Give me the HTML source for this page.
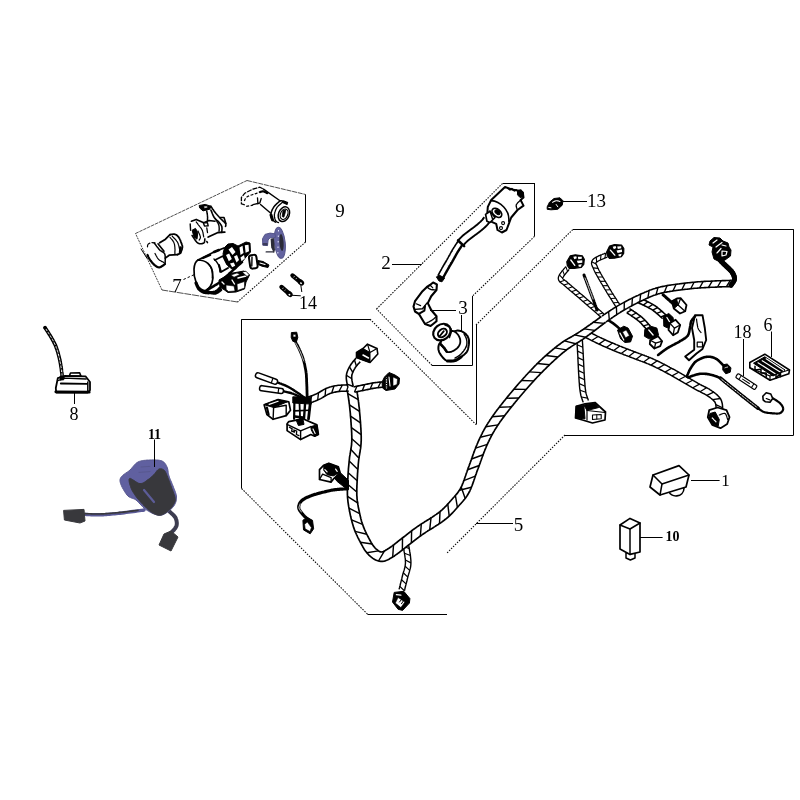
<!DOCTYPE html><html><head><meta charset="utf-8"><title>Wire harness</title>
<style>html,body{margin:0;padding:0;background:#fff;}svg{display:block;font-family:"Liberation Serif",serif;}</style></head><body>
<svg width="800" height="800" viewBox="0 0 800 800">
<rect width="800" height="800" fill="#fff"/>
<line x1="135.5" y1="233.5" x2="247.0" y2="180.5" stroke="#222" stroke-width="0.80" stroke-dasharray="3.5 0.8"/>
<line x1="247.0" y1="180.5" x2="305.6" y2="194.5" stroke="#222" stroke-width="0.80" stroke-dasharray="5 0.8"/>
<line x1="305.5" y1="194.5" x2="305.5" y2="242.0" stroke="#000" stroke-width="1.00"/>
<line x1="305.6" y1="242.0" x2="237.5" y2="302.0" stroke="#0a0a0a" stroke-width="1.08" stroke-dasharray="1.5 1.3"/>
<line x1="237.5" y1="302.0" x2="162.0" y2="290.0" stroke="#222" stroke-width="0.80" stroke-dasharray="7 0.8"/>
<line x1="162.0" y1="290.0" x2="135.5" y2="233.5" stroke="#222" stroke-width="0.90" stroke-dasharray="1.8 1.0"/>
<line x1="503.0" y1="183.5" x2="534.5" y2="183.5" stroke="#000" stroke-width="1.00"/>
<line x1="534.5" y1="183.0" x2="534.5" y2="236.4" stroke="#000" stroke-width="1.00"/>
<line x1="534.5" y1="236.4" x2="472.6" y2="296.0" stroke="#0a0a0a" stroke-width="1.08" stroke-dasharray="1.5 1.3"/>
<line x1="472.5" y1="296.0" x2="472.5" y2="365.3" stroke="#000" stroke-width="1.00"/>
<line x1="472.6" y1="365.5" x2="432.0" y2="365.5" stroke="#000" stroke-width="1.00"/>
<line x1="432.0" y1="365.3" x2="376.5" y2="309.0" stroke="#0a0a0a" stroke-width="1.08" stroke-dasharray="1.5 1.3"/>
<line x1="376.5" y1="309.0" x2="503.0" y2="183.0" stroke="#0a0a0a" stroke-width="1.08" stroke-dasharray="1.5 1.3"/>
<line x1="241.6" y1="319.5" x2="370.0" y2="319.5" stroke="#000" stroke-width="1.00"/>
<line x1="241.5" y1="319.2" x2="241.5" y2="488.5" stroke="#000" stroke-width="1.00"/>
<line x1="241.6" y1="488.5" x2="367.5" y2="614.2" stroke="#0a0a0a" stroke-width="1.08" stroke-dasharray="1.5 1.3"/>
<line x1="367.5" y1="614.5" x2="447.0" y2="614.5" stroke="#000" stroke-width="1.00"/>
<line x1="370.0" y1="319.2" x2="476.0" y2="424.5" stroke="#0a0a0a" stroke-width="1.08" stroke-dasharray="1.5 1.3"/>
<line x1="476.5" y1="424.5" x2="476.5" y2="325.0" stroke="#000" stroke-width="1.00"/>
<line x1="476.0" y1="325.0" x2="573.0" y2="229.3" stroke="#0a0a0a" stroke-width="1.08" stroke-dasharray="1.5 1.3"/>
<line x1="573.0" y1="229.5" x2="793.7" y2="229.5" stroke="#000" stroke-width="1.00"/>
<line x1="793.5" y1="229.3" x2="793.5" y2="435.0" stroke="#000" stroke-width="1.00"/>
<line x1="793.7" y1="435.5" x2="565.0" y2="435.5" stroke="#000" stroke-width="1.00"/>
<line x1="565.0" y1="435.0" x2="447.0" y2="553.0" stroke="#0a0a0a" stroke-width="1.08" stroke-dasharray="1.5 1.3"/>
<path d="M565.8,266.6 L565.5,267.0 L565.2,267.4 L564.9,267.8 L564.6,268.1 L564.2,268.5 L563.9,268.9 L563.6,269.3 L563.3,269.7 L562.9,270.0 L562.6,270.4 L562.3,270.8 L561.9,271.2 L561.6,271.6 L561.3,272.1 L561.0,272.5 L560.7,272.9 L560.4,273.4 L560.0,273.8 L559.7,274.3 L559.4,274.8 L559.1,275.3 L558.9,275.9 L558.6,276.5 L558.4,277.3 L558.3,278.1 L558.3,278.9 L558.5,279.8 L558.9,280.7 L559.3,281.4 L559.8,282.0 L560.4,282.4 L560.8,282.8 L561.3,283.1 L561.7,283.4 L562.1,283.7 L562.5,284.0 L562.9,284.3 L563.3,284.6 L563.6,284.8 L564.0,285.1 L564.3,285.4 L564.7,285.8 L565.0,286.1 L565.4,286.4 L565.8,286.8 L566.2,287.1 L566.5,287.4 L566.9,287.8 L567.3,288.1 L567.7,288.4 L568.1,288.8 L568.5,289.1 L568.8,289.4 L569.2,289.7 L569.6,290.1 L570.0,290.4 L570.4,290.7 L570.8,291.0 L571.1,291.4 L571.5,291.7 L571.9,292.0 L572.3,292.3 L572.7,292.7 L573.1,293.0 L573.4,293.3 L573.8,293.6 L574.2,293.9 L574.6,294.3 L575.0,294.6 L575.3,294.9 L575.7,295.2 L576.1,295.6 L576.5,295.9 L576.9,296.2 L577.2,296.5 L577.6,296.8 L578.0,297.2 L578.4,297.5 L578.7,297.8 L579.1,298.1 L579.5,298.5 L579.9,298.8 L580.3,299.1 L580.6,299.5 L581.0,299.8 L581.4,300.1 L581.8,300.4 L582.1,300.8 L582.5,301.1 L582.9,301.4 L583.3,301.8 L583.7,302.1 L584.0,302.4 L584.4,302.7 L584.8,303.1 L585.2,303.4 L585.5,303.7 L585.9,304.0 L586.3,304.4 L586.7,304.7 L587.0,305.0 L587.4,305.4 L587.8,305.7 L588.2,306.0 L588.6,306.3 L588.9,306.7 L589.3,307.0 L589.7,307.3 L590.1,307.7 L590.4,308.0 L590.8,308.3 L591.2,308.6 L591.6,309.0 L591.9,309.3 L592.3,309.6 L592.7,310.0 L593.1,310.3 L593.5,310.6 L593.8,310.9 L594.2,311.3 L594.6,311.6 L595.0,311.9 L595.3,312.3 L595.7,312.6 L596.1,312.9 L596.5,313.2 L596.9,313.6 L597.2,313.9 L597.6,314.2 L598.0,314.5 L598.4,314.9 L598.7,315.2 L599.1,315.5 L599.5,315.9 L599.9,316.2 L600.2,316.5 L600.6,316.8 L601.0,317.2 L601.4,317.5 L604.3,314.2 L603.9,313.9 L603.5,313.5 L603.1,313.2 L602.8,312.9 L602.4,312.5 L602.0,312.2 L601.6,311.9 L601.2,311.6 L600.9,311.2 L600.5,310.9 L600.1,310.6 L599.7,310.2 L599.4,309.9 L599.0,309.6 L598.6,309.3 L598.2,308.9 L597.9,308.6 L597.5,308.3 L597.1,307.9 L596.7,307.6 L596.3,307.3 L596.0,307.0 L595.6,306.6 L595.2,306.3 L594.8,306.0 L594.5,305.6 L594.1,305.3 L593.7,305.0 L593.3,304.7 L593.0,304.3 L592.6,304.0 L592.2,303.7 L591.8,303.4 L591.4,303.0 L591.1,302.7 L590.7,302.4 L590.3,302.0 L589.9,301.7 L589.6,301.4 L589.2,301.1 L588.8,300.7 L588.4,300.4 L588.0,300.1 L587.7,299.7 L587.3,299.4 L586.9,299.1 L586.5,298.8 L586.2,298.4 L585.8,298.1 L585.4,297.8 L585.0,297.4 L584.6,297.1 L584.3,296.8 L583.9,296.5 L583.5,296.1 L583.1,295.8 L582.8,295.5 L582.4,295.1 L582.0,294.8 L581.6,294.5 L581.2,294.2 L580.9,293.8 L580.5,293.5 L580.1,293.2 L579.7,292.9 L579.3,292.5 L579.0,292.2 L578.6,291.9 L578.2,291.6 L577.8,291.2 L577.4,290.9 L577.0,290.6 L576.7,290.3 L576.3,289.9 L575.9,289.6 L575.5,289.3 L575.1,289.0 L574.7,288.6 L574.4,288.3 L574.0,288.0 L573.6,287.7 L573.2,287.4 L572.8,287.0 L572.5,286.7 L572.1,286.4 L571.7,286.1 L571.3,285.7 L570.9,285.4 L570.6,285.1 L570.2,284.8 L569.8,284.5 L569.4,284.1 L569.1,283.8 L568.7,283.5 L568.3,283.2 L568.0,282.8 L567.6,282.5 L567.2,282.1 L566.8,281.8 L566.4,281.4 L566.0,281.1 L565.5,280.8 L565.1,280.5 L564.7,280.2 L564.3,279.9 L563.9,279.6 L563.5,279.3 L563.2,279.1 L563.0,278.9 L562.8,278.7 L562.7,278.6 L562.7,278.5 L562.7,278.4 L562.7,278.3 L562.7,278.1 L562.8,277.9 L562.9,277.6 L563.1,277.3 L563.3,277.0 L563.5,276.6 L563.7,276.2 L564.0,275.9 L564.2,275.5 L564.5,275.1 L564.8,274.7 L565.1,274.4 L565.4,274.0 L565.7,273.6 L566.0,273.2 L566.3,272.9 L566.6,272.5 L566.9,272.1 L567.3,271.7 L567.6,271.4 L567.9,271.0 L568.3,270.6 L568.6,270.2 L568.9,269.8 L569.2,269.4Z" fill="#fff" stroke="none"/>
<path d="M565.8,266.6 L565.2,267.4 L564.6,268.1 L563.9,268.9 L563.3,269.7 L562.6,270.4 L561.9,271.2 L561.3,272.1 L560.7,272.9 L560.0,273.8 L559.4,274.8 L558.9,275.9 L558.4,277.3 L558.3,278.9 L558.9,280.7 L559.8,282.0 L560.8,282.8 L561.7,283.4 L562.5,284.0 L563.3,284.6 L564.0,285.1 L564.7,285.8 L565.4,286.4 L566.2,287.1 L566.9,287.8 L567.7,288.4 L568.5,289.1 L569.2,289.7 L570.0,290.4 L570.8,291.0 L571.5,291.7 L572.3,292.3 L573.1,293.0 L573.8,293.6 L574.6,294.3 L575.3,294.9 L576.1,295.6 L576.9,296.2 L577.6,296.8 L578.4,297.5 L579.1,298.1 L579.9,298.8 L580.6,299.5 L581.4,300.1 L582.1,300.8 L582.9,301.4 L583.7,302.1 L584.4,302.7 L585.2,303.4 L585.9,304.0 L586.7,304.7 L587.4,305.4 L588.2,306.0 L588.9,306.7 L589.7,307.3 L590.4,308.0 L591.2,308.6 L591.9,309.3 L592.7,310.0 L593.5,310.6 L594.2,311.3 L595.0,311.9 L595.7,312.6 L596.5,313.2 L597.2,313.9 L598.0,314.5 L598.7,315.2 L599.5,315.9 L600.2,316.5 L601.0,317.2" fill="none" stroke="#000" stroke-width="1.30" stroke-linejoin="round"/>
<path d="M569.2,269.4 L568.6,270.2 L567.9,271.0 L567.3,271.7 L566.6,272.5 L566.0,273.2 L565.4,274.0 L564.8,274.7 L564.2,275.5 L563.7,276.2 L563.3,277.0 L562.9,277.6 L562.7,278.1 L562.7,278.4 L562.7,278.6 L563.0,278.9 L563.5,279.3 L564.3,279.9 L565.1,280.5 L566.0,281.1 L566.8,281.8 L567.6,282.5 L568.3,283.2 L569.1,283.8 L569.8,284.5 L570.6,285.1 L571.3,285.7 L572.1,286.4 L572.8,287.0 L573.6,287.7 L574.4,288.3 L575.1,289.0 L575.9,289.6 L576.7,290.3 L577.4,290.9 L578.2,291.6 L579.0,292.2 L579.7,292.9 L580.5,293.5 L581.2,294.2 L582.0,294.8 L582.8,295.5 L583.5,296.1 L584.3,296.8 L585.0,297.4 L585.8,298.1 L586.5,298.8 L587.3,299.4 L588.0,300.1 L588.8,300.7 L589.6,301.4 L590.3,302.0 L591.1,302.7 L591.8,303.4 L592.6,304.0 L593.3,304.7 L594.1,305.3 L594.8,306.0 L595.6,306.6 L596.3,307.3 L597.1,307.9 L597.9,308.6 L598.6,309.3 L599.4,309.9 L600.1,310.6 L600.9,311.2 L601.6,311.9 L602.4,312.5 L603.1,313.2 L603.9,313.9" fill="none" stroke="#000" stroke-width="1.30" stroke-linejoin="round"/>
<path d="M565.8,266.6 L567.6,271.4 M562.6,270.4 L564.5,275.1 M559.4,274.8 L562.7,278.3 M559.8,282.0 L564.7,280.2 M564.0,285.1 L568.7,283.5 M567.7,288.4 L572.5,286.7 M571.5,291.7 L576.3,289.9 M575.3,294.9 L580.1,293.2 M579.1,298.1 L583.9,296.5 M582.9,301.4 L587.7,299.7 M586.7,304.7 L591.4,303.0 M590.4,308.0 L595.2,306.3 M594.2,311.3 L599.0,309.6 M598.0,314.5 L602.8,312.9 " fill="none" stroke="#000" stroke-width="1.10"/>
<path d="M584.0,275.0 L584.1,275.4 L584.3,275.9 L584.5,276.4 L584.8,277.1 L585.0,277.8 L585.3,278.5 L585.6,279.3 L585.9,280.0 L586.2,280.8 L586.5,281.6 L586.7,282.3 L587.0,283.0 L587.2,283.7 L587.5,284.3 L587.8,285.0 L588.0,285.7 L588.2,286.3 L588.5,287.0 L588.8,287.7 L589.0,288.3 L589.2,289.0 L589.5,289.7 L589.8,290.3 L590.0,291.0 L590.2,291.7 L590.5,292.3 L590.7,292.9 L591.0,293.6 L591.2,294.2 L591.4,294.8 L591.7,295.5 L591.9,296.1 L592.2,296.8 L592.4,297.5 L592.7,298.2 L593.0,299.0 L593.3,299.8 L593.7,300.8 L594.0,301.8 L594.4,302.9 L594.8,303.9 L595.2,305.0 L595.6,306.0 L595.9,307.0 L596.3,308.0 L596.6,308.8 L596.8,309.5 L597.0,310.0" fill="none" stroke="#000" stroke-width="3.00" stroke-linecap="round" stroke-linejoin="round"/>
<path d="M585.0,278.0 L585.1,278.3 L585.3,278.6 L585.4,279.1 L585.6,279.5 L585.9,280.0 L586.1,280.6 L586.3,281.1 L586.6,281.7 L586.8,282.3 L587.1,282.9 L587.3,283.4 L587.5,284.0 L587.7,284.5 L587.9,285.1 L588.1,285.7 L588.3,286.2 L588.5,286.8 L588.7,287.4 L588.9,288.0 L589.1,288.6 L589.3,289.2 L589.6,289.8 L589.8,290.4 L590.0,291.0 L590.2,291.7 L590.5,292.4 L590.8,293.1 L591.1,293.9 L591.4,294.7 L591.7,295.4 L591.9,296.2 L592.2,296.9 L592.4,297.5 L592.7,298.1 L592.9,298.6 L593.0,299.0" fill="none" stroke="#fff" stroke-width="0.90" stroke-linecap="round" stroke-linejoin="round"/>
<path d="M605.6,253.0 L605.2,253.2 L604.7,253.4 L604.3,253.6 L603.8,253.8 L603.4,254.0 L602.9,254.1 L602.4,254.3 L602.0,254.5 L601.5,254.7 L601.0,254.9 L600.6,255.1 L600.1,255.3 L599.6,255.5 L599.2,255.7 L598.7,255.9 L598.2,256.2 L597.7,256.4 L597.3,256.6 L596.8,256.8 L596.3,257.1 L595.8,257.3 L595.4,257.6 L594.9,257.9 L594.4,258.3 L593.9,258.6 L593.3,259.1 L592.8,259.6 L592.4,260.2 L591.9,261.0 L591.7,261.8 L591.5,262.6 L591.5,263.4 L591.6,264.2 L591.8,264.9 L592.0,265.5 L592.2,266.1 L592.5,266.6 L592.7,267.0 L592.9,267.5 L593.1,267.9 L593.3,268.4 L593.5,268.8 L593.7,269.3 L593.9,269.8 L594.1,270.2 L594.3,270.7 L594.5,271.2 L594.8,271.7 L595.0,272.1 L595.2,272.6 L595.5,273.0 L595.7,273.5 L596.0,273.9 L596.2,274.4 L596.5,274.8 L596.7,275.3 L597.0,275.7 L597.2,276.2 L597.5,276.6 L597.7,277.0 L598.0,277.5 L598.2,277.9 L598.5,278.3 L598.7,278.8 L599.0,279.2 L599.2,279.6 L599.5,280.1 L599.7,280.5 L600.0,280.9 L600.2,281.4 L600.5,281.8 L600.7,282.2 L601.0,282.7 L601.2,283.1 L601.5,283.5 L601.8,284.0 L602.0,284.4 L602.3,284.8 L602.5,285.3 L602.8,285.7 L603.0,286.1 L603.3,286.6 L603.5,287.0 L603.8,287.4 L604.1,287.8 L604.3,288.3 L604.6,288.7 L604.8,289.1 L605.1,289.6 L605.4,290.0 L605.6,290.4 L605.9,290.9 L606.1,291.3 L606.4,291.7 L606.7,292.1 L606.9,292.6 L607.2,293.0 L607.4,293.4 L607.7,293.9 L608.0,294.3 L608.2,294.7 L608.5,295.1 L608.8,295.6 L609.0,296.0 L609.3,296.4 L609.6,296.8 L609.8,297.3 L610.1,297.7 L610.4,298.1 L610.6,298.5 L610.9,299.0 L611.2,299.4 L611.4,299.8 L611.7,300.2 L612.0,300.7 L612.3,301.1 L612.5,301.5 L612.8,301.9 L613.1,302.4 L613.3,302.8 L613.6,303.2 L613.9,303.6 L614.2,304.0 L614.4,304.5 L614.7,304.9 L615.0,305.3 L615.2,305.7 L615.5,306.1 L615.8,306.6 L616.1,307.0 L616.3,307.4 L616.6,307.8 L616.9,308.2 L617.2,308.7 L617.4,309.1 L617.7,309.5 L618.0,309.9 L621.7,307.5 L621.4,307.1 L621.1,306.7 L620.8,306.3 L620.6,305.8 L620.3,305.4 L620.0,305.0 L619.7,304.6 L619.5,304.2 L619.2,303.7 L618.9,303.3 L618.7,302.9 L618.4,302.5 L618.1,302.1 L617.8,301.6 L617.6,301.2 L617.3,300.8 L617.0,300.4 L616.8,300.0 L616.5,299.5 L616.2,299.1 L616.0,298.7 L615.7,298.3 L615.4,297.9 L615.1,297.5 L614.9,297.0 L614.6,296.6 L614.3,296.2 L614.1,295.8 L613.8,295.4 L613.6,294.9 L613.3,294.5 L613.0,294.1 L612.8,293.7 L612.5,293.2 L612.2,292.8 L612.0,292.4 L611.7,292.0 L611.5,291.5 L611.2,291.1 L610.9,290.7 L610.7,290.3 L610.4,289.8 L610.2,289.4 L609.9,289.0 L609.6,288.6 L609.4,288.1 L609.1,287.7 L608.9,287.3 L608.6,286.9 L608.3,286.4 L608.1,286.0 L607.8,285.6 L607.6,285.2 L607.3,284.7 L607.1,284.3 L606.8,283.9 L606.6,283.4 L606.3,283.0 L606.1,282.6 L605.8,282.2 L605.6,281.7 L605.3,281.3 L605.0,280.9 L604.8,280.4 L604.5,280.0 L604.3,279.6 L604.1,279.2 L603.8,278.7 L603.6,278.3 L603.3,277.9 L603.0,277.4 L602.8,277.0 L602.5,276.6 L602.3,276.1 L602.0,275.7 L601.8,275.3 L601.5,274.8 L601.3,274.4 L601.0,274.0 L600.8,273.5 L600.6,273.1 L600.3,272.7 L600.1,272.2 L599.8,271.8 L599.6,271.4 L599.4,271.0 L599.1,270.5 L598.9,270.1 L598.7,269.7 L598.5,269.3 L598.3,268.8 L598.1,268.4 L597.9,268.0 L597.7,267.5 L597.5,267.1 L597.3,266.6 L597.1,266.1 L596.9,265.7 L596.7,265.2 L596.5,264.8 L596.3,264.4 L596.1,264.0 L596.0,263.7 L595.9,263.4 L595.9,263.2 L595.9,263.0 L595.9,262.9 L596.0,262.8 L596.0,262.6 L596.2,262.4 L596.4,262.3 L596.6,262.1 L596.9,261.9 L597.2,261.6 L597.6,261.4 L598.0,261.2 L598.4,261.0 L598.8,260.8 L599.2,260.5 L599.6,260.3 L600.1,260.1 L600.5,259.9 L600.9,259.7 L601.4,259.5 L601.8,259.4 L602.3,259.2 L602.7,259.0 L603.2,258.8 L603.7,258.6 L604.1,258.4 L604.6,258.2 L605.0,258.0 L605.5,257.8 L606.0,257.6 L606.5,257.4 L606.9,257.2 L607.4,257.0Z" fill="#fff" stroke="none"/>
<path d="M605.6,253.0 L604.7,253.4 L603.8,253.8 L602.9,254.1 L602.0,254.5 L601.0,254.9 L600.1,255.3 L599.2,255.7 L598.2,256.2 L597.3,256.6 L596.3,257.1 L595.4,257.6 L594.4,258.3 L593.3,259.1 L592.4,260.2 L591.7,261.8 L591.5,263.4 L591.8,264.9 L592.2,266.1 L592.7,267.0 L593.1,267.9 L593.5,268.8 L593.9,269.8 L594.3,270.7 L594.8,271.7 L595.2,272.6 L595.7,273.5 L596.2,274.4 L596.7,275.3 L597.2,276.2 L597.7,277.0 L598.2,277.9 L598.7,278.8 L599.2,279.6 L599.7,280.5 L600.2,281.4 L600.7,282.2 L601.2,283.1 L601.8,284.0 L602.3,284.8 L602.8,285.7 L603.3,286.6 L603.8,287.4 L604.3,288.3 L604.8,289.1 L605.4,290.0 L605.9,290.9 L606.4,291.7 L606.9,292.6 L607.4,293.4 L608.0,294.3 L608.5,295.1 L609.0,296.0 L609.6,296.8 L610.1,297.7 L610.6,298.5 L611.2,299.4 L611.7,300.2 L612.3,301.1 L612.8,301.9 L613.3,302.8 L613.9,303.6 L614.4,304.5 L615.0,305.3 L615.5,306.1 L616.1,307.0 L616.6,307.8 L617.2,308.7 L617.7,309.5" fill="none" stroke="#000" stroke-width="1.30" stroke-linejoin="round"/>
<path d="M607.4,257.0 L606.5,257.4 L605.5,257.8 L604.6,258.2 L603.7,258.6 L602.7,259.0 L601.8,259.4 L600.9,259.7 L600.1,260.1 L599.2,260.5 L598.4,261.0 L597.6,261.4 L596.9,261.9 L596.4,262.3 L596.0,262.6 L595.9,262.9 L595.9,263.2 L596.0,263.7 L596.3,264.4 L596.7,265.2 L597.1,266.1 L597.5,267.1 L597.9,268.0 L598.3,268.8 L598.7,269.7 L599.1,270.5 L599.6,271.4 L600.1,272.2 L600.6,273.1 L601.0,274.0 L601.5,274.8 L602.0,275.7 L602.5,276.6 L603.0,277.4 L603.6,278.3 L604.1,279.2 L604.5,280.0 L605.0,280.9 L605.6,281.7 L606.1,282.6 L606.6,283.4 L607.1,284.3 L607.6,285.2 L608.1,286.0 L608.6,286.9 L609.1,287.7 L609.6,288.6 L610.2,289.4 L610.7,290.3 L611.2,291.1 L611.7,292.0 L612.2,292.8 L612.8,293.7 L613.3,294.5 L613.8,295.4 L614.3,296.2 L614.9,297.0 L615.4,297.9 L616.0,298.7 L616.5,299.5 L617.0,300.4 L617.6,301.2 L618.1,302.1 L618.7,302.9 L619.2,303.7 L619.7,304.6 L620.3,305.4 L620.8,306.3 L621.4,307.1" fill="none" stroke="#000" stroke-width="1.30" stroke-linejoin="round"/>
<path d="M605.6,253.0 L605.0,258.0 M601.0,254.9 L600.5,259.9 M596.3,257.1 L596.6,262.1 M591.7,261.8 L596.1,264.0 M593.1,267.9 L598.1,268.4 M595.2,272.6 L600.3,272.7 M597.7,277.0 L602.8,277.0 M600.2,281.4 L605.3,281.3 M602.8,285.7 L607.8,285.6 M605.4,290.0 L610.4,289.8 M608.0,294.3 L613.0,294.1 M610.6,298.5 L615.7,298.3 M613.3,302.8 L618.4,302.5 M616.1,307.0 L621.1,306.7 " fill="none" stroke="#000" stroke-width="1.10"/>
<g transform="translate(575.3,261.5) rotate(0.0) scale(1.00)">
<path d="M-8.5,0.3 L-5,-5.7 L0,-6.7 L7,-5.7 L9,-2.2 L8.5,2.8 L6,5.8 L-1,6.8 L-6,6.8 L-8,3.8 Z" fill="#000" stroke="#000" stroke-width="1.2" stroke-linejoin="round"/>
<path d="M-2,-4.7 L1,-5.2 L1.5,-3.2 L-1,-2.2 Z M2.5,-4.7 L6.5,-4.7 L6.5,-2.7 L3,-2.2 Z M1.5,-0.7 L7,-1.2 L7,1.3 L2.5,1.8 Z M3,3.3 L6.5,2.8 L5.5,5.3 L3.5,5.3 Z" fill="#fff"/>
<path d="M-4.5,-1.5 L-0.5,3.8" stroke="#fff" stroke-width="1.4" fill="none" stroke-linecap="round"/>
</g>
<g transform="translate(615.0,251.3) rotate(-4.0) scale(1.00)">
<path d="M-8.5,0.3 L-5,-5.7 L0,-6.7 L7,-5.7 L9,-2.2 L8.5,2.8 L6,5.8 L-1,6.8 L-6,6.8 L-8,3.8 Z" fill="#000" stroke="#000" stroke-width="1.2" stroke-linejoin="round"/>
<path d="M-2,-4.7 L1,-5.2 L1.5,-3.2 L-1,-2.2 Z M2.5,-4.7 L6.5,-4.7 L6.5,-2.7 L3,-2.2 Z M1.5,-0.7 L7,-1.2 L7,1.3 L2.5,1.8 Z M3,3.3 L6.5,2.8 L5.5,5.3 L3.5,5.3 Z" fill="#fff"/>
<path d="M-4.5,-1.5 L-0.5,3.8" stroke="#fff" stroke-width="1.4" fill="none" stroke-linecap="round"/>
</g>
<path d="M663.1,294.8 L663.3,294.9 L663.6,295.2 L663.9,295.4 L664.2,295.8 L664.6,296.1 L665.0,296.4 L665.4,296.8 L665.8,297.2 L666.2,297.6 L666.6,298.0 L667.1,298.4 L667.5,298.8 L667.9,299.1 L668.4,299.6 L669.0,300.0 L669.5,300.5 L670.0,301.0 L670.6,301.5 L671.1,302.0 L671.6,302.4 L672.1,302.8 L672.5,303.2 L672.8,303.5 L673.1,303.8" fill="none" stroke="#000" stroke-width="3.00" stroke-linecap="round" stroke-linejoin="round"/>
<path d="M638.4,302.9 L638.8,303.1 L639.3,303.3 L639.8,303.5 L640.2,303.7 L640.7,303.9 L641.1,304.1 L641.6,304.3 L642.0,304.5 L642.5,304.7 L642.9,304.9 L643.3,305.1 L643.8,305.3 L644.2,305.5 L644.6,305.7 L645.1,306.0 L645.5,306.2 L646.0,306.4 L646.4,306.6 L646.8,306.9 L647.3,307.1 L647.7,307.3 L648.2,307.5 L648.6,307.8 L649.0,308.0 L649.4,308.2 L649.9,308.5 L650.3,308.7 L650.7,308.9 L651.1,309.2 L651.5,309.4 L651.9,309.7 L652.3,309.9 L652.7,310.2 L653.0,310.4 L653.4,310.7 L653.8,311.0 L654.2,311.2 L654.5,311.5 L654.9,311.8 L655.3,312.1 L655.6,312.4 L656.0,312.8 L656.4,313.1 L656.7,313.4 L657.1,313.7 L657.5,314.0 L657.9,314.4 L658.2,314.7 L658.6,315.0 L659.0,315.3 L659.3,315.7 L659.7,316.0 L660.1,316.3 L660.4,316.7 L660.8,317.0 L661.2,317.3 L661.5,317.7 L661.9,318.0 L662.3,318.4 L662.7,318.7 L666.0,315.0 L665.6,314.6 L665.3,314.3 L664.9,314.0 L664.5,313.7 L664.2,313.3 L663.8,313.0 L663.4,312.6 L663.1,312.3 L662.7,312.0 L662.3,311.6 L661.9,311.3 L661.5,310.9 L661.2,310.6 L660.8,310.3 L660.4,309.9 L660.0,309.6 L659.6,309.3 L659.2,308.9 L658.8,308.6 L658.4,308.3 L658.0,307.9 L657.6,307.6 L657.2,307.3 L656.8,307.0 L656.3,306.6 L655.9,306.3 L655.5,306.0 L655.0,305.7 L654.6,305.4 L654.1,305.2 L653.7,304.9 L653.2,304.6 L652.8,304.4 L652.3,304.1 L651.8,303.8 L651.4,303.6 L650.9,303.3 L650.5,303.1 L650.0,302.9 L649.6,302.6 L649.1,302.4 L648.7,302.2 L648.2,302.0 L647.8,301.7 L647.3,301.5 L646.9,301.3 L646.4,301.0 L645.9,300.8 L645.5,300.6 L645.0,300.4 L644.5,300.1 L644.1,299.9 L643.6,299.7 L643.1,299.5 L642.7,299.3 L642.2,299.1 L641.7,298.9 L641.3,298.7 L640.8,298.5 L640.4,298.3Z" fill="#fff" stroke="none"/>
<path d="M638.4,302.9 L639.3,303.3 L640.2,303.7 L641.1,304.1 L642.0,304.5 L642.9,304.9 L643.8,305.3 L644.6,305.7 L645.5,306.2 L646.4,306.6 L647.3,307.1 L648.2,307.5 L649.0,308.0 L649.9,308.5 L650.7,308.9 L651.5,309.4 L652.3,309.9 L653.0,310.4 L653.8,311.0 L654.5,311.5 L655.3,312.1 L656.0,312.8 L656.7,313.4 L657.5,314.0 L658.2,314.7 L659.0,315.3 L659.7,316.0 L660.4,316.7 L661.2,317.3 L661.9,318.0 L662.7,318.7" fill="none" stroke="#000" stroke-width="1.60" stroke-linejoin="round"/>
<path d="M640.4,298.3 L641.3,298.7 L642.2,299.1 L643.1,299.5 L644.1,299.9 L645.0,300.4 L645.9,300.8 L646.9,301.3 L647.8,301.7 L648.7,302.2 L649.6,302.6 L650.5,303.1 L651.4,303.6 L652.3,304.1 L653.2,304.6 L654.1,305.2 L655.0,305.7 L655.9,306.3 L656.8,307.0 L657.6,307.6 L658.4,308.3 L659.2,308.9 L660.0,309.6 L660.8,310.3 L661.5,310.9 L662.3,311.6 L663.1,312.3 L663.8,313.0 L664.5,313.7 L665.3,314.3 L666.0,315.0" fill="none" stroke="#000" stroke-width="1.60" stroke-linejoin="round"/>
<path d="M638.4,302.9 L642.7,299.3 M643.3,305.1 L647.8,301.7 M648.2,307.5 L652.8,304.4 M652.7,310.2 L657.6,307.6 M656.7,313.4 L661.9,311.3 M660.8,317.0 L666.0,315.0 " fill="none" stroke="#000" stroke-width="1.36"/>
<path d="M626.8,312.7 L627.2,313.0 L627.6,313.3 L628.0,313.5 L628.4,313.8 L628.9,314.1 L629.3,314.4 L629.7,314.6 L630.1,314.9 L630.5,315.2 L630.9,315.4 L631.3,315.7 L631.7,316.0 L632.1,316.3 L632.5,316.6 L632.9,316.8 L633.3,317.1 L633.8,317.4 L634.2,317.7 L634.6,318.0 L635.0,318.3 L635.4,318.6 L635.8,318.8 L636.2,319.1 L636.6,319.4 L636.9,319.7 L637.3,320.0 L637.7,320.3 L638.1,320.6 L638.4,320.8 L638.8,321.1 L639.1,321.4 L639.5,321.8 L639.8,322.1 L640.1,322.4 L640.5,322.7 L640.8,323.0 L641.1,323.4 L641.5,323.7 L641.8,324.1 L642.1,324.4 L642.5,324.8 L642.8,325.2 L643.1,325.5 L643.4,325.9 L643.8,326.3 L644.1,326.6 L644.4,327.0 L644.8,327.4 L645.1,327.7 L645.4,328.1 L645.7,328.5 L646.1,328.9 L646.4,329.3 L646.7,329.6 L650.5,326.3 L650.1,325.9 L649.8,325.6 L649.5,325.2 L649.2,324.8 L648.8,324.4 L648.5,324.1 L648.2,323.7 L647.8,323.3 L647.5,322.9 L647.2,322.6 L646.8,322.2 L646.5,321.8 L646.1,321.4 L645.8,321.0 L645.4,320.7 L645.1,320.3 L644.7,319.9 L644.4,319.5 L644.0,319.2 L643.6,318.8 L643.2,318.4 L642.8,318.1 L642.4,317.7 L642.0,317.3 L641.6,317.0 L641.2,316.7 L640.8,316.3 L640.4,316.0 L639.9,315.7 L639.5,315.4 L639.1,315.1 L638.7,314.8 L638.3,314.5 L637.8,314.2 L637.4,313.9 L637.0,313.6 L636.6,313.3 L636.2,313.0 L635.8,312.8 L635.4,312.5 L635.0,312.2 L634.6,311.9 L634.1,311.6 L633.7,311.3 L633.3,311.0 L632.9,310.7 L632.4,310.4 L632.0,310.2 L631.6,309.9 L631.2,309.6 L630.7,309.3 L630.3,309.1 L629.9,308.8 L629.5,308.5Z" fill="#fff" stroke="none"/>
<path d="M626.8,312.7 L627.6,313.3 L628.4,313.8 L629.3,314.4 L630.1,314.9 L630.9,315.4 L631.7,316.0 L632.5,316.6 L633.3,317.1 L634.2,317.7 L635.0,318.3 L635.8,318.8 L636.6,319.4 L637.3,320.0 L638.1,320.6 L638.8,321.1 L639.5,321.8 L640.1,322.4 L640.8,323.0 L641.5,323.7 L642.1,324.4 L642.8,325.2 L643.4,325.9 L644.1,326.6 L644.8,327.4 L645.4,328.1 L646.1,328.9 L646.7,329.6" fill="none" stroke="#000" stroke-width="1.60" stroke-linejoin="round"/>
<path d="M629.5,308.5 L630.3,309.1 L631.2,309.6 L632.0,310.2 L632.9,310.7 L633.7,311.3 L634.6,311.9 L635.4,312.5 L636.2,313.0 L637.0,313.6 L637.8,314.2 L638.7,314.8 L639.5,315.4 L640.4,316.0 L641.2,316.7 L642.0,317.3 L642.8,318.1 L643.6,318.8 L644.4,319.5 L645.1,320.3 L645.8,321.0 L646.5,321.8 L647.2,322.6 L647.8,323.3 L648.5,324.1 L649.2,324.8 L649.8,325.6 L650.5,326.3" fill="none" stroke="#000" stroke-width="1.60" stroke-linejoin="round"/>
<path d="M626.8,312.7 L631.6,309.9 M631.3,315.7 L636.2,313.0 M635.8,318.8 L640.8,316.3 M639.8,322.1 L645.1,320.3 M643.4,325.9 L648.8,324.4 " fill="none" stroke="#000" stroke-width="1.36"/>
<path d="M608.0,320.0 L608.3,320.2 L608.7,320.4 L609.1,320.7 L609.6,321.0 L610.1,321.3 L610.6,321.7 L611.2,322.1 L611.8,322.4 L612.4,322.8 L612.9,323.2 L613.5,323.6 L614.0,324.0 L614.5,324.4 L615.1,324.8 L615.6,325.3 L616.2,325.8 L616.8,326.3 L617.4,326.8 L617.9,327.2 L618.4,327.7 L618.9,328.1 L619.3,328.4 L619.7,328.8 L620.0,329.0" fill="none" stroke="#000" stroke-width="2.60" stroke-linecap="round" stroke-linejoin="round"/>
<path d="M584.5,336.9 L585.0,337.1 L585.4,337.3 L585.9,337.6 L586.3,337.8 L586.7,338.0 L587.2,338.3 L587.6,338.5 L588.1,338.7 L588.5,338.9 L589.0,339.2 L589.4,339.4 L589.9,339.6 L590.3,339.9 L590.8,340.1 L591.2,340.3 L591.7,340.5 L592.1,340.8 L592.6,341.0 L593.0,341.2 L593.5,341.4 L593.9,341.7 L594.4,341.9 L594.8,342.1 L595.3,342.3 L595.7,342.6 L596.2,342.8 L596.6,343.0 L597.1,343.2 L597.6,343.4 L598.0,343.7 L598.5,343.9 L598.9,344.1 L599.4,344.3 L599.9,344.5 L600.3,344.7 L600.8,344.9 L601.2,345.1 L601.7,345.4 L602.2,345.6 L602.6,345.8 L603.1,346.0 L603.5,346.2 L604.0,346.4 L604.5,346.6 L604.9,346.8 L605.4,347.0 L605.8,347.2 L606.3,347.4 L606.8,347.6 L607.2,347.8 L607.7,348.0 L608.2,348.2 L608.6,348.4 L609.1,348.6 L609.5,348.8 L610.0,349.0 L610.5,349.2 L610.9,349.4 L611.4,349.6 L611.9,349.8 L612.3,350.0 L612.8,350.2 L613.3,350.4 L613.7,350.6 L614.2,350.8 L614.7,351.0 L615.1,351.2 L615.6,351.3 L616.1,351.5 L616.5,351.7 L617.0,351.9 L617.5,352.1 L617.9,352.3 L618.4,352.5 L618.9,352.7 L619.3,352.8 L619.8,353.0 L620.3,353.2 L620.7,353.4 L621.2,353.6 L621.7,353.8 L622.2,353.9 L622.6,354.1 L623.1,354.3 L623.6,354.5 L624.0,354.7 L624.5,354.8 L625.0,355.0 L625.4,355.2 L625.9,355.4 L626.4,355.6 L626.8,355.7 L627.3,355.9 L627.8,356.1 L628.2,356.3 L628.7,356.4 L629.2,356.6 L629.6,356.8 L630.1,357.0 L630.6,357.2 L631.0,357.3 L631.5,357.5 L632.0,357.7 L632.4,357.9 L632.9,358.1 L633.4,358.2 L633.8,358.4 L634.3,358.6 L634.8,358.8 L635.2,359.0 L635.7,359.1 L636.2,359.3 L636.7,359.5 L637.1,359.7 L637.6,359.8 L638.1,360.0 L638.5,360.2 L639.0,360.4 L639.5,360.5 L639.9,360.7 L640.4,360.9 L640.9,361.1 L641.3,361.2 L641.8,361.4 L642.3,361.6 L642.7,361.8 L643.2,361.9 L643.7,362.1 L644.1,362.3 L644.6,362.5 L645.0,362.7 L645.5,362.8 L646.0,363.0 L646.4,363.2 L646.9,363.4 L647.3,363.6 L647.8,363.7 L648.2,363.9 L648.7,364.1 L649.1,364.3 L649.6,364.5 L650.0,364.7 L650.5,364.9 L650.9,365.1 L651.4,365.3 L651.8,365.5 L652.3,365.7 L652.7,365.9 L653.1,366.1 L653.6,366.3 L654.0,366.5 L654.5,366.7 L654.9,366.9 L655.3,367.1 L655.8,367.3 L656.2,367.6 L656.7,367.8 L657.1,368.0 L657.6,368.2 L658.0,368.4 L658.4,368.7 L658.9,368.9 L659.3,369.1 L659.8,369.3 L660.2,369.6 L660.6,369.8 L661.1,370.0 L661.5,370.2 L661.9,370.5 L662.4,370.7 L662.8,370.9 L663.3,371.2 L663.7,371.4 L664.1,371.6 L664.6,371.9 L665.0,372.1 L665.5,372.3 L665.9,372.6 L666.3,372.8 L666.8,373.0 L667.2,373.3 L667.7,373.5 L668.1,373.7 L668.5,374.0 L669.0,374.2 L669.4,374.4 L669.8,374.7 L670.3,374.9 L670.7,375.2 L671.1,375.4 L671.6,375.6 L672.0,375.9 L672.4,376.1 L672.8,376.4 L673.3,376.6 L673.7,376.9 L674.1,377.1 L674.6,377.4 L675.0,377.6 L675.4,377.9 L675.9,378.1 L676.3,378.3 L676.7,378.6 L677.2,378.8 L677.6,379.1 L678.0,379.3 L678.5,379.6 L678.9,379.8 L679.3,380.1 L679.8,380.3 L680.2,380.6 L680.7,380.8 L681.1,381.1 L681.5,381.3 L682.0,381.6 L682.4,381.8 L682.8,382.1 L683.3,382.3 L683.7,382.6 L684.1,382.8 L684.6,383.1 L685.0,383.3 L685.4,383.6 L685.9,383.8 L686.3,384.1 L686.7,384.3 L687.2,384.5 L687.6,384.8 L688.0,385.0 L688.5,385.3 L688.9,385.5 L689.3,385.8 L689.8,386.0 L690.2,386.3 L690.6,386.5 L691.1,386.8 L691.5,387.0 L691.9,387.3 L692.4,387.5 L692.8,387.8 L693.2,388.0 L693.7,388.3 L694.1,388.5 L694.5,388.8 L695.0,389.0 L695.4,389.3 L695.9,389.5 L696.3,389.8 L696.8,390.0 L697.2,390.3 L697.7,390.5 L698.1,390.8 L698.6,391.0 L699.1,391.2 L699.5,391.5 L700.0,391.7 L700.4,391.9 L700.9,392.2 L701.3,392.4 L701.8,392.6 L702.2,392.8 L702.6,393.1 L703.1,393.3 L703.5,393.5 L704.0,393.7 L704.4,393.9 L704.8,394.2 L705.2,394.4 L705.6,394.6 L706.0,394.8 L706.4,395.1 L706.8,395.3 L707.2,395.5 L707.6,395.8 L707.9,396.0 L708.3,396.3 L708.7,396.6 L709.1,396.8 L709.5,397.1 L709.9,397.4 L710.2,397.7 L710.6,398.0 L711.0,398.3 L711.3,398.5 L711.7,398.8 L712.0,399.1 L712.4,399.4 L712.7,399.7 L713.0,400.0 L713.3,400.3 L713.6,400.6 L713.9,400.9 L714.2,401.2 L714.4,401.5 L714.6,401.8 L714.9,402.1 L715.0,402.4 L715.2,402.7 L715.3,402.9 L715.4,403.2 L715.5,403.5 L715.6,403.9 L715.7,404.2 L715.8,404.6 L715.9,405.0 L715.9,405.4 L716.0,405.8 L716.0,406.3 L716.0,406.7 L716.1,407.2 L716.1,407.6 L716.1,408.1 L716.1,408.6 L716.2,409.2 L716.2,409.7 L716.3,410.2 L722.7,409.7 L722.7,409.2 L722.7,408.8 L722.6,408.3 L722.6,407.8 L722.6,407.3 L722.6,406.8 L722.5,406.2 L722.5,405.7 L722.4,405.1 L722.4,404.6 L722.3,404.0 L722.2,403.4 L722.1,402.8 L721.9,402.2 L721.7,401.6 L721.5,400.9 L721.3,400.3 L721.0,399.7 L720.6,399.0 L720.3,398.5 L719.9,398.0 L719.5,397.5 L719.1,397.0 L718.7,396.6 L718.3,396.1 L717.9,395.7 L717.5,395.3 L717.1,394.9 L716.7,394.6 L716.3,394.2 L715.8,393.8 L715.4,393.5 L715.0,393.2 L714.6,392.8 L714.2,392.5 L713.7,392.2 L713.3,391.9 L712.9,391.6 L712.5,391.3 L712.0,391.0 L711.6,390.7 L711.1,390.3 L710.7,390.0 L710.2,389.8 L709.7,389.5 L709.3,389.2 L708.8,388.9 L708.3,388.7 L707.9,388.4 L707.4,388.2 L706.9,387.9 L706.5,387.7 L706.0,387.5 L705.6,387.2 L705.1,387.0 L704.7,386.8 L704.2,386.6 L703.8,386.3 L703.3,386.1 L702.9,385.9 L702.5,385.7 L702.0,385.5 L701.6,385.2 L701.2,385.0 L700.7,384.8 L700.3,384.6 L699.9,384.3 L699.5,384.1 L699.0,383.9 L698.6,383.6 L698.2,383.4 L697.7,383.1 L697.3,382.9 L696.9,382.6 L696.5,382.4 L696.0,382.1 L695.6,381.9 L695.2,381.7 L694.7,381.4 L694.3,381.2 L693.9,380.9 L693.4,380.7 L693.0,380.4 L692.6,380.2 L692.1,379.9 L691.7,379.7 L691.3,379.4 L690.8,379.2 L690.4,378.9 L690.0,378.7 L689.5,378.4 L689.1,378.2 L688.7,377.9 L688.2,377.7 L687.8,377.4 L687.3,377.2 L686.9,376.9 L686.5,376.7 L686.0,376.4 L685.6,376.2 L685.2,375.9 L684.7,375.7 L684.3,375.4 L683.9,375.2 L683.4,374.9 L683.0,374.7 L682.6,374.4 L682.1,374.2 L681.7,373.9 L681.3,373.7 L680.8,373.5 L680.4,373.2 L680.0,373.0 L679.5,372.7 L679.1,372.5 L678.7,372.2 L678.2,372.0 L677.8,371.7 L677.4,371.5 L676.9,371.2 L676.5,371.0 L676.0,370.7 L675.6,370.5 L675.2,370.2 L674.7,370.0 L674.3,369.7 L673.8,369.5 L673.4,369.2 L673.0,369.0 L672.5,368.8 L672.1,368.5 L671.6,368.3 L671.2,368.0 L670.7,367.8 L670.3,367.5 L669.8,367.3 L669.4,367.1 L669.0,366.8 L668.5,366.6 L668.1,366.4 L667.6,366.1 L667.2,365.9 L666.7,365.7 L666.3,365.4 L665.9,365.2 L665.4,365.0 L665.0,364.7 L664.5,364.5 L664.1,364.3 L663.6,364.0 L663.2,363.8 L662.7,363.6 L662.3,363.3 L661.8,363.1 L661.4,362.9 L660.9,362.6 L660.5,362.4 L660.0,362.2 L659.6,362.0 L659.1,361.7 L658.6,361.5 L658.2,361.3 L657.7,361.1 L657.3,360.8 L656.8,360.6 L656.3,360.4 L655.9,360.2 L655.4,360.0 L654.9,359.8 L654.5,359.6 L654.0,359.3 L653.5,359.1 L653.1,358.9 L652.6,358.7 L652.1,358.5 L651.7,358.3 L651.2,358.1 L650.7,357.9 L650.2,357.7 L649.8,357.5 L649.3,357.3 L648.8,357.2 L648.3,357.0 L647.9,356.8 L647.4,356.6 L646.9,356.4 L646.5,356.2 L646.0,356.0 L645.5,355.9 L645.0,355.7 L644.6,355.5 L644.1,355.3 L643.6,355.2 L643.2,355.0 L642.7,354.8 L642.2,354.6 L641.7,354.5 L641.3,354.3 L640.8,354.1 L640.3,353.9 L639.9,353.8 L639.4,353.6 L638.9,353.4 L638.5,353.2 L638.0,353.1 L637.5,352.9 L637.1,352.7 L636.6,352.5 L636.2,352.3 L635.7,352.2 L635.2,352.0 L634.8,351.8 L634.3,351.6 L633.8,351.5 L633.4,351.3 L632.9,351.1 L632.4,350.9 L632.0,350.7 L631.5,350.6 L631.0,350.4 L630.6,350.2 L630.1,350.0 L629.6,349.8 L629.2,349.7 L628.7,349.5 L628.2,349.3 L627.8,349.1 L627.3,348.9 L626.8,348.8 L626.4,348.6 L625.9,348.4 L625.4,348.2 L625.0,348.1 L624.5,347.9 L624.0,347.7 L623.6,347.5 L623.1,347.3 L622.6,347.2 L622.2,347.0 L621.7,346.8 L621.3,346.6 L620.8,346.4 L620.3,346.2 L619.9,346.1 L619.4,345.9 L619.0,345.7 L618.5,345.5 L618.0,345.3 L617.6,345.1 L617.1,344.9 L616.7,344.8 L616.2,344.6 L615.8,344.4 L615.3,344.2 L614.8,344.0 L614.4,343.8 L613.9,343.6 L613.5,343.4 L613.0,343.2 L612.6,343.0 L612.1,342.8 L611.6,342.6 L611.2,342.4 L610.7,342.3 L610.3,342.1 L609.8,341.9 L609.4,341.7 L608.9,341.5 L608.5,341.3 L608.0,341.1 L607.5,340.9 L607.1,340.7 L606.6,340.5 L606.2,340.3 L605.7,340.1 L605.3,339.8 L604.8,339.6 L604.4,339.4 L603.9,339.2 L603.5,339.0 L603.0,338.8 L602.6,338.6 L602.1,338.4 L601.7,338.2 L601.2,338.0 L600.8,337.8 L600.4,337.6 L599.9,337.4 L599.5,337.1 L599.0,336.9 L598.6,336.7 L598.1,336.5 L597.7,336.3 L597.3,336.1 L596.8,335.8 L596.4,335.6 L595.9,335.4 L595.5,335.2 L595.0,335.0 L594.6,334.7 L594.1,334.5 L593.7,334.3 L593.3,334.1 L592.8,333.8 L592.4,333.6 L591.9,333.4 L591.5,333.2 L591.0,332.9 L590.6,332.7 L590.2,332.5 L589.7,332.2 L589.3,332.0 L588.8,331.8 L588.4,331.6 L587.9,331.3 L587.5,331.1Z" fill="#fff" stroke="none"/>
<path d="M584.5,336.9 L585.4,337.3 L586.3,337.8 L587.2,338.3 L588.1,338.7 L589.0,339.2 L589.9,339.6 L590.8,340.1 L591.7,340.5 L592.6,341.0 L593.5,341.4 L594.4,341.9 L595.3,342.3 L596.2,342.8 L597.1,343.2 L598.0,343.7 L598.9,344.1 L599.9,344.5 L600.8,344.9 L601.7,345.4 L602.6,345.8 L603.5,346.2 L604.5,346.6 L605.4,347.0 L606.3,347.4 L607.2,347.8 L608.2,348.2 L609.1,348.6 L610.0,349.0 L610.9,349.4 L611.9,349.8 L612.8,350.2 L613.7,350.6 L614.7,351.0 L615.6,351.3 L616.5,351.7 L617.5,352.1 L618.4,352.5 L619.3,352.8 L620.3,353.2 L621.2,353.6 L622.2,353.9 L623.1,354.3 L624.0,354.7 L625.0,355.0 L625.9,355.4 L626.8,355.7 L627.8,356.1 L628.7,356.4 L629.6,356.8 L630.6,357.2 L631.5,357.5 L632.4,357.9 L633.4,358.2 L634.3,358.6 L635.2,359.0 L636.2,359.3 L637.1,359.7 L638.1,360.0 L639.0,360.4 L639.9,360.7 L640.9,361.1 L641.8,361.4 L642.7,361.8 L643.7,362.1 L644.6,362.5 L645.5,362.8 L646.4,363.2 L647.3,363.6 L648.2,363.9 L649.1,364.3 L650.0,364.7 L650.9,365.1 L651.8,365.5 L652.7,365.9 L653.6,366.3 L654.5,366.7 L655.3,367.1 L656.2,367.6 L657.1,368.0 L658.0,368.4 L658.9,368.9 L659.8,369.3 L660.6,369.8 L661.5,370.2 L662.4,370.7 L663.3,371.2 L664.1,371.6 L665.0,372.1 L665.9,372.6 L666.8,373.0 L667.7,373.5 L668.5,374.0 L669.4,374.4 L670.3,374.9 L671.1,375.4 L672.0,375.9 L672.8,376.4 L673.7,376.9 L674.6,377.4 L675.4,377.9 L676.3,378.3 L677.2,378.8 L678.0,379.3 L678.9,379.8 L679.8,380.3 L680.7,380.8 L681.5,381.3 L682.4,381.8 L683.3,382.3 L684.1,382.8 L685.0,383.3 L685.9,383.8 L686.7,384.3 L687.6,384.8 L688.5,385.3 L689.3,385.8 L690.2,386.3 L691.1,386.8 L691.9,387.3 L692.8,387.8 L693.7,388.3 L694.5,388.8 L695.4,389.3 L696.3,389.8 L697.2,390.3 L698.1,390.8 L699.1,391.2 L700.0,391.7 L700.9,392.2 L701.8,392.6 L702.6,393.1 L703.5,393.5 L704.4,393.9 L705.2,394.4 L706.0,394.8 L706.8,395.3 L707.6,395.8 L708.3,396.3 L709.1,396.8 L709.9,397.4 L710.6,398.0 L711.3,398.5 L712.0,399.1 L712.7,399.7 L713.3,400.3 L713.9,400.9 L714.4,401.5 L714.9,402.1 L715.2,402.7 L715.4,403.2 L715.6,403.9 L715.8,404.6 L715.9,405.4 L716.0,406.3 L716.1,407.2 L716.1,408.1 L716.2,409.2 L716.3,410.2" fill="none" stroke="#000" stroke-width="1.50" stroke-linejoin="round"/>
<path d="M587.5,331.1 L588.4,331.6 L589.3,332.0 L590.2,332.5 L591.0,332.9 L591.9,333.4 L592.8,333.8 L593.7,334.3 L594.6,334.7 L595.5,335.2 L596.4,335.6 L597.3,336.1 L598.1,336.5 L599.0,336.9 L599.9,337.4 L600.8,337.8 L601.7,338.2 L602.6,338.6 L603.5,339.0 L604.4,339.4 L605.3,339.8 L606.2,340.3 L607.1,340.7 L608.0,341.1 L608.9,341.5 L609.8,341.9 L610.7,342.3 L611.6,342.6 L612.6,343.0 L613.5,343.4 L614.4,343.8 L615.3,344.2 L616.2,344.6 L617.1,344.9 L618.0,345.3 L619.0,345.7 L619.9,346.1 L620.8,346.4 L621.7,346.8 L622.6,347.2 L623.6,347.5 L624.5,347.9 L625.4,348.2 L626.4,348.6 L627.3,348.9 L628.2,349.3 L629.2,349.7 L630.1,350.0 L631.0,350.4 L632.0,350.7 L632.9,351.1 L633.8,351.5 L634.8,351.8 L635.7,352.2 L636.6,352.5 L637.5,352.9 L638.5,353.2 L639.4,353.6 L640.3,353.9 L641.3,354.3 L642.2,354.6 L643.2,355.0 L644.1,355.3 L645.0,355.7 L646.0,356.0 L646.9,356.4 L647.9,356.8 L648.8,357.2 L649.8,357.5 L650.7,357.9 L651.7,358.3 L652.6,358.7 L653.5,359.1 L654.5,359.6 L655.4,360.0 L656.3,360.4 L657.3,360.8 L658.2,361.3 L659.1,361.7 L660.0,362.2 L660.9,362.6 L661.8,363.1 L662.7,363.6 L663.6,364.0 L664.5,364.5 L665.4,365.0 L666.3,365.4 L667.2,365.9 L668.1,366.4 L669.0,366.8 L669.8,367.3 L670.7,367.8 L671.6,368.3 L672.5,368.8 L673.4,369.2 L674.3,369.7 L675.2,370.2 L676.0,370.7 L676.9,371.2 L677.8,371.7 L678.7,372.2 L679.5,372.7 L680.4,373.2 L681.3,373.7 L682.1,374.2 L683.0,374.7 L683.9,375.2 L684.7,375.7 L685.6,376.2 L686.5,376.7 L687.3,377.2 L688.2,377.7 L689.1,378.2 L690.0,378.7 L690.8,379.2 L691.7,379.7 L692.6,380.2 L693.4,380.7 L694.3,381.2 L695.2,381.7 L696.0,382.1 L696.9,382.6 L697.7,383.1 L698.6,383.6 L699.5,384.1 L700.3,384.6 L701.2,385.0 L702.0,385.5 L702.9,385.9 L703.8,386.3 L704.7,386.8 L705.6,387.2 L706.5,387.7 L707.4,388.2 L708.3,388.7 L709.3,389.2 L710.2,389.8 L711.1,390.3 L712.0,391.0 L712.9,391.6 L713.7,392.2 L714.6,392.8 L715.4,393.5 L716.3,394.2 L717.1,394.9 L717.9,395.7 L718.7,396.6 L719.5,397.5 L720.3,398.5 L721.0,399.7 L721.5,400.9 L721.9,402.2 L722.2,403.4 L722.4,404.6 L722.5,405.7 L722.6,406.8 L722.6,407.8 L722.7,408.8 L722.7,409.7" fill="none" stroke="#000" stroke-width="1.50" stroke-linejoin="round"/>
<path d="M584.5,336.9 L591.0,332.9 M591.7,340.5 L598.1,336.5 M598.9,344.1 L605.3,339.8 M606.3,347.4 L612.6,343.0 M613.7,350.6 L619.9,346.1 M621.2,353.6 L627.3,348.9 M628.7,356.4 L634.8,351.8 M636.2,359.3 L642.2,354.6 M643.7,362.1 L649.8,357.5 M650.9,365.1 L657.3,360.8 M658.0,368.4 L664.5,364.5 M665.0,372.1 L671.6,368.3 M672.0,375.9 L678.7,372.2 M678.9,379.8 L685.6,376.2 M685.9,383.8 L692.6,380.2 M692.8,387.8 L699.5,384.1 M700.0,391.7 L706.5,387.7 M706.8,395.3 L713.7,392.2 M712.7,399.7 L720.3,398.5 M715.8,404.6 L722.6,407.8 " fill="none" stroke="#000" stroke-width="1.27"/>
<path d="M576.8,338.2 L576.8,338.7 L576.8,339.2 L576.8,339.7 L576.9,340.2 L576.9,340.7 L576.9,341.2 L577.0,341.7 L577.0,342.2 L577.0,342.7 L577.1,343.2 L577.1,343.7 L577.1,344.2 L577.1,344.7 L577.2,345.2 L577.2,345.7 L577.2,346.1 L577.3,346.6 L577.3,347.1 L577.3,347.6 L577.4,348.1 L577.4,348.6 L577.4,349.1 L577.4,349.6 L577.5,350.1 L577.5,350.6 L577.5,351.1 L577.6,351.6 L577.6,352.1 L577.6,352.6 L577.6,353.1 L577.7,353.6 L577.7,354.1 L577.7,354.6 L577.8,355.1 L577.8,355.6 L577.8,356.1 L577.8,356.6 L577.9,357.1 L577.9,357.6 L577.9,358.1 L577.9,358.6 L577.9,359.1 L578.0,359.6 L578.0,360.1 L578.0,360.6 L578.0,361.1 L578.1,361.6 L578.1,362.1 L578.1,362.6 L578.1,363.1 L578.2,363.6 L578.2,364.1 L578.2,364.6 L578.2,365.1 L578.2,365.6 L578.3,366.1 L578.3,366.6 L578.3,367.1 L578.3,367.6 L578.4,368.1 L578.4,368.6 L578.4,369.1 L578.4,369.6 L578.5,370.1 L578.5,370.6 L578.5,371.1 L578.5,371.6 L578.6,372.1 L578.6,372.6 L578.6,373.1 L578.7,373.6 L578.7,374.1 L578.7,374.6 L578.8,375.1 L578.8,375.6 L578.8,376.1 L578.9,376.6 L578.9,377.1 L578.9,377.6 L578.9,378.1 L579.0,378.6 L579.0,379.1 L579.0,379.6 L579.1,380.1 L579.1,380.6 L579.1,381.1 L579.2,381.6 L579.2,382.1 L579.3,382.6 L579.3,383.1 L579.3,383.6 L579.4,384.1 L579.4,384.6 L579.4,385.1 L579.5,385.7 L579.5,386.2 L579.6,386.7 L579.6,387.2 L579.7,387.7 L579.7,388.2 L579.8,388.7 L579.8,389.2 L579.9,389.7 L580.0,390.2 L580.0,390.8 L580.1,391.3 L580.2,391.8 L580.3,392.3 L580.4,392.9 L580.5,393.4 L580.6,393.9 L580.7,394.5 L580.8,395.0 L580.9,395.5 L581.1,396.0 L581.2,396.5 L581.4,397.0 L581.5,397.5 L581.7,398.1 L581.9,398.6 L582.0,399.1 L582.2,399.5 L582.4,400.0 L582.5,400.5 L582.7,401.0 L582.9,401.4 L583.1,401.9 L583.2,402.4 L583.4,402.8 L588.6,401.0 L588.4,400.5 L588.2,400.1 L588.1,399.6 L587.9,399.1 L587.7,398.6 L587.5,398.2 L587.4,397.7 L587.2,397.3 L587.1,396.8 L586.9,396.4 L586.8,395.9 L586.6,395.5 L586.5,395.0 L586.4,394.6 L586.3,394.1 L586.2,393.7 L586.0,393.2 L586.0,392.8 L585.9,392.3 L585.8,391.9 L585.7,391.4 L585.6,391.0 L585.6,390.5 L585.5,390.0 L585.4,389.5 L585.4,389.1 L585.3,388.6 L585.3,388.1 L585.2,387.6 L585.2,387.1 L585.1,386.7 L585.1,386.2 L585.0,385.7 L585.0,385.2 L584.9,384.7 L584.9,384.2 L584.9,383.7 L584.8,383.2 L584.8,382.7 L584.7,382.2 L584.7,381.7 L584.7,381.2 L584.6,380.7 L584.6,380.2 L584.6,379.8 L584.5,379.3 L584.5,378.8 L584.5,378.3 L584.4,377.8 L584.4,377.3 L584.4,376.8 L584.3,376.3 L584.3,375.8 L584.3,375.3 L584.2,374.8 L584.2,374.3 L584.2,373.8 L584.1,373.3 L584.1,372.8 L584.1,372.3 L584.1,371.8 L584.0,371.3 L584.0,370.8 L584.0,370.3 L584.0,369.8 L583.9,369.3 L583.9,368.8 L583.9,368.3 L583.9,367.8 L583.8,367.3 L583.8,366.8 L583.8,366.3 L583.8,365.8 L583.7,365.3 L583.7,364.8 L583.7,364.3 L583.7,363.8 L583.6,363.3 L583.6,362.8 L583.6,362.3 L583.6,361.8 L583.6,361.3 L583.5,360.8 L583.5,360.3 L583.5,359.8 L583.5,359.3 L583.4,358.8 L583.4,358.3 L583.4,357.8 L583.4,357.3 L583.3,356.8 L583.3,356.3 L583.3,355.8 L583.3,355.3 L583.2,354.8 L583.2,354.3 L583.2,353.8 L583.2,353.3 L583.1,352.8 L583.1,352.3 L583.1,351.8 L583.0,351.3 L583.0,350.8 L583.0,350.3 L583.0,349.8 L582.9,349.3 L582.9,348.8 L582.9,348.3 L582.8,347.8 L582.8,347.3 L582.8,346.8 L582.8,346.3 L582.7,345.8 L582.7,345.3 L582.7,344.8 L582.6,344.3 L582.6,343.8 L582.6,343.3 L582.5,342.8 L582.5,342.3 L582.5,341.8 L582.5,341.3 L582.4,340.8 L582.4,340.3 L582.4,339.8 L582.3,339.3 L582.3,338.8 L582.3,338.3 L582.2,337.8Z" fill="#fff" stroke="none"/>
<path d="M576.8,338.2 L576.8,339.2 L576.9,340.2 L576.9,341.2 L577.0,342.2 L577.1,343.2 L577.1,344.2 L577.2,345.2 L577.2,346.1 L577.3,347.1 L577.4,348.1 L577.4,349.1 L577.5,350.1 L577.5,351.1 L577.6,352.1 L577.6,353.1 L577.7,354.1 L577.8,355.1 L577.8,356.1 L577.9,357.1 L577.9,358.1 L577.9,359.1 L578.0,360.1 L578.0,361.1 L578.1,362.1 L578.1,363.1 L578.2,364.1 L578.2,365.1 L578.3,366.1 L578.3,367.1 L578.4,368.1 L578.4,369.1 L578.5,370.1 L578.5,371.1 L578.6,372.1 L578.6,373.1 L578.7,374.1 L578.8,375.1 L578.8,376.1 L578.9,377.1 L578.9,378.1 L579.0,379.1 L579.1,380.1 L579.1,381.1 L579.2,382.1 L579.3,383.1 L579.4,384.1 L579.4,385.1 L579.5,386.2 L579.6,387.2 L579.7,388.2 L579.8,389.2 L580.0,390.2 L580.1,391.3 L580.3,392.3 L580.5,393.4 L580.7,394.5 L580.9,395.5 L581.2,396.5 L581.5,397.5 L581.9,398.6 L582.2,399.5 L582.5,400.5 L582.9,401.4 L583.2,402.4" fill="none" stroke="#000" stroke-width="1.40" stroke-linejoin="round"/>
<path d="M582.2,337.8 L582.3,338.8 L582.4,339.8 L582.4,340.8 L582.5,341.8 L582.5,342.8 L582.6,343.8 L582.7,344.8 L582.7,345.8 L582.8,346.8 L582.8,347.8 L582.9,348.8 L583.0,349.8 L583.0,350.8 L583.1,351.8 L583.1,352.8 L583.2,353.8 L583.2,354.8 L583.3,355.8 L583.3,356.8 L583.4,357.8 L583.4,358.8 L583.5,359.8 L583.5,360.8 L583.6,361.8 L583.6,362.8 L583.7,363.8 L583.7,364.8 L583.8,365.8 L583.8,366.8 L583.9,367.8 L583.9,368.8 L584.0,369.8 L584.0,370.8 L584.1,371.8 L584.1,372.8 L584.2,373.8 L584.2,374.8 L584.3,375.8 L584.4,376.8 L584.4,377.8 L584.5,378.8 L584.6,379.8 L584.6,380.7 L584.7,381.7 L584.8,382.7 L584.9,383.7 L584.9,384.7 L585.0,385.7 L585.1,386.7 L585.2,387.6 L585.3,388.6 L585.4,389.5 L585.6,390.5 L585.7,391.4 L585.9,392.3 L586.0,393.2 L586.3,394.1 L586.5,395.0 L586.8,395.9 L587.1,396.8 L587.4,397.7 L587.7,398.6 L588.1,399.6 L588.4,400.5" fill="none" stroke="#000" stroke-width="1.40" stroke-linejoin="round"/>
<path d="M576.8,338.2 L582.4,340.8 M577.1,344.7 L582.8,347.3 M577.5,351.1 L583.2,353.8 M577.9,357.6 L583.5,360.3 M578.2,364.1 L583.8,366.8 M578.5,370.6 L584.1,373.3 M578.9,377.1 L584.6,379.8 M579.3,383.6 L585.1,386.2 M580.0,390.2 L585.9,392.3 M581.4,397.0 L587.5,398.2 " fill="none" stroke="#000" stroke-width="1.19"/>
<path d="M731.0,285.0 L731.2,284.7 L731.5,284.4 L731.8,283.9 L732.1,283.5 L732.5,283.0 L732.9,282.4 L733.3,281.9 L733.6,281.3 L734.0,280.7 L734.2,280.1 L734.4,279.6 L734.5,279.0 L734.5,278.4 L734.5,277.9 L734.4,277.3 L734.2,276.7 L734.1,276.1 L733.8,275.5 L733.6,274.9 L733.3,274.3 L733.0,273.7 L732.7,273.1 L732.3,272.6 L732.0,272.0 L731.6,271.5 L731.2,270.9 L730.7,270.4 L730.2,269.9 L729.7,269.4 L729.2,268.9 L728.6,268.4 L728.1,267.9 L727.5,267.4 L727.0,266.9 L726.5,266.5 L726.0,266.0 L725.5,265.5 L725.1,265.1 L724.6,264.7 L724.2,264.3 L723.7,263.8 L723.3,263.4 L722.9,263.0 L722.5,262.6 L722.1,262.2 L721.7,261.8 L721.3,261.4 L721.0,261.0 L720.7,260.6 L720.3,260.1 L720.0,259.6 L719.7,259.1 L719.5,258.7 L719.2,258.2 L718.9,257.7 L718.7,257.3 L718.5,256.9 L718.3,256.5 L718.1,256.2 L718.0,256.0" fill="none" stroke="#000" stroke-width="5.00" stroke-linecap="round" stroke-linejoin="round"/>
<g transform="translate(719,250)">
<path d="M-9,-9 L-5,-12.5 L1,-12 L4,-9 L9,-7 L10,-3 L12,0 L11.5,6 L6,10 L1,12 L-5,9 L-7,2 L-6,-3 L-10,-5 Z" fill="#000" stroke="#000" stroke-width="1" stroke-linejoin="round"/>
<path d="M-6,-7 L-2,-10 M-3,-3 L3,-7.5 M3,-5 L7,-4 M-2,3 L2,-1.5 M3,1 L8,1.5 L7,5 L3,6 Z M-1,6 L1,8" stroke="#fff" stroke-width="1.2" fill="none" stroke-linecap="round" stroke-linejoin="round"/>
</g>
<path d="M671.9,301.2 L676.9,298.5 L680.6,298.1 L686.5,305.0 L685.2,311.2 L680.0,313.5 L673.8,308.5Z" fill="#fff" stroke="#000" stroke-width="1.80" stroke-linejoin="round"/>
<path d="M671.9,301.2 L676.5,298.8 L678.1,305.0 L674.0,308.5Z" fill="#000" stroke="#000" stroke-width="1.00" stroke-linejoin="round"/>
<path d="M678.1,305.0 L685.0,311.2" fill="none" stroke="#000" stroke-width="1.30" stroke-linecap="round" stroke-linejoin="round"/>
<path d="M678.1,305.0 L680.6,298.5" fill="none" stroke="#000" stroke-width="1.30" stroke-linecap="round" stroke-linejoin="round"/>
<path d="M663.5,316.2 L668.8,313.5 L673.1,317.5 L673.8,323.8 L670.0,329.0 L663.8,326.2Z" fill="#000" stroke="#000" stroke-width="1.00" stroke-linejoin="round"/>
<path d="M666.9,317.5 L670.0,322.5" fill="none" stroke="#fff" stroke-width="1.30" stroke-linecap="round" stroke-linejoin="round"/>
<path d="M669.8,323.1 L675.6,319.8 L680.2,325.0 L677.8,332.5 L673.1,335.2 L668.5,330.0Z" fill="#fff" stroke="#000" stroke-width="1.80" stroke-linejoin="round"/>
<path d="M669.8,323.1 L674.4,328.1 L673.1,335.2" fill="none" stroke="#000" stroke-width="1.30" stroke-linecap="round" stroke-linejoin="round"/>
<path d="M674.4,328.1 L680.2,325.0" fill="none" stroke="#000" stroke-width="1.30" stroke-linecap="round" stroke-linejoin="round"/>
<path d="M644.8,329.4 L650.6,326.2 L656.9,328.1 L658.5,335.0 L655.0,338.8 L648.8,338.8 L644.4,336.2Z" fill="#000" stroke="#000" stroke-width="1.00" stroke-linejoin="round"/>
<path d="M648.8,330.0 L653.1,335.0" fill="none" stroke="#fff" stroke-width="1.30" stroke-linecap="round" stroke-linejoin="round"/>
<path d="M650.2,340.2 L658.1,336.2 L662.1,341.2 L660.2,346.2 L654.4,348.5 L649.8,344.0Z" fill="#fff" stroke="#000" stroke-width="1.80" stroke-linejoin="round"/>
<path d="M650.2,340.2 L655.6,343.1 L654.4,348.5" fill="none" stroke="#000" stroke-width="1.30" stroke-linecap="round" stroke-linejoin="round"/>
<path d="M655.6,343.1 L662.1,341.2" fill="none" stroke="#000" stroke-width="1.30" stroke-linecap="round" stroke-linejoin="round"/>
<path d="M617.5,330.0 L623.8,326.2 L628.1,328.1 L632.5,336.2 L630.6,341.9 L625.0,342.5 L620.6,338.8Z" fill="#000" stroke="#000" stroke-width="1.00" stroke-linejoin="round"/>
<path d="M622.5,331.9 L626.2,330.0 L629.4,335.6 L625.6,337.8Z" fill="#fff" stroke="#000" stroke-width="0.50" stroke-linejoin="round"/>
<path d="M620.0,333.1 L623.8,340.0" fill="none" stroke="#fff" stroke-width="1.20" stroke-linecap="round" stroke-linejoin="round"/>
<path d="M403.3,546.4 L403.4,546.9 L403.4,547.4 L403.5,547.9 L403.6,548.4 L403.7,548.9 L403.8,549.4 L403.9,549.9 L404.0,550.4 L404.0,550.9 L404.1,551.4 L404.2,551.9 L404.3,552.4 L404.4,552.9 L404.5,553.3 L404.5,553.8 L404.6,554.3 L404.7,554.8 L404.8,555.3 L404.8,555.8 L404.9,556.3 L405.0,556.7 L405.0,557.2 L405.1,557.7 L405.2,558.2 L405.2,558.6 L405.3,559.1 L405.3,559.6 L405.4,560.0 L405.4,560.5 L405.4,561.0 L405.4,561.4 L405.4,561.9 L405.4,562.3 L405.5,562.8 L405.4,563.2 L405.4,563.6 L405.4,564.1 L405.3,564.5 L405.3,565.0 L405.2,565.4 L405.1,565.8 L405.1,566.3 L405.0,566.7 L404.9,567.2 L404.8,567.6 L404.7,568.1 L404.5,568.6 L404.4,569.0 L404.3,569.5 L404.2,569.9 L404.0,570.4 L403.9,570.9 L403.8,571.3 L403.6,571.8 L403.5,572.3 L403.3,572.8 L403.2,573.3 L403.0,573.8 L402.9,574.3 L402.7,574.8 L402.6,575.3 L402.5,575.8 L402.3,576.3 L402.2,576.8 L402.1,577.3 L402.0,577.7 L401.9,578.2 L401.8,578.7 L401.6,579.2 L401.5,579.7 L401.4,580.2 L401.3,580.6 L401.2,581.1 L401.0,581.6 L400.9,582.1 L400.8,582.6 L400.7,583.1 L400.5,583.5 L400.4,584.0 L400.3,584.5 L400.2,585.0 L400.1,585.5 L399.9,586.0 L399.8,586.4 L399.7,586.9 L399.6,587.4 L399.4,587.9 L399.3,588.4 L399.2,588.9 L399.1,589.4 L399.0,589.8 L404.3,591.2 L404.4,590.7 L404.5,590.2 L404.7,589.7 L404.8,589.3 L404.9,588.8 L405.0,588.3 L405.1,587.8 L405.3,587.3 L405.4,586.8 L405.5,586.3 L405.6,585.9 L405.8,585.4 L405.9,584.9 L406.0,584.4 L406.1,583.9 L406.2,583.4 L406.4,582.9 L406.5,582.5 L406.6,582.0 L406.7,581.5 L406.9,581.0 L407.0,580.5 L407.1,580.0 L407.2,579.5 L407.3,579.0 L407.5,578.6 L407.6,578.1 L407.7,577.6 L407.8,577.1 L407.9,576.7 L408.0,576.2 L408.2,575.8 L408.3,575.3 L408.4,574.8 L408.6,574.4 L408.7,573.9 L408.9,573.4 L409.0,572.9 L409.2,572.4 L409.3,571.9 L409.5,571.4 L409.6,571.0 L409.7,570.4 L409.9,569.9 L410.0,569.4 L410.1,568.9 L410.3,568.4 L410.4,567.8 L410.5,567.3 L410.6,566.8 L410.7,566.2 L410.7,565.7 L410.8,565.1 L410.9,564.6 L410.9,564.0 L410.9,563.4 L410.9,562.9 L410.9,562.3 L410.9,561.8 L410.9,561.2 L410.9,560.7 L410.9,560.2 L410.8,559.6 L410.8,559.1 L410.7,558.6 L410.7,558.1 L410.6,557.5 L410.6,557.0 L410.5,556.5 L410.4,556.0 L410.4,555.5 L410.3,555.0 L410.2,554.5 L410.1,554.0 L410.1,553.5 L410.0,553.0 L409.9,552.5 L409.8,551.9 L409.7,551.4 L409.6,551.0 L409.6,550.5 L409.5,550.0 L409.4,549.5 L409.3,549.0 L409.2,548.5 L409.1,548.0 L409.0,547.5 L408.9,547.0 L408.9,546.6 L408.8,546.1 L408.7,545.6Z" fill="#fff" stroke="none"/>
<path d="M403.3,546.4 L403.4,547.4 L403.6,548.4 L403.8,549.4 L404.0,550.4 L404.1,551.4 L404.3,552.4 L404.5,553.3 L404.6,554.3 L404.8,555.3 L404.9,556.3 L405.0,557.2 L405.2,558.2 L405.3,559.1 L405.4,560.0 L405.4,561.0 L405.4,561.9 L405.5,562.8 L405.4,563.6 L405.3,564.5 L405.2,565.4 L405.1,566.3 L404.9,567.2 L404.7,568.1 L404.4,569.0 L404.2,569.9 L403.9,570.9 L403.6,571.8 L403.3,572.8 L403.0,573.8 L402.7,574.8 L402.5,575.8 L402.2,576.8 L402.0,577.7 L401.8,578.7 L401.5,579.7 L401.3,580.6 L401.0,581.6 L400.8,582.6 L400.5,583.5 L400.3,584.5 L400.1,585.5 L399.8,586.4 L399.6,587.4 L399.3,588.4 L399.1,589.4" fill="none" stroke="#000" stroke-width="1.40" stroke-linejoin="round"/>
<path d="M408.7,545.6 L408.9,546.6 L409.0,547.5 L409.2,548.5 L409.4,549.5 L409.6,550.5 L409.7,551.4 L409.9,552.5 L410.1,553.5 L410.2,554.5 L410.4,555.5 L410.5,556.5 L410.6,557.5 L410.7,558.6 L410.8,559.6 L410.9,560.7 L410.9,561.8 L410.9,562.9 L410.9,564.0 L410.8,565.1 L410.7,566.2 L410.5,567.3 L410.3,568.4 L410.0,569.4 L409.7,570.4 L409.5,571.4 L409.2,572.4 L408.9,573.4 L408.6,574.4 L408.3,575.3 L408.0,576.2 L407.8,577.1 L407.6,578.1 L407.3,579.0 L407.1,580.0 L406.9,581.0 L406.6,582.0 L406.4,582.9 L406.1,583.9 L405.9,584.9 L405.6,585.9 L405.4,586.8 L405.1,587.8 L404.9,588.8 L404.7,589.7 L404.4,590.7" fill="none" stroke="#000" stroke-width="1.40" stroke-linejoin="round"/>
<path d="M403.3,546.4 L409.2,548.5 M404.5,553.3 L410.4,555.5 M405.4,560.0 L410.9,562.9 M405.1,566.3 L409.7,570.4 M403.3,572.8 L407.8,577.1 M401.5,579.7 L406.1,583.9 M399.8,586.4 L404.4,590.7 " fill="none" stroke="#000" stroke-width="1.19"/>
<path d="M347.3,390.7 L347.4,391.2 L347.5,391.7 L347.6,392.2 L347.6,392.7 L347.7,393.2 L347.8,393.7 L347.9,394.2 L348.0,394.7 L348.0,395.2 L348.1,395.7 L348.2,396.2 L348.3,396.6 L348.3,397.1 L348.4,397.6 L348.5,398.1 L348.6,398.6 L348.6,399.1 L348.7,399.6 L348.8,400.1 L348.8,400.5 L348.9,401.0 L349.0,401.5 L349.0,402.0 L349.1,402.5 L349.2,403.0 L349.2,403.5 L349.3,404.0 L349.4,404.4 L349.4,404.9 L349.5,405.4 L349.5,405.9 L349.6,406.4 L349.7,406.9 L349.7,407.3 L349.8,407.8 L349.8,408.3 L349.9,408.8 L349.9,409.3 L350.0,409.8 L350.0,410.3 L350.0,410.7 L350.1,411.2 L350.1,411.7 L350.2,412.2 L350.2,412.7 L350.3,413.2 L350.3,413.7 L350.4,414.2 L350.4,414.7 L350.4,415.2 L350.5,415.7 L350.5,416.2 L350.6,416.7 L350.6,417.2 L350.7,417.7 L350.7,418.2 L350.7,418.7 L350.8,419.2 L350.8,419.7 L350.9,420.1 L350.9,420.6 L350.9,421.1 L351.0,421.6 L351.0,422.1 L351.0,422.6 L351.1,423.1 L351.1,423.6 L351.1,424.1 L351.2,424.6 L351.2,425.1 L351.3,425.6 L351.3,426.1 L351.3,426.6 L351.3,427.1 L351.4,427.6 L351.4,428.0 L351.4,428.5 L351.5,429.0 L351.5,429.5 L351.5,430.0 L351.6,430.5 L351.6,431.0 L351.6,431.5 L351.6,432.0 L351.6,432.5 L351.7,432.9 L351.7,433.4 L351.7,433.9 L351.7,434.4 L351.7,434.9 L351.8,435.4 L351.8,435.9 L351.8,436.3 L351.8,436.8 L351.8,437.3 L351.8,437.8 L351.8,438.3 L351.8,438.7 L351.8,439.2 L351.8,439.7 L351.8,440.2 L351.8,440.6 L351.8,441.1 L351.8,441.6 L351.7,442.0 L351.7,442.5 L351.7,442.9 L351.6,443.4 L351.6,443.9 L351.6,444.3 L351.5,444.8 L351.5,445.2 L351.4,445.7 L351.4,446.1 L351.3,446.6 L351.2,447.1 L351.2,447.5 L351.1,448.0 L351.0,448.5 L351.0,449.0 L350.9,449.4 L350.8,449.9 L350.7,450.4 L350.6,450.9 L350.6,451.4 L350.5,451.8 L350.4,452.3 L350.3,452.8 L350.2,453.3 L350.1,453.8 L350.0,454.3 L350.0,454.9 L349.9,455.4 L349.8,455.9 L349.7,456.4 L349.6,456.9 L349.6,457.5 L349.5,458.0 L349.4,458.5 L349.4,459.1 L349.3,459.6 L349.3,460.1 L349.2,460.6 L349.2,461.1 L349.1,461.6 L349.1,462.1 L349.0,462.6 L349.0,463.1 L348.9,463.6 L348.9,464.1 L348.8,464.6 L348.8,465.1 L348.7,465.6 L348.7,466.1 L348.7,466.6 L348.6,467.1 L348.6,467.6 L348.5,468.2 L348.5,468.7 L348.4,469.2 L348.4,469.7 L348.4,470.2 L348.3,470.7 L348.3,471.2 L348.3,471.7 L348.2,472.2 L348.2,472.7 L348.2,473.2 L348.1,473.7 L348.1,474.2 L348.1,474.7 L348.0,475.2 L348.0,475.8 L348.0,476.3 L347.9,476.8 L347.9,477.3 L347.9,477.8 L347.9,478.3 L347.8,478.8 L347.8,479.3 L347.8,479.8 L347.8,480.3 L347.8,480.8 L347.7,481.3 L347.7,481.8 L347.7,482.3 L347.7,482.8 L347.6,483.3 L347.6,483.8 L347.6,484.3 L347.6,484.8 L347.6,485.3 L347.5,485.8 L347.5,486.3 L347.5,486.8 L347.5,487.3 L347.4,487.8 L347.4,488.4 L347.4,488.9 L347.4,489.4 L347.4,489.9 L347.4,490.4 L347.4,491.0 L347.4,491.5 L347.4,492.0 L347.4,492.5 L347.4,493.1 L347.4,493.6 L347.4,494.1 L347.4,494.7 L347.4,495.2 L347.5,495.7 L347.5,496.3 L347.5,496.8 L347.5,497.3 L347.6,497.9 L347.6,498.4 L347.7,498.9 L347.7,499.4 L347.8,500.0 L347.8,500.5 L347.9,501.0 L348.0,501.6 L348.0,502.1 L348.1,502.6 L348.2,503.1 L348.2,503.6 L348.3,504.1 L348.4,504.7 L348.5,505.2 L348.5,505.7 L348.6,506.2 L348.7,506.7 L348.8,507.2 L348.9,507.7 L349.0,508.2 L349.1,508.7 L349.2,509.2 L349.3,509.8 L349.4,510.3 L349.4,510.8 L349.5,511.3 L349.7,511.8 L349.8,512.3 L349.9,512.8 L350.0,513.3 L350.1,513.8 L350.2,514.3 L350.3,514.8 L350.4,515.3 L350.5,515.8 L350.6,516.3 L350.7,516.8 L350.9,517.3 L351.0,517.8 L351.1,518.3 L351.2,518.8 L351.3,519.3 L351.5,519.8 L351.6,520.3 L351.7,520.8 L351.9,521.3 L352.0,521.8 L352.1,522.3 L352.3,522.8 L352.4,523.3 L352.5,523.8 L352.7,524.3 L352.8,524.8 L353.0,525.3 L353.2,525.8 L353.3,526.3 L353.5,526.9 L353.6,527.4 L353.8,527.9 L354.0,528.4 L354.2,528.9 L354.4,529.4 L354.6,529.9 L354.7,530.4 L354.9,530.9 L355.1,531.4 L355.3,531.9 L355.5,532.3 L355.8,532.8 L356.0,533.3 L356.2,533.8 L356.4,534.3 L356.6,534.8 L356.8,535.2 L357.0,535.7 L357.3,536.2 L357.5,536.7 L357.7,537.1 L358.0,537.6 L358.2,538.1 L358.4,538.5 L358.7,539.0 L358.9,539.4 L359.1,539.9 L359.4,540.4 L359.6,540.8 L359.8,541.3 L360.1,541.7 L360.3,542.2 L360.5,542.6 L360.8,543.1 L361.0,543.5 L361.2,543.9 L361.5,544.4 L361.7,544.9 L362.0,545.3 L362.2,545.8 L362.5,546.2 L362.7,546.7 L363.0,547.2 L363.3,547.6 L363.6,548.1 L363.8,548.5 L364.1,549.0 L364.4,549.5 L364.7,550.0 L365.1,550.4 L365.4,550.9 L365.7,551.4 L366.1,551.8 L366.4,552.3 L366.8,552.8 L367.2,553.2 L367.6,553.7 L368.0,554.1 L368.4,554.5 L368.8,555.0 L369.2,555.4 L369.7,555.8 L370.1,556.1 L370.5,556.5 L371.0,556.9 L371.4,557.3 L371.9,557.6 L372.4,558.0 L372.9,558.4 L373.4,558.7 L373.9,559.1 L374.5,559.4 L375.1,559.7 L375.7,560.0 L376.3,560.3 L377.0,560.6 L377.7,560.8 L378.5,561.0 L379.2,561.2 L380.0,561.3 L380.8,561.4 L381.6,561.4 L382.4,561.4 L383.2,561.3 L384.0,561.1 L384.7,561.0 L385.4,560.8 L386.1,560.5 L386.7,560.3 L387.3,560.0 L387.9,559.8 L388.5,559.5 L389.0,559.2 L389.5,558.9 L390.0,558.6 L390.4,558.4 L390.9,558.1 L391.4,557.8 L391.8,557.5 L392.2,557.3 L392.7,557.0 L393.1,556.7 L393.6,556.4 L394.0,556.2 L394.5,555.9 L394.9,555.6 L395.4,555.2 L395.8,554.9 L396.2,554.6 L396.7,554.3 L397.1,554.0 L397.5,553.7 L397.9,553.4 L398.4,553.1 L398.8,552.8 L399.2,552.5 L399.6,552.1 L400.0,551.8 L400.4,551.5 L400.8,551.2 L401.2,550.9 L401.6,550.6 L402.0,550.3 L402.4,550.0 L402.8,549.6 L403.2,549.3 L403.6,549.0 L404.0,548.7 L404.4,548.4 L404.7,548.1 L405.1,547.8 L405.5,547.5 L405.9,547.2 L406.3,546.9 L406.7,546.5 L407.1,546.2 L407.5,545.9 L407.9,545.6 L408.2,545.3 L408.6,545.0 L409.0,544.7 L409.4,544.4 L409.8,544.1 L410.2,543.8 L410.6,543.5 L411.0,543.2 L411.4,542.9 L411.8,542.6 L412.2,542.3 L412.6,542.0 L413.0,541.6 L413.4,541.3 L413.8,541.0 L414.2,540.7 L414.6,540.4 L415.0,540.1 L415.4,539.8 L415.8,539.5 L416.1,539.2 L416.5,538.9 L416.9,538.6 L417.3,538.3 L417.7,538.0 L418.1,537.7 L418.5,537.4 L418.8,537.1 L419.2,536.8 L419.6,536.5 L420.0,536.3 L420.4,536.0 L420.8,535.7 L421.2,535.4 L421.6,535.1 L422.0,534.8 L422.4,534.6 L422.8,534.3 L423.2,534.0 L423.6,533.8 L424.0,533.5 L424.4,533.2 L424.8,533.0 L425.2,532.7 L425.6,532.4 L426.0,532.2 L426.4,531.9 L426.8,531.6 L427.2,531.4 L427.6,531.1 L428.0,530.8 L428.5,530.6 L428.9,530.3 L429.3,530.1 L429.7,529.8 L430.1,529.5 L430.6,529.3 L431.0,529.0 L431.4,528.7 L431.8,528.5 L432.3,528.2 L432.7,527.9 L433.1,527.7 L433.5,527.4 L434.0,527.1 L434.4,526.9 L434.8,526.6 L435.3,526.3 L435.7,526.0 L436.1,525.8 L436.5,525.5 L437.0,525.2 L437.4,524.9 L437.8,524.7 L438.3,524.4 L438.7,524.1 L439.1,523.8 L439.5,523.5 L440.0,523.2 L440.4,522.9 L440.8,522.7 L441.3,522.4 L441.7,522.1 L442.1,521.8 L442.5,521.5 L443.0,521.1 L443.4,520.8 L443.8,520.5 L444.3,520.2 L444.7,519.9 L445.1,519.5 L445.5,519.2 L446.0,518.8 L446.4,518.5 L446.8,518.2 L447.2,517.8 L447.6,517.5 L448.0,517.1 L448.4,516.8 L448.8,516.4 L449.2,516.1 L449.6,515.7 L450.0,515.3 L450.4,515.0 L450.7,514.6 L451.1,514.2 L451.5,513.8 L451.9,513.5 L452.2,513.1 L452.6,512.7 L453.0,512.3 L453.3,511.9 L453.7,511.5 L454.0,511.2 L454.4,510.8 L454.7,510.4 L455.1,510.0 L455.4,509.6 L455.8,509.2 L456.1,508.9 L456.4,508.5 L456.8,508.1 L457.1,507.7 L457.4,507.3 L457.8,507.0 L458.1,506.6 L458.4,506.2 L458.7,505.9 L459.1,505.5 L459.4,505.1 L459.7,504.8 L460.1,504.4 L460.4,504.0 L460.7,503.7 L461.1,503.3 L461.4,502.9 L461.7,502.5 L462.1,502.1 L462.4,501.8 L462.8,501.4 L463.1,501.0 L463.5,500.5 L463.8,500.1 L464.2,499.7 L464.5,499.3 L464.9,498.9 L465.2,498.4 L465.5,498.0 L465.9,497.5 L466.2,497.1 L466.5,496.6 L466.8,496.1 L467.1,495.7 L467.4,495.2 L467.7,494.7 L468.0,494.2 L468.3,493.8 L468.6,493.3 L468.8,492.8 L469.1,492.3 L469.4,491.8 L469.6,491.3 L469.9,490.8 L470.1,490.3 L470.3,489.8 L470.5,489.3 L470.8,488.8 L471.0,488.3 L471.2,487.8 L471.4,487.3 L471.6,486.8 L471.8,486.3 L472.0,485.8 L472.1,485.3 L472.3,484.9 L472.5,484.4 L472.7,483.9 L472.9,483.4 L473.0,482.9 L473.2,482.4 L473.4,481.9 L473.5,481.5 L473.7,481.0 L473.9,480.5 L474.0,480.0 L474.2,479.5 L474.4,479.1 L474.5,478.6 L474.7,478.1 L474.8,477.6 L475.0,477.2 L475.2,476.7 L475.3,476.2 L475.5,475.8 L475.6,475.3 L475.8,474.8 L476.0,474.4 L476.1,473.9 L476.3,473.5 L476.4,473.0 L476.6,472.5 L476.8,472.1 L476.9,471.6 L477.1,471.2 L477.3,470.7 L477.5,470.2 L477.6,469.8 L477.8,469.3 L478.0,468.8 L478.2,468.3 L478.3,467.9 L478.5,467.4 L478.7,466.9 L478.9,466.4 L479.0,466.0 L479.2,465.5 L479.4,465.0 L479.5,464.5 L479.7,464.1 L479.9,463.6 L480.1,463.1 L480.2,462.7 L480.4,462.2 L480.6,461.7 L480.7,461.3 L480.9,460.8 L481.1,460.3 L481.2,459.8 L481.4,459.4 L481.6,458.9 L481.7,458.4 L481.9,458.0 L482.1,457.5 L482.2,457.0 L482.4,456.6 L482.6,456.1 L482.8,455.7 L482.9,455.2 L483.1,454.7 L483.3,454.3 L483.4,453.8 L483.6,453.3 L483.8,452.9 L484.0,452.4 L484.1,452.0 L484.3,451.5 L484.5,451.1 L484.7,450.6 L484.8,450.2 L485.0,449.7 L485.2,449.3 L485.4,448.8 L485.6,448.4 L485.8,447.9 L486.0,447.5 L486.1,447.0 L486.3,446.6 L486.5,446.2 L486.7,445.7 L486.9,445.3 L487.1,444.8 L487.3,444.4 L487.5,444.0 L487.7,443.5 L487.9,443.1 L488.1,442.6 L488.3,442.2 L488.5,441.7 L488.8,441.3 L489.0,440.8 L489.2,440.4 L489.4,440.0 L489.6,439.5 L489.8,439.1 L490.0,438.7 L490.3,438.2 L490.5,437.8 L490.7,437.4 L490.9,436.9 L491.1,436.5 L491.3,436.1 L491.6,435.7 L491.8,435.2 L492.0,434.8 L492.3,434.4 L492.5,434.0 L492.7,433.5 L493.0,433.1 L493.2,432.7 L493.4,432.3 L493.7,431.9 L493.9,431.5 L494.2,431.1 L494.4,430.6 L494.6,430.2 L494.9,429.8 L495.1,429.4 L495.4,429.0 L495.7,428.6 L495.9,428.2 L496.2,427.8 L496.4,427.4 L496.7,427.0 L497.0,426.6 L497.2,426.1 L497.5,425.7 L497.8,425.3 L498.0,424.9 L498.3,424.5 L498.6,424.1 L498.8,423.7 L499.1,423.3 L499.4,422.9 L499.7,422.5 L499.9,422.1 L500.2,421.7 L500.5,421.3 L500.8,420.9 L501.1,420.5 L501.4,420.1 L501.6,419.7 L501.9,419.3 L502.2,418.9 L502.5,418.5 L502.8,418.1 L503.1,417.8 L503.4,417.4 L503.7,417.0 L504.0,416.6 L504.3,416.2 L504.6,415.8 L504.8,415.4 L505.1,415.0 L505.4,414.6 L505.7,414.2 L506.0,413.8 L506.3,413.4 L506.6,413.0 L506.9,412.7 L507.2,412.3 L507.5,411.9 L507.9,411.5 L508.2,411.1 L508.5,410.7 L508.8,410.3 L509.1,409.9 L509.4,409.5 L509.7,409.2 L510.0,408.8 L510.3,408.4 L510.6,408.0 L510.9,407.6 L511.2,407.2 L511.5,406.8 L511.8,406.4 L512.1,406.1 L512.5,405.7 L512.8,405.3 L513.1,404.9 L513.4,404.5 L513.7,404.1 L514.0,403.8 L514.3,403.4 L514.6,403.0 L515.0,402.6 L515.3,402.2 L515.6,401.8 L515.9,401.5 L516.2,401.1 L516.5,400.7 L516.9,400.3 L517.2,399.9 L517.5,399.5 L517.8,399.2 L518.1,398.8 L518.4,398.4 L518.8,398.0 L519.1,397.6 L519.4,397.3 L519.7,396.9 L520.0,396.5 L520.4,396.1 L520.7,395.7 L521.0,395.4 L521.3,395.0 L521.6,394.6 L522.0,394.2 L522.3,393.9 L522.6,393.5 L522.9,393.1 L523.3,392.7 L523.6,392.3 L523.9,392.0 L524.2,391.6 L524.5,391.2 L524.9,390.8 L525.2,390.5 L525.5,390.1 L525.8,389.7 L526.2,389.4 L526.5,389.0 L526.8,388.6 L527.2,388.2 L527.5,387.9 L527.8,387.5 L528.1,387.1 L528.5,386.7 L528.8,386.4 L529.1,386.0 L529.4,385.6 L529.8,385.3 L530.1,384.9 L530.4,384.5 L530.8,384.2 L531.1,383.8 L531.4,383.4 L531.8,383.1 L532.1,382.7 L532.4,382.3 L532.8,382.0 L533.1,381.6 L533.4,381.2 L533.8,380.9 L534.1,380.5 L534.4,380.1 L534.8,379.8 L535.1,379.4 L535.4,379.0 L535.8,378.7 L536.1,378.3 L536.4,378.0 L536.8,377.6 L537.1,377.2 L537.5,376.9 L537.8,376.5 L538.1,376.2 L538.5,375.8 L538.8,375.4 L539.2,375.1 L539.5,374.7 L539.8,374.4 L540.2,374.0 L540.5,373.7 L540.9,373.3 L541.2,373.0 L541.5,372.6 L541.9,372.3 L542.2,371.9 L542.6,371.6 L542.9,371.2 L543.3,370.9 L543.6,370.5 L544.0,370.2 L544.3,369.8 L544.7,369.5 L545.0,369.1 L545.4,368.8 L545.7,368.5 L546.1,368.1 L546.4,367.8 L546.8,367.4 L547.1,367.1 L547.5,366.7 L547.8,366.4 L548.2,366.1 L548.6,365.7 L548.9,365.4 L549.3,365.0 L549.6,364.7 L550.0,364.4 L550.3,364.0 L550.7,363.7 L551.0,363.3 L551.4,363.0 L551.7,362.7 L552.1,362.3 L552.5,362.0 L552.8,361.7 L553.2,361.3 L553.5,361.0 L553.9,360.7 L554.3,360.3 L554.6,360.0 L555.0,359.7 L555.3,359.3 L555.7,359.0 L556.1,358.7 L556.4,358.3 L556.8,358.0 L557.2,357.7 L557.5,357.4 L557.9,357.0 L558.3,356.7 L558.6,356.4 L559.0,356.1 L559.4,355.8 L559.8,355.4 L560.1,355.1 L560.5,354.8 L560.9,354.5 L561.2,354.2 L561.6,353.8 L562.0,353.5 L562.4,353.2 L562.7,352.9 L563.1,352.6 L563.5,352.3 L563.9,352.0 L564.3,351.7 L564.6,351.4 L565.0,351.1 L565.4,350.8 L565.8,350.5 L566.1,350.2 L566.5,349.9 L566.9,349.6 L567.3,349.3 L567.6,349.1 L568.0,348.8 L568.4,348.5 L568.8,348.2 L569.2,348.0 L569.6,347.7 L570.0,347.4 L570.4,347.2 L570.8,346.9 L571.2,346.6 L571.6,346.4 L572.0,346.1 L572.4,345.8 L572.8,345.6 L573.2,345.3 L573.6,345.1 L574.0,344.8 L574.4,344.5 L574.9,344.3 L575.3,344.0 L575.7,343.8 L576.1,343.5 L576.6,343.2 L577.0,343.0 L577.4,342.7 L577.9,342.5 L578.3,342.2 L578.7,341.9 L579.2,341.6 L579.6,341.4 L580.0,341.1 L580.5,340.8 L580.9,340.5 L581.3,340.2 L581.8,340.0 L582.2,339.7 L582.6,339.4 L583.1,339.1 L583.5,338.8 L583.9,338.5 L584.3,338.2 L584.8,337.9 L585.2,337.6 L585.6,337.3 L586.0,337.0 L586.4,336.7 L586.8,336.4 L587.2,336.1 L587.6,335.8 L588.0,335.5 L588.5,335.2 L588.9,334.9 L589.3,334.6 L589.7,334.3 L590.1,334.0 L590.5,333.7 L590.9,333.4 L591.3,333.1 L591.7,332.8 L592.1,332.5 L592.5,332.2 L592.9,331.9 L593.3,331.6 L593.7,331.3 L594.1,331.0 L594.5,330.7 L594.9,330.4 L595.3,330.1 L595.7,329.8 L596.1,329.5 L596.5,329.2 L596.9,328.9 L597.3,328.6 L597.7,328.3 L598.1,327.9 L598.5,327.6 L598.9,327.3 L599.3,327.0 L599.7,326.7 L600.1,326.4 L600.5,326.1 L600.9,325.8 L601.3,325.5 L601.7,325.2 L602.1,324.9 L602.5,324.6 L602.9,324.3 L603.3,324.0 L603.7,323.7 L604.1,323.4 L604.5,323.1 L604.9,322.8 L605.3,322.5 L605.7,322.2 L606.1,321.9 L601.8,316.1 L601.4,316.4 L601.0,316.7 L600.6,317.0 L600.2,317.3 L599.8,317.6 L599.4,317.9 L599.0,318.2 L598.6,318.5 L598.2,318.8 L597.8,319.1 L597.4,319.4 L597.0,319.7 L596.6,320.0 L596.1,320.3 L595.7,320.6 L595.3,320.9 L594.9,321.2 L594.5,321.4 L594.1,321.7 L593.7,322.0 L593.3,322.3 L592.9,322.6 L592.5,322.9 L592.1,323.2 L591.7,323.5 L591.3,323.8 L590.9,324.0 L590.5,324.3 L590.1,324.6 L589.6,324.9 L589.2,325.2 L588.8,325.5 L588.4,325.8 L588.0,326.1 L587.6,326.3 L587.2,326.6 L586.8,326.9 L586.4,327.2 L586.0,327.5 L585.6,327.8 L585.2,328.0 L584.8,328.3 L584.3,328.6 L583.9,328.9 L583.5,329.2 L583.1,329.5 L582.7,329.7 L582.3,330.0 L581.9,330.3 L581.5,330.6 L581.1,330.8 L580.7,331.1 L580.3,331.4 L579.9,331.7 L579.5,331.9 L579.1,332.2 L578.7,332.4 L578.3,332.7 L577.8,333.0 L577.4,333.2 L577.0,333.5 L576.6,333.7 L576.2,334.0 L575.8,334.2 L575.4,334.5 L575.0,334.7 L574.5,334.9 L574.1,335.2 L573.7,335.4 L573.3,335.7 L572.8,335.9 L572.4,336.2 L572.0,336.4 L571.5,336.7 L571.1,336.9 L570.7,337.1 L570.2,337.4 L569.8,337.7 L569.3,337.9 L568.9,338.2 L568.4,338.4 L568.0,338.7 L567.6,338.9 L567.1,339.2 L566.7,339.5 L566.2,339.7 L565.8,340.0 L565.3,340.3 L564.9,340.6 L564.4,340.9 L564.0,341.1 L563.6,341.4 L563.1,341.7 L562.7,342.0 L562.3,342.3 L561.8,342.6 L561.4,342.9 L561.0,343.2 L560.5,343.6 L560.1,343.9 L559.7,344.2 L559.3,344.5 L558.9,344.8 L558.5,345.1 L558.0,345.4 L557.6,345.7 L557.2,346.0 L556.8,346.4 L556.4,346.7 L556.0,347.0 L555.6,347.3 L555.2,347.6 L554.8,347.9 L554.4,348.3 L554.0,348.6 L553.6,348.9 L553.2,349.2 L552.9,349.5 L552.5,349.9 L552.1,350.2 L551.7,350.5 L551.3,350.8 L550.9,351.2 L550.5,351.5 L550.1,351.8 L549.7,352.2 L549.3,352.5 L548.9,352.8 L548.6,353.2 L548.2,353.5 L547.8,353.8 L547.4,354.2 L547.0,354.5 L546.6,354.8 L546.3,355.2 L545.9,355.5 L545.5,355.8 L545.1,356.2 L544.7,356.5 L544.4,356.9 L544.0,357.2 L543.6,357.5 L543.2,357.9 L542.8,358.2 L542.5,358.6 L542.1,358.9 L541.7,359.3 L541.4,359.6 L541.0,360.0 L540.6,360.3 L540.3,360.7 L539.9,361.0 L539.5,361.4 L539.2,361.7 L538.8,362.1 L538.4,362.4 L538.1,362.8 L537.7,363.2 L537.4,363.5 L537.0,363.9 L536.6,364.2 L536.3,364.6 L535.9,365.0 L535.6,365.3 L535.2,365.7 L534.8,366.0 L534.5,366.4 L534.1,366.8 L533.8,367.1 L533.4,367.5 L533.1,367.9 L532.7,368.2 L532.4,368.6 L532.0,369.0 L531.7,369.3 L531.3,369.7 L531.0,370.1 L530.6,370.4 L530.3,370.8 L529.9,371.2 L529.6,371.5 L529.2,371.9 L528.9,372.3 L528.5,372.7 L528.2,373.0 L527.9,373.4 L527.5,373.8 L527.2,374.1 L526.8,374.5 L526.5,374.9 L526.1,375.3 L525.8,375.6 L525.5,376.0 L525.1,376.4 L524.8,376.8 L524.4,377.1 L524.1,377.5 L523.8,377.9 L523.4,378.3 L523.1,378.6 L522.8,379.0 L522.4,379.4 L522.1,379.8 L521.8,380.1 L521.4,380.5 L521.1,380.9 L520.8,381.3 L520.4,381.7 L520.1,382.0 L519.8,382.4 L519.4,382.8 L519.1,383.2 L518.8,383.5 L518.4,383.9 L518.1,384.3 L517.8,384.7 L517.4,385.1 L517.1,385.5 L516.8,385.8 L516.5,386.2 L516.1,386.6 L515.8,387.0 L515.5,387.4 L515.1,387.7 L514.8,388.1 L514.5,388.5 L514.2,388.9 L513.8,389.3 L513.5,389.7 L513.2,390.1 L512.9,390.4 L512.5,390.8 L512.2,391.2 L511.9,391.6 L511.6,392.0 L511.2,392.4 L510.9,392.8 L510.6,393.1 L510.3,393.5 L509.9,393.9 L509.6,394.3 L509.3,394.7 L509.0,395.1 L508.7,395.5 L508.3,395.9 L508.0,396.3 L507.7,396.6 L507.4,397.0 L507.1,397.4 L506.7,397.8 L506.4,398.2 L506.1,398.6 L505.8,399.0 L505.5,399.4 L505.2,399.8 L504.8,400.2 L504.5,400.6 L504.2,401.0 L503.9,401.3 L503.6,401.7 L503.3,402.1 L502.9,402.5 L502.6,402.9 L502.3,403.3 L502.0,403.7 L501.7,404.1 L501.4,404.5 L501.1,404.9 L500.7,405.3 L500.4,405.7 L500.1,406.1 L499.8,406.5 L499.5,406.9 L499.2,407.3 L498.9,407.7 L498.6,408.1 L498.3,408.5 L498.0,408.9 L497.7,409.3 L497.3,409.7 L497.0,410.1 L496.7,410.5 L496.4,410.9 L496.1,411.4 L495.8,411.8 L495.5,412.2 L495.2,412.6 L494.9,413.0 L494.6,413.4 L494.3,413.8 L494.0,414.2 L493.7,414.7 L493.4,415.1 L493.1,415.5 L492.8,415.9 L492.5,416.3 L492.2,416.7 L491.9,417.2 L491.7,417.6 L491.4,418.0 L491.1,418.4 L490.8,418.9 L490.5,419.3 L490.2,419.7 L489.9,420.1 L489.6,420.6 L489.4,421.0 L489.1,421.4 L488.8,421.9 L488.5,422.3 L488.2,422.7 L488.0,423.2 L487.7,423.6 L487.4,424.0 L487.1,424.5 L486.9,424.9 L486.6,425.4 L486.3,425.8 L486.1,426.3 L485.8,426.7 L485.5,427.2 L485.3,427.6 L485.0,428.1 L484.8,428.5 L484.5,429.0 L484.3,429.4 L484.0,429.9 L483.8,430.3 L483.5,430.8 L483.3,431.3 L483.0,431.7 L482.8,432.2 L482.5,432.6 L482.3,433.1 L482.1,433.6 L481.8,434.0 L481.6,434.5 L481.4,434.9 L481.2,435.4 L480.9,435.9 L480.7,436.3 L480.5,436.8 L480.3,437.2 L480.1,437.7 L479.8,438.2 L479.6,438.6 L479.4,439.1 L479.2,439.6 L479.0,440.0 L478.8,440.5 L478.5,441.0 L478.3,441.4 L478.1,441.9 L477.9,442.4 L477.7,442.9 L477.5,443.3 L477.3,443.8 L477.1,444.3 L476.9,444.8 L476.7,445.2 L476.5,445.7 L476.3,446.2 L476.1,446.7 L475.9,447.2 L475.7,447.6 L475.6,448.1 L475.4,448.6 L475.2,449.1 L475.0,449.5 L474.8,450.0 L474.6,450.5 L474.5,451.0 L474.3,451.4 L474.1,451.9 L473.9,452.4 L473.8,452.9 L473.6,453.3 L473.4,453.8 L473.2,454.3 L473.1,454.8 L472.9,455.2 L472.7,455.7 L472.6,456.2 L472.4,456.7 L472.2,457.1 L472.0,457.6 L471.9,458.1 L471.7,458.6 L471.5,459.0 L471.4,459.5 L471.2,460.0 L471.0,460.4 L470.9,460.9 L470.7,461.4 L470.5,461.8 L470.4,462.3 L470.2,462.8 L470.0,463.2 L469.9,463.7 L469.7,464.2 L469.5,464.6 L469.3,465.1 L469.2,465.6 L469.0,466.0 L468.8,466.5 L468.7,467.0 L468.5,467.4 L468.3,467.9 L468.1,468.4 L467.9,468.9 L467.8,469.3 L467.6,469.8 L467.4,470.3 L467.3,470.8 L467.1,471.3 L466.9,471.8 L466.8,472.2 L466.6,472.7 L466.4,473.2 L466.3,473.7 L466.1,474.1 L465.9,474.6 L465.8,475.1 L465.6,475.6 L465.5,476.0 L465.3,476.5 L465.1,477.0 L465.0,477.5 L464.8,477.9 L464.7,478.4 L464.5,478.8 L464.3,479.3 L464.2,479.8 L464.0,480.2 L463.8,480.7 L463.7,481.1 L463.5,481.6 L463.4,482.0 L463.2,482.5 L463.0,482.9 L462.8,483.4 L462.7,483.8 L462.5,484.2 L462.3,484.6 L462.1,485.1 L461.9,485.5 L461.8,485.9 L461.6,486.3 L461.4,486.7 L461.2,487.1 L461.0,487.5 L460.8,487.9 L460.6,488.3 L460.4,488.7 L460.1,489.1 L459.9,489.5 L459.7,489.8 L459.5,490.2 L459.2,490.6 L459.0,490.9 L458.7,491.3 L458.5,491.7 L458.2,492.0 L458.0,492.4 L457.7,492.7 L457.4,493.1 L457.2,493.4 L456.9,493.8 L456.6,494.1 L456.3,494.5 L456.0,494.8 L455.7,495.2 L455.4,495.5 L455.1,495.9 L454.7,496.3 L454.4,496.6 L454.1,497.0 L453.8,497.4 L453.4,497.7 L453.1,498.1 L452.7,498.5 L452.4,498.9 L452.1,499.2 L451.7,499.6 L451.4,500.0 L451.0,500.4 L450.7,500.8 L450.4,501.1 L450.0,501.5 L449.7,501.9 L449.4,502.3 L449.1,502.6 L448.7,503.0 L448.4,503.4 L448.1,503.7 L447.8,504.1 L447.4,504.4 L447.1,504.8 L446.8,505.2 L446.5,505.5 L446.2,505.8 L445.8,506.2 L445.5,506.5 L445.2,506.9 L444.8,507.2 L444.5,507.5 L444.2,507.8 L443.8,508.2 L443.5,508.5 L443.2,508.8 L442.8,509.1 L442.5,509.4 L442.1,509.8 L441.8,510.1 L441.4,510.4 L441.1,510.7 L440.7,511.0 L440.4,511.3 L440.0,511.6 L439.7,511.9 L439.3,512.1 L438.9,512.4 L438.6,512.7 L438.2,513.0 L437.8,513.3 L437.4,513.5 L437.1,513.8 L436.7,514.1 L436.3,514.4 L435.9,514.6 L435.5,514.9 L435.1,515.2 L434.7,515.4 L434.3,515.7 L433.9,516.0 L433.5,516.2 L433.1,516.5 L432.7,516.8 L432.3,517.1 L431.9,517.3 L431.5,517.6 L431.0,517.9 L430.6,518.1 L430.2,518.4 L429.8,518.6 L429.4,518.9 L429.0,519.2 L428.5,519.4 L428.1,519.7 L427.7,520.0 L427.3,520.2 L426.8,520.5 L426.4,520.8 L426.0,521.0 L425.6,521.3 L425.2,521.6 L424.7,521.8 L424.3,522.1 L423.9,522.4 L423.5,522.6 L423.0,522.9 L422.6,523.2 L422.2,523.4 L421.7,523.7 L421.3,524.0 L420.9,524.3 L420.4,524.5 L420.0,524.8 L419.6,525.1 L419.2,525.4 L418.7,525.7 L418.3,526.0 L417.9,526.3 L417.4,526.6 L417.0,526.9 L416.6,527.2 L416.2,527.5 L415.7,527.8 L415.3,528.1 L414.9,528.4 L414.5,528.7 L414.1,529.0 L413.6,529.3 L413.2,529.6 L412.8,529.9 L412.4,530.2 L412.0,530.5 L411.6,530.8 L411.2,531.1 L410.8,531.5 L410.4,531.8 L410.0,532.1 L409.6,532.4 L409.2,532.7 L408.8,533.0 L408.4,533.3 L408.0,533.6 L407.6,533.9 L407.2,534.3 L406.8,534.6 L406.4,534.9 L406.0,535.2 L405.7,535.5 L405.3,535.8 L404.9,536.1 L404.5,536.4 L404.1,536.7 L403.7,537.0 L403.3,537.3 L402.9,537.6 L402.5,537.9 L402.1,538.2 L401.7,538.5 L401.3,538.8 L400.9,539.2 L400.5,539.5 L400.1,539.8 L399.7,540.1 L399.3,540.4 L398.9,540.7 L398.5,541.0 L398.1,541.3 L397.7,541.6 L397.3,542.0 L397.0,542.3 L396.6,542.6 L396.2,542.9 L395.8,543.2 L395.4,543.5 L395.0,543.8 L394.6,544.1 L394.2,544.4 L393.9,544.7 L393.5,545.0 L393.1,545.3 L392.7,545.6 L392.3,545.9 L391.9,546.1 L391.5,546.4 L391.2,546.7 L390.8,547.0 L390.4,547.2 L390.0,547.5 L389.6,547.8 L389.3,548.0 L388.9,548.3 L388.5,548.5 L388.1,548.8 L387.7,549.0 L387.3,549.3 L386.9,549.5 L386.4,549.8 L386.0,550.0 L385.6,550.3 L385.3,550.5 L384.9,550.7 L384.5,550.9 L384.2,551.1 L383.8,551.3 L383.5,551.5 L383.2,551.6 L382.9,551.7 L382.6,551.8 L382.3,551.9 L382.1,551.9 L381.9,552.0 L381.7,552.0 L381.5,552.0 L381.3,552.0 L381.1,552.0 L380.9,552.0 L380.7,551.9 L380.5,551.8 L380.2,551.8 L380.0,551.7 L379.7,551.5 L379.4,551.4 L379.2,551.2 L378.8,551.1 L378.5,550.9 L378.2,550.7 L377.9,550.4 L377.6,550.2 L377.3,549.9 L377.0,549.7 L376.7,549.4 L376.3,549.1 L376.0,548.8 L375.7,548.6 L375.4,548.3 L375.1,548.0 L374.8,547.7 L374.6,547.4 L374.3,547.1 L374.1,546.8 L373.8,546.5 L373.5,546.1 L373.3,545.8 L373.1,545.5 L372.8,545.1 L372.6,544.8 L372.3,544.4 L372.1,544.0 L371.9,543.6 L371.6,543.2 L371.4,542.9 L371.1,542.4 L370.9,542.0 L370.7,541.6 L370.5,541.2 L370.2,540.8 L370.0,540.4 L369.8,540.0 L369.5,539.5 L369.3,539.1 L369.1,538.7 L368.8,538.2 L368.6,537.8 L368.4,537.3 L368.2,536.9 L367.9,536.5 L367.7,536.0 L367.5,535.6 L367.3,535.2 L367.0,534.7 L366.8,534.3 L366.6,533.9 L366.4,533.4 L366.2,533.0 L366.0,532.6 L365.8,532.1 L365.6,531.7 L365.4,531.3 L365.2,530.9 L365.0,530.4 L364.8,530.0 L364.6,529.6 L364.4,529.1 L364.2,528.7 L364.0,528.3 L363.9,527.8 L363.7,527.4 L363.5,527.0 L363.3,526.5 L363.2,526.1 L363.0,525.7 L362.9,525.2 L362.7,524.8 L362.6,524.3 L362.4,523.9 L362.3,523.5 L362.1,523.0 L362.0,522.6 L361.8,522.1 L361.7,521.7 L361.6,521.2 L361.4,520.7 L361.3,520.3 L361.2,519.8 L361.1,519.4 L360.9,518.9 L360.8,518.4 L360.7,518.0 L360.6,517.5 L360.5,517.0 L360.3,516.6 L360.2,516.1 L360.1,515.6 L360.0,515.1 L359.9,514.7 L359.8,514.2 L359.7,513.7 L359.6,513.2 L359.5,512.8 L359.4,512.3 L359.3,511.8 L359.2,511.3 L359.1,510.9 L359.0,510.4 L358.9,509.9 L358.8,509.4 L358.7,509.0 L358.6,508.5 L358.5,508.0 L358.4,507.5 L358.3,507.1 L358.2,506.6 L358.1,506.1 L358.1,505.6 L358.0,505.2 L357.9,504.7 L357.8,504.2 L357.8,503.7 L357.7,503.2 L357.6,502.8 L357.5,502.3 L357.5,501.8 L357.4,501.3 L357.3,500.9 L357.3,500.4 L357.2,499.9 L357.2,499.5 L357.1,499.0 L357.1,498.5 L357.0,498.1 L357.0,497.6 L357.0,497.1 L356.9,496.7 L356.9,496.2 L356.9,495.8 L356.8,495.3 L356.8,494.8 L356.8,494.4 L356.8,493.9 L356.8,493.4 L356.8,492.9 L356.8,492.5 L356.8,492.0 L356.8,491.5 L356.8,491.0 L356.8,490.6 L356.8,490.1 L356.8,489.6 L356.8,489.1 L356.8,488.7 L356.8,488.2 L356.9,487.7 L356.9,487.2 L356.9,486.7 L356.9,486.2 L356.9,485.7 L357.0,485.2 L357.0,484.7 L357.0,484.2 L357.0,483.7 L357.1,483.2 L357.1,482.7 L357.1,482.2 L357.1,481.7 L357.2,481.2 L357.2,480.7 L357.2,480.2 L357.2,479.7 L357.2,479.2 L357.3,478.7 L357.3,478.2 L357.3,477.7 L357.3,477.3 L357.4,476.8 L357.4,476.3 L357.4,475.8 L357.4,475.3 L357.5,474.8 L357.5,474.3 L357.5,473.8 L357.6,473.3 L357.6,472.9 L357.6,472.4 L357.7,471.9 L357.7,471.4 L357.7,470.9 L357.8,470.4 L357.8,469.9 L357.9,469.4 L357.9,468.9 L357.9,468.4 L358.0,467.9 L358.0,467.4 L358.1,467.0 L358.1,466.5 L358.2,466.0 L358.2,465.5 L358.2,465.0 L358.3,464.5 L358.3,464.0 L358.4,463.5 L358.4,463.0 L358.5,462.5 L358.5,462.0 L358.6,461.5 L358.6,461.0 L358.7,460.6 L358.7,460.1 L358.8,459.6 L358.8,459.2 L358.9,458.7 L359.0,458.2 L359.0,457.8 L359.1,457.3 L359.2,456.8 L359.2,456.4 L359.3,455.9 L359.4,455.4 L359.5,454.9 L359.6,454.4 L359.6,454.0 L359.7,453.5 L359.8,453.0 L359.9,452.5 L360.0,452.0 L360.1,451.5 L360.2,451.0 L360.2,450.4 L360.3,449.9 L360.4,449.4 L360.5,448.9 L360.6,448.4 L360.6,447.8 L360.7,447.3 L360.8,446.8 L360.8,446.2 L360.9,445.7 L360.9,445.2 L361.0,444.6 L361.0,444.1 L361.1,443.6 L361.1,443.0 L361.1,442.5 L361.1,441.9 L361.2,441.4 L361.2,440.9 L361.2,440.3 L361.2,439.8 L361.2,439.3 L361.2,438.8 L361.2,438.2 L361.2,437.7 L361.2,437.2 L361.2,436.7 L361.2,436.2 L361.2,435.6 L361.2,435.1 L361.1,434.6 L361.1,434.1 L361.1,433.6 L361.1,433.1 L361.1,432.6 L361.0,432.0 L361.0,431.5 L361.0,431.0 L361.0,430.5 L360.9,430.0 L360.9,429.5 L360.9,429.0 L360.9,428.5 L360.8,428.0 L360.8,427.5 L360.8,427.0 L360.7,426.5 L360.7,426.0 L360.7,425.5 L360.6,424.9 L360.6,424.4 L360.6,423.9 L360.5,423.4 L360.5,422.9 L360.5,422.4 L360.4,421.9 L360.4,421.4 L360.3,420.9 L360.3,420.4 L360.3,419.9 L360.2,419.4 L360.2,418.9 L360.1,418.4 L360.1,417.9 L360.1,417.4 L360.0,416.9 L360.0,416.4 L359.9,415.9 L359.9,415.4 L359.8,414.9 L359.8,414.4 L359.8,413.9 L359.7,413.4 L359.7,412.9 L359.6,412.4 L359.6,411.9 L359.5,411.4 L359.5,410.9 L359.5,410.4 L359.4,409.9 L359.4,409.4 L359.3,408.9 L359.3,408.4 L359.2,407.9 L359.2,407.3 L359.1,406.8 L359.0,406.3 L359.0,405.8 L358.9,405.3 L358.9,404.8 L358.8,404.3 L358.8,403.8 L358.7,403.3 L358.6,402.8 L358.6,402.3 L358.5,401.7 L358.4,401.2 L358.4,400.7 L358.3,400.2 L358.2,399.7 L358.1,399.2 L358.1,398.7 L358.0,398.2 L357.9,397.7 L357.9,397.2 L357.8,396.7 L357.7,396.2 L357.6,395.7 L357.6,395.2 L357.5,394.7 L357.4,394.2 L357.3,393.7 L357.2,393.2 L357.2,392.7 L357.1,392.2 L357.0,391.8 L356.9,391.3 L356.9,390.8 L356.8,390.3 L356.7,389.8 L356.7,389.3Z" fill="#fff" stroke="none"/>
<path d="M347.3,390.7 L347.5,391.7 L347.6,392.7 L347.8,393.7 L348.0,394.7 L348.1,395.7 L348.3,396.6 L348.4,397.6 L348.6,398.6 L348.7,399.6 L348.8,400.5 L349.0,401.5 L349.1,402.5 L349.2,403.5 L349.4,404.4 L349.5,405.4 L349.6,406.4 L349.7,407.3 L349.8,408.3 L349.9,409.3 L350.0,410.3 L350.1,411.2 L350.2,412.2 L350.3,413.2 L350.4,414.2 L350.4,415.2 L350.5,416.2 L350.6,417.2 L350.7,418.2 L350.8,419.2 L350.9,420.1 L350.9,421.1 L351.0,422.1 L351.1,423.1 L351.1,424.1 L351.2,425.1 L351.3,426.1 L351.3,427.1 L351.4,428.0 L351.5,429.0 L351.5,430.0 L351.6,431.0 L351.6,432.0 L351.7,432.9 L351.7,433.9 L351.7,434.9 L351.8,435.9 L351.8,436.8 L351.8,437.8 L351.8,438.7 L351.8,439.7 L351.8,440.6 L351.8,441.6 L351.7,442.5 L351.6,443.4 L351.6,444.3 L351.5,445.2 L351.4,446.1 L351.2,447.1 L351.1,448.0 L351.0,449.0 L350.8,449.9 L350.6,450.9 L350.5,451.8 L350.3,452.8 L350.1,453.8 L350.0,454.9 L349.8,455.9 L349.6,456.9 L349.5,458.0 L349.4,459.1 L349.3,460.1 L349.2,461.1 L349.1,462.1 L349.0,463.1 L348.9,464.1 L348.8,465.1 L348.7,466.1 L348.6,467.1 L348.5,468.2 L348.4,469.2 L348.4,470.2 L348.3,471.2 L348.2,472.2 L348.2,473.2 L348.1,474.2 L348.0,475.2 L348.0,476.3 L347.9,477.3 L347.9,478.3 L347.8,479.3 L347.8,480.3 L347.7,481.3 L347.7,482.3 L347.6,483.3 L347.6,484.3 L347.6,485.3 L347.5,486.3 L347.5,487.3 L347.4,488.4 L347.4,489.4 L347.4,490.4 L347.4,491.5 L347.4,492.5 L347.4,493.6 L347.4,494.7 L347.5,495.7 L347.5,496.8 L347.6,497.9 L347.7,498.9 L347.8,500.0 L347.9,501.0 L348.0,502.1 L348.2,503.1 L348.3,504.1 L348.5,505.2 L348.6,506.2 L348.8,507.2 L349.0,508.2 L349.2,509.2 L349.4,510.3 L349.5,511.3 L349.8,512.3 L350.0,513.3 L350.2,514.3 L350.4,515.3 L350.6,516.3 L350.9,517.3 L351.1,518.3 L351.3,519.3 L351.6,520.3 L351.9,521.3 L352.1,522.3 L352.4,523.3 L352.7,524.3 L353.0,525.3 L353.3,526.3 L353.6,527.4 L354.0,528.4 L354.4,529.4 L354.7,530.4 L355.1,531.4 L355.5,532.3 L356.0,533.3 L356.4,534.3 L356.8,535.2 L357.3,536.2 L357.7,537.1 L358.2,538.1 L358.7,539.0 L359.1,539.9 L359.6,540.8 L360.1,541.7 L360.5,542.6 L361.0,543.5 L361.5,544.4 L362.0,545.3 L362.5,546.2 L363.0,547.2 L363.6,548.1 L364.1,549.0 L364.7,550.0 L365.4,550.9 L366.1,551.8 L366.8,552.8 L367.6,553.7 L368.4,554.5 L369.2,555.4 L370.1,556.1 L371.0,556.9 L371.9,557.6 L372.9,558.4 L373.9,559.1 L375.1,559.7 L376.3,560.3 L377.7,560.8 L379.2,561.2 L380.8,561.4 L382.4,561.4 L384.0,561.1 L385.4,560.8 L386.7,560.3 L387.9,559.8 L389.0,559.2 L390.0,558.6 L390.9,558.1 L391.8,557.5 L392.7,557.0 L393.6,556.4 L394.5,555.9 L395.4,555.2 L396.2,554.6 L397.1,554.0 L397.9,553.4 L398.8,552.8 L399.6,552.1 L400.4,551.5 L401.2,550.9 L402.0,550.3 L402.8,549.6 L403.6,549.0 L404.4,548.4 L405.1,547.8 L405.9,547.2 L406.7,546.5 L407.5,545.9 L408.2,545.3 L409.0,544.7 L409.8,544.1 L410.6,543.5 L411.4,542.9 L412.2,542.3 L413.0,541.6 L413.8,541.0 L414.6,540.4 L415.4,539.8 L416.1,539.2 L416.9,538.6 L417.7,538.0 L418.5,537.4 L419.2,536.8 L420.0,536.3 L420.8,535.7 L421.6,535.1 L422.4,534.6 L423.2,534.0 L424.0,533.5 L424.8,533.0 L425.6,532.4 L426.4,531.9 L427.2,531.4 L428.0,530.8 L428.9,530.3 L429.7,529.8 L430.6,529.3 L431.4,528.7 L432.3,528.2 L433.1,527.7 L434.0,527.1 L434.8,526.6 L435.7,526.0 L436.5,525.5 L437.4,524.9 L438.3,524.4 L439.1,523.8 L440.0,523.2 L440.8,522.7 L441.7,522.1 L442.5,521.5 L443.4,520.8 L444.3,520.2 L445.1,519.5 L446.0,518.8 L446.8,518.2 L447.6,517.5 L448.4,516.8 L449.2,516.1 L450.0,515.3 L450.7,514.6 L451.5,513.8 L452.2,513.1 L453.0,512.3 L453.7,511.5 L454.4,510.8 L455.1,510.0 L455.8,509.2 L456.4,508.5 L457.1,507.7 L457.8,507.0 L458.4,506.2 L459.1,505.5 L459.7,504.8 L460.4,504.0 L461.1,503.3 L461.7,502.5 L462.4,501.8 L463.1,501.0 L463.8,500.1 L464.5,499.3 L465.2,498.4 L465.9,497.5 L466.5,496.6 L467.1,495.7 L467.7,494.7 L468.3,493.8 L468.8,492.8 L469.4,491.8 L469.9,490.8 L470.3,489.8 L470.8,488.8 L471.2,487.8 L471.6,486.8 L472.0,485.8 L472.3,484.9 L472.7,483.9 L473.0,482.9 L473.4,481.9 L473.7,481.0 L474.0,480.0 L474.4,479.1 L474.7,478.1 L475.0,477.2 L475.3,476.2 L475.6,475.3 L476.0,474.4 L476.3,473.5 L476.6,472.5 L476.9,471.6 L477.3,470.7 L477.6,469.8 L478.0,468.8 L478.3,467.9 L478.7,466.9 L479.0,466.0 L479.4,465.0 L479.7,464.1 L480.1,463.1 L480.4,462.2 L480.7,461.3 L481.1,460.3 L481.4,459.4 L481.7,458.4 L482.1,457.5 L482.4,456.6 L482.8,455.7 L483.1,454.7 L483.4,453.8 L483.8,452.9 L484.1,452.0 L484.5,451.1 L484.8,450.2 L485.2,449.3 L485.6,448.4 L486.0,447.5 L486.3,446.6 L486.7,445.7 L487.1,444.8 L487.5,444.0 L487.9,443.1 L488.3,442.2 L488.8,441.3 L489.2,440.4 L489.6,439.5 L490.0,438.7 L490.5,437.8 L490.9,436.9 L491.3,436.1 L491.8,435.2 L492.3,434.4 L492.7,433.5 L493.2,432.7 L493.7,431.9 L494.2,431.1 L494.6,430.2 L495.1,429.4 L495.7,428.6 L496.2,427.8 L496.7,427.0 L497.2,426.1 L497.8,425.3 L498.3,424.5 L498.8,423.7 L499.4,422.9 L499.9,422.1 L500.5,421.3 L501.1,420.5 L501.6,419.7 L502.2,418.9 L502.8,418.1 L503.4,417.4 L504.0,416.6 L504.6,415.8 L505.1,415.0 L505.7,414.2 L506.3,413.4 L506.9,412.7 L507.5,411.9 L508.2,411.1 L508.8,410.3 L509.4,409.5 L510.0,408.8 L510.6,408.0 L511.2,407.2 L511.8,406.4 L512.5,405.7 L513.1,404.9 L513.7,404.1 L514.3,403.4 L515.0,402.6 L515.6,401.8 L516.2,401.1 L516.9,400.3 L517.5,399.5 L518.1,398.8 L518.8,398.0 L519.4,397.3 L520.0,396.5 L520.7,395.7 L521.3,395.0 L522.0,394.2 L522.6,393.5 L523.3,392.7 L523.9,392.0 L524.5,391.2 L525.2,390.5 L525.8,389.7 L526.5,389.0 L527.2,388.2 L527.8,387.5 L528.5,386.7 L529.1,386.0 L529.8,385.3 L530.4,384.5 L531.1,383.8 L531.8,383.1 L532.4,382.3 L533.1,381.6 L533.8,380.9 L534.4,380.1 L535.1,379.4 L535.8,378.7 L536.4,378.0 L537.1,377.2 L537.8,376.5 L538.5,375.8 L539.2,375.1 L539.8,374.4 L540.5,373.7 L541.2,373.0 L541.9,372.3 L542.6,371.6 L543.3,370.9 L544.0,370.2 L544.7,369.5 L545.4,368.8 L546.1,368.1 L546.8,367.4 L547.5,366.7 L548.2,366.1 L548.9,365.4 L549.6,364.7 L550.3,364.0 L551.0,363.3 L551.7,362.7 L552.5,362.0 L553.2,361.3 L553.9,360.7 L554.6,360.0 L555.3,359.3 L556.1,358.7 L556.8,358.0 L557.5,357.4 L558.3,356.7 L559.0,356.1 L559.8,355.4 L560.5,354.8 L561.2,354.2 L562.0,353.5 L562.7,352.9 L563.5,352.3 L564.3,351.7 L565.0,351.1 L565.8,350.5 L566.5,349.9 L567.3,349.3 L568.0,348.8 L568.8,348.2 L569.6,347.7 L570.4,347.2 L571.2,346.6 L572.0,346.1 L572.8,345.6 L573.6,345.1 L574.4,344.5 L575.3,344.0 L576.1,343.5 L577.0,343.0 L577.9,342.5 L578.7,341.9 L579.6,341.4 L580.5,340.8 L581.3,340.2 L582.2,339.7 L583.1,339.1 L583.9,338.5 L584.8,337.9 L585.6,337.3 L586.4,336.7 L587.2,336.1 L588.0,335.5 L588.9,334.9 L589.7,334.3 L590.5,333.7 L591.3,333.1 L592.1,332.5 L592.9,331.9 L593.7,331.3 L594.5,330.7 L595.3,330.1 L596.1,329.5 L596.9,328.9 L597.7,328.3 L598.5,327.6 L599.3,327.0 L600.1,326.4 L600.9,325.8 L601.7,325.2 L602.5,324.6 L603.3,324.0 L604.1,323.4 L604.9,322.8 L605.7,322.2" fill="none" stroke="#000" stroke-width="1.70" stroke-linejoin="round"/>
<path d="M356.7,389.3 L356.8,390.3 L356.9,391.3 L357.1,392.2 L357.2,393.2 L357.4,394.2 L357.6,395.2 L357.7,396.2 L357.9,397.2 L358.0,398.2 L358.1,399.2 L358.3,400.2 L358.4,401.2 L358.6,402.3 L358.7,403.3 L358.8,404.3 L358.9,405.3 L359.0,406.3 L359.2,407.3 L359.3,408.4 L359.4,409.4 L359.5,410.4 L359.5,411.4 L359.6,412.4 L359.7,413.4 L359.8,414.4 L359.9,415.4 L360.0,416.4 L360.1,417.4 L360.1,418.4 L360.2,419.4 L360.3,420.4 L360.4,421.4 L360.5,422.4 L360.5,423.4 L360.6,424.4 L360.7,425.5 L360.7,426.5 L360.8,427.5 L360.9,428.5 L360.9,429.5 L361.0,430.5 L361.0,431.5 L361.1,432.6 L361.1,433.6 L361.1,434.6 L361.2,435.6 L361.2,436.7 L361.2,437.7 L361.2,438.8 L361.2,439.8 L361.2,440.9 L361.1,441.9 L361.1,443.0 L361.0,444.1 L360.9,445.2 L360.8,446.2 L360.7,447.3 L360.6,448.4 L360.4,449.4 L360.2,450.4 L360.1,451.5 L359.9,452.5 L359.7,453.5 L359.6,454.4 L359.4,455.4 L359.2,456.4 L359.1,457.3 L359.0,458.2 L358.8,459.2 L358.7,460.1 L358.6,461.0 L358.5,462.0 L358.4,463.0 L358.3,464.0 L358.2,465.0 L358.2,466.0 L358.1,467.0 L358.0,467.9 L357.9,468.9 L357.8,469.9 L357.7,470.9 L357.7,471.9 L357.6,472.9 L357.5,473.8 L357.5,474.8 L357.4,475.8 L357.4,476.8 L357.3,477.7 L357.3,478.7 L357.2,479.7 L357.2,480.7 L357.1,481.7 L357.1,482.7 L357.0,483.7 L357.0,484.7 L356.9,485.7 L356.9,486.7 L356.9,487.7 L356.8,488.7 L356.8,489.6 L356.8,490.6 L356.8,491.5 L356.8,492.5 L356.8,493.4 L356.8,494.4 L356.8,495.3 L356.9,496.2 L357.0,497.1 L357.0,498.1 L357.1,499.0 L357.2,499.9 L357.3,500.9 L357.5,501.8 L357.6,502.8 L357.8,503.7 L357.9,504.7 L358.1,505.6 L358.2,506.6 L358.4,507.5 L358.6,508.5 L358.8,509.4 L359.0,510.4 L359.2,511.3 L359.4,512.3 L359.6,513.2 L359.8,514.2 L360.0,515.1 L360.2,516.1 L360.5,517.0 L360.7,518.0 L360.9,518.9 L361.2,519.8 L361.4,520.7 L361.7,521.7 L362.0,522.6 L362.3,523.5 L362.6,524.3 L362.9,525.2 L363.2,526.1 L363.5,527.0 L363.9,527.8 L364.2,528.7 L364.6,529.6 L365.0,530.4 L365.4,531.3 L365.8,532.1 L366.2,533.0 L366.6,533.9 L367.0,534.7 L367.5,535.6 L367.9,536.5 L368.4,537.3 L368.8,538.2 L369.3,539.1 L369.8,540.0 L370.2,540.8 L370.7,541.6 L371.1,542.4 L371.6,543.2 L372.1,544.0 L372.6,544.8 L373.1,545.5 L373.5,546.1 L374.1,546.8 L374.6,547.4 L375.1,548.0 L375.7,548.6 L376.3,549.1 L377.0,549.7 L377.6,550.2 L378.2,550.7 L378.8,551.1 L379.4,551.4 L380.0,551.7 L380.5,551.8 L380.9,552.0 L381.3,552.0 L381.7,552.0 L382.1,551.9 L382.6,551.8 L383.2,551.6 L383.8,551.3 L384.5,550.9 L385.3,550.5 L386.0,550.0 L386.9,549.5 L387.7,549.0 L388.5,548.5 L389.3,548.0 L390.0,547.5 L390.8,547.0 L391.5,546.4 L392.3,545.9 L393.1,545.3 L393.9,544.7 L394.6,544.1 L395.4,543.5 L396.2,542.9 L397.0,542.3 L397.7,541.6 L398.5,541.0 L399.3,540.4 L400.1,539.8 L400.9,539.2 L401.7,538.5 L402.5,537.9 L403.3,537.3 L404.1,536.7 L404.9,536.1 L405.7,535.5 L406.4,534.9 L407.2,534.3 L408.0,533.6 L408.8,533.0 L409.6,532.4 L410.4,531.8 L411.2,531.1 L412.0,530.5 L412.8,529.9 L413.6,529.3 L414.5,528.7 L415.3,528.1 L416.2,527.5 L417.0,526.9 L417.9,526.3 L418.7,525.7 L419.6,525.1 L420.4,524.5 L421.3,524.0 L422.2,523.4 L423.0,522.9 L423.9,522.4 L424.7,521.8 L425.6,521.3 L426.4,520.8 L427.3,520.2 L428.1,519.7 L429.0,519.2 L429.8,518.6 L430.6,518.1 L431.5,517.6 L432.3,517.1 L433.1,516.5 L433.9,516.0 L434.7,515.4 L435.5,514.9 L436.3,514.4 L437.1,513.8 L437.8,513.3 L438.6,512.7 L439.3,512.1 L440.0,511.6 L440.7,511.0 L441.4,510.4 L442.1,509.8 L442.8,509.1 L443.5,508.5 L444.2,507.8 L444.8,507.2 L445.5,506.5 L446.2,505.8 L446.8,505.2 L447.4,504.4 L448.1,503.7 L448.7,503.0 L449.4,502.3 L450.0,501.5 L450.7,500.8 L451.4,500.0 L452.1,499.2 L452.7,498.5 L453.4,497.7 L454.1,497.0 L454.7,496.3 L455.4,495.5 L456.0,494.8 L456.6,494.1 L457.2,493.4 L457.7,492.7 L458.2,492.0 L458.7,491.3 L459.2,490.6 L459.7,489.8 L460.1,489.1 L460.6,488.3 L461.0,487.5 L461.4,486.7 L461.8,485.9 L462.1,485.1 L462.5,484.2 L462.8,483.4 L463.2,482.5 L463.5,481.6 L463.8,480.7 L464.2,479.8 L464.5,478.8 L464.8,477.9 L465.1,477.0 L465.5,476.0 L465.8,475.1 L466.1,474.1 L466.4,473.2 L466.8,472.2 L467.1,471.3 L467.4,470.3 L467.8,469.3 L468.1,468.4 L468.5,467.4 L468.8,466.5 L469.2,465.6 L469.5,464.6 L469.9,463.7 L470.2,462.8 L470.5,461.8 L470.9,460.9 L471.2,460.0 L471.5,459.0 L471.9,458.1 L472.2,457.1 L472.6,456.2 L472.9,455.2 L473.2,454.3 L473.6,453.3 L473.9,452.4 L474.3,451.4 L474.6,450.5 L475.0,449.5 L475.4,448.6 L475.7,447.6 L476.1,446.7 L476.5,445.7 L476.9,444.8 L477.3,443.8 L477.7,442.9 L478.1,441.9 L478.5,441.0 L479.0,440.0 L479.4,439.1 L479.8,438.2 L480.3,437.2 L480.7,436.3 L481.2,435.4 L481.6,434.5 L482.1,433.6 L482.5,432.6 L483.0,431.7 L483.5,430.8 L484.0,429.9 L484.5,429.0 L485.0,428.1 L485.5,427.2 L486.1,426.3 L486.6,425.4 L487.1,424.5 L487.7,423.6 L488.2,422.7 L488.8,421.9 L489.4,421.0 L489.9,420.1 L490.5,419.3 L491.1,418.4 L491.7,417.6 L492.2,416.7 L492.8,415.9 L493.4,415.1 L494.0,414.2 L494.6,413.4 L495.2,412.6 L495.8,411.8 L496.4,410.9 L497.0,410.1 L497.7,409.3 L498.3,408.5 L498.9,407.7 L499.5,406.9 L500.1,406.1 L500.7,405.3 L501.4,404.5 L502.0,403.7 L502.6,402.9 L503.3,402.1 L503.9,401.3 L504.5,400.6 L505.2,399.8 L505.8,399.0 L506.4,398.2 L507.1,397.4 L507.7,396.6 L508.3,395.9 L509.0,395.1 L509.6,394.3 L510.3,393.5 L510.9,392.8 L511.6,392.0 L512.2,391.2 L512.9,390.4 L513.5,389.7 L514.2,388.9 L514.8,388.1 L515.5,387.4 L516.1,386.6 L516.8,385.8 L517.4,385.1 L518.1,384.3 L518.8,383.5 L519.4,382.8 L520.1,382.0 L520.8,381.3 L521.4,380.5 L522.1,379.8 L522.8,379.0 L523.4,378.3 L524.1,377.5 L524.8,376.8 L525.5,376.0 L526.1,375.3 L526.8,374.5 L527.5,373.8 L528.2,373.0 L528.9,372.3 L529.6,371.5 L530.3,370.8 L531.0,370.1 L531.7,369.3 L532.4,368.6 L533.1,367.9 L533.8,367.1 L534.5,366.4 L535.2,365.7 L535.9,365.0 L536.6,364.2 L537.4,363.5 L538.1,362.8 L538.8,362.1 L539.5,361.4 L540.3,360.7 L541.0,360.0 L541.7,359.3 L542.5,358.6 L543.2,357.9 L544.0,357.2 L544.7,356.5 L545.5,355.8 L546.3,355.2 L547.0,354.5 L547.8,353.8 L548.6,353.2 L549.3,352.5 L550.1,351.8 L550.9,351.2 L551.7,350.5 L552.5,349.9 L553.2,349.2 L554.0,348.6 L554.8,347.9 L555.6,347.3 L556.4,346.7 L557.2,346.0 L558.0,345.4 L558.9,344.8 L559.7,344.2 L560.5,343.6 L561.4,342.9 L562.3,342.3 L563.1,341.7 L564.0,341.1 L564.9,340.6 L565.8,340.0 L566.7,339.5 L567.6,338.9 L568.4,338.4 L569.3,337.9 L570.2,337.4 L571.1,336.9 L572.0,336.4 L572.8,335.9 L573.7,335.4 L574.5,334.9 L575.4,334.5 L576.2,334.0 L577.0,333.5 L577.8,333.0 L578.7,332.4 L579.5,331.9 L580.3,331.4 L581.1,330.8 L581.9,330.3 L582.7,329.7 L583.5,329.2 L584.3,328.6 L585.2,328.0 L586.0,327.5 L586.8,326.9 L587.6,326.3 L588.4,325.8 L589.2,325.2 L590.1,324.6 L590.9,324.0 L591.7,323.5 L592.5,322.9 L593.3,322.3 L594.1,321.7 L594.9,321.2 L595.7,320.6 L596.6,320.0 L597.4,319.4 L598.2,318.8 L599.0,318.2 L599.8,317.6 L600.6,317.0 L601.4,316.4" fill="none" stroke="#000" stroke-width="1.70" stroke-linejoin="round"/>
<path d="M347.8,393.7 L358.2,399.7 M349.4,404.9 L359.5,411.4 M350.5,416.2 L360.5,422.9 M351.4,427.6 L361.1,434.6 M351.8,438.7 L360.8,446.8 M350.9,449.4 L359.0,458.2 M349.2,461.1 L357.9,469.4 M348.2,472.7 L357.2,480.7 M347.6,484.3 L356.8,492.0 M347.5,496.3 L357.6,502.8 M349.0,508.2 L359.7,513.7 M351.5,519.8 L362.6,524.3 M355.1,531.4 L366.8,534.3 M360.3,542.2 L372.1,544.0 M366.8,552.8 L378.5,550.9 M378.5,561.0 L384.5,550.9 M392.7,557.0 L393.5,545.0 M402.4,550.0 L402.5,537.9 M411.4,542.9 L411.6,530.8 M420.4,536.0 L421.3,524.0 M429.7,529.8 L431.0,517.9 M439.5,523.5 L440.0,511.6 M449.2,516.1 L447.8,504.1 M457.4,507.3 L455.4,495.5 M465.2,498.4 L461.2,487.1 M471.4,487.3 L459.5,490.2 M475.3,476.2 L463.8,480.7 M479.2,465.5 L467.6,469.8 M483.1,454.7 L471.5,459.0 M487.3,444.4 L475.6,448.1 M492.3,434.4 L480.3,437.2 M498.0,424.9 L485.8,426.7 M504.6,415.8 L492.2,416.7 M511.5,406.8 L499.2,407.3 M518.8,398.0 L506.4,398.2 M526.2,389.4 L513.8,389.3 M533.8,380.9 L521.4,380.5 M541.5,372.6 L529.2,371.9 M549.6,364.7 L537.4,363.5 M557.9,357.0 L545.9,355.5 M566.5,349.9 L554.8,347.9 M575.7,343.8 L564.4,340.9 M585.6,337.3 L574.5,334.9 M594.9,330.4 L583.9,328.9 M604.1,323.4 L593.3,322.3 " fill="none" stroke="#000" stroke-width="1.44"/>
<path d="M606.0,322.0 L606.4,321.7 L606.8,321.4 L607.3,321.1 L607.7,320.8 L608.1,320.6 L608.5,320.3 L608.9,320.0 L609.3,319.7 L609.7,319.4 L610.1,319.1 L610.6,318.8 L611.0,318.6 L611.4,318.3 L611.8,318.0 L612.2,317.7 L612.6,317.4 L613.0,317.1 L613.4,316.9 L613.8,316.6 L614.2,316.3 L614.6,316.0 L615.0,315.8 L615.5,315.5 L615.9,315.2 L616.3,314.9 L616.7,314.7 L617.1,314.4 L617.5,314.1 L617.9,313.9 L618.3,313.6 L618.7,313.3 L619.1,313.1 L619.6,312.8 L620.0,312.6 L620.4,312.3 L620.8,312.0 L621.2,311.8 L621.6,311.5 L622.0,311.3 L622.5,311.0 L622.9,310.8 L623.3,310.5 L623.7,310.3 L624.2,310.0 L624.6,309.8 L625.0,309.5 L625.5,309.3 L625.9,309.0 L626.3,308.8 L626.7,308.6 L627.2,308.3 L627.6,308.1 L628.0,307.8 L628.5,307.6 L628.9,307.3 L629.3,307.1 L629.8,306.9 L630.2,306.6 L630.6,306.4 L631.0,306.2 L631.5,305.9 L631.9,305.7 L632.4,305.5 L632.8,305.2 L633.2,305.0 L633.7,304.8 L634.1,304.5 L634.5,304.3 L635.0,304.1 L635.4,303.9 L635.8,303.6 L636.3,303.4 L636.7,303.2 L637.2,303.0 L637.6,302.8 L638.0,302.5 L638.5,302.3 L638.9,302.1 L639.4,301.9 L639.8,301.7 L640.2,301.5 L640.7,301.3 L641.1,301.0 L641.6,300.8 L642.0,300.6 L642.5,300.4 L642.9,300.2 L643.4,300.0 L643.9,299.8 L644.3,299.6 L644.8,299.4 L645.2,299.1 L645.7,298.9 L646.1,298.7 L646.6,298.5 L647.0,298.3 L647.4,298.1 L647.9,297.9 L648.3,297.7 L648.8,297.5 L649.2,297.3 L649.7,297.1 L650.1,296.9 L650.6,296.7 L651.0,296.5 L651.5,296.3 L651.9,296.2 L652.4,296.0 L652.8,295.8 L653.3,295.6 L653.7,295.5 L654.1,295.3 L654.6,295.1 L655.1,295.0 L655.5,294.8 L656.0,294.7 L656.4,294.5 L656.9,294.4 L657.3,294.2 L657.8,294.1 L658.2,293.9 L658.7,293.8 L659.2,293.7 L659.6,293.6 L660.1,293.4 L660.6,293.3 L661.0,293.2 L661.5,293.1 L662.0,293.0 L662.4,292.9 L662.9,292.8 L663.4,292.6 L663.8,292.5 L664.3,292.4 L664.8,292.4 L665.3,292.3 L665.7,292.2 L666.2,292.1 L666.7,292.0 L667.2,291.9 L667.7,291.8 L668.1,291.7 L668.6,291.6 L669.1,291.6 L669.6,291.5 L670.1,291.4 L670.6,291.3 L671.1,291.2 L671.5,291.2 L672.0,291.1 L672.5,291.0 L673.0,290.9 L673.5,290.9 L674.0,290.8 L674.5,290.7 L675.0,290.7 L675.4,290.6 L675.9,290.5 L676.4,290.5 L676.9,290.4 L677.4,290.3 L677.9,290.3 L678.4,290.2 L678.9,290.1 L679.4,290.1 L679.9,290.0 L680.4,290.0 L680.9,289.9 L681.3,289.8 L681.8,289.8 L682.3,289.7 L682.8,289.7 L683.3,289.6 L683.8,289.5 L684.3,289.5 L684.8,289.4 L685.3,289.4 L685.8,289.3 L686.3,289.3 L686.8,289.2 L687.3,289.1 L687.8,289.1 L688.3,289.0 L688.8,289.0 L689.3,288.9 L689.8,288.9 L690.3,288.8 L690.7,288.8 L691.2,288.7 L691.7,288.6 L692.2,288.6 L692.7,288.5 L693.2,288.5 L693.7,288.4 L694.2,288.4 L694.7,288.3 L695.2,288.3 L695.7,288.3 L696.2,288.2 L696.6,288.2 L697.1,288.1 L697.6,288.1 L698.1,288.0 L698.6,288.0 L699.1,288.0 L699.6,287.9 L700.1,287.9 L700.6,287.9 L701.1,287.8 L701.6,287.8 L702.1,287.8 L702.6,287.7 L703.0,287.7 L703.5,287.7 L704.0,287.7 L704.5,287.6 L705.0,287.6 L705.5,287.6 L706.0,287.6 L706.5,287.5 L707.0,287.5 L707.5,287.5 L708.0,287.5 L708.5,287.4 L709.0,287.4 L709.5,287.4 L710.0,287.4 L710.5,287.3 L711.0,287.3 L711.5,287.3 L712.0,287.3 L712.5,287.3 L713.0,287.2 L713.5,287.2 L714.0,287.2 L714.5,287.2 L715.0,287.2 L715.5,287.1 L716.0,287.1 L716.5,287.1 L717.0,287.1 L717.5,287.0 L718.0,287.0 L718.5,287.0 L719.0,287.0 L719.5,286.9 L720.0,286.9 L720.5,286.9 L721.0,286.9 L721.5,286.9 L721.9,286.9 L722.4,286.8 L722.9,286.8 L723.4,286.8 L723.9,286.8 L724.4,286.8 L724.9,286.8 L725.4,286.8 L725.9,286.7 L726.4,286.7 L726.9,286.7 L727.4,286.7 L727.9,286.7 L728.4,286.7 L728.9,286.7 L729.4,286.7 L729.9,286.7 L730.4,286.6 L730.9,286.6 L731.4,286.6 L731.9,286.6 L731.8,280.4 L731.3,280.4 L730.8,280.4 L730.3,280.4 L729.8,280.5 L729.3,280.5 L728.8,280.5 L728.3,280.5 L727.8,280.5 L727.3,280.5 L726.8,280.5 L726.3,280.5 L725.8,280.5 L725.3,280.6 L724.8,280.6 L724.3,280.6 L723.8,280.6 L723.3,280.6 L722.7,280.6 L722.2,280.6 L721.7,280.7 L721.2,280.7 L720.7,280.7 L720.2,280.7 L719.7,280.7 L719.2,280.8 L718.7,280.8 L718.2,280.8 L717.7,280.8 L717.2,280.8 L716.7,280.9 L716.2,280.9 L715.7,280.9 L715.2,280.9 L714.7,281.0 L714.2,281.0 L713.7,281.0 L713.2,281.0 L712.7,281.0 L712.2,281.1 L711.7,281.1 L711.2,281.1 L710.7,281.1 L710.2,281.2 L709.7,281.2 L709.2,281.2 L708.7,281.2 L708.2,281.2 L707.7,281.3 L707.2,281.3 L706.7,281.3 L706.2,281.3 L705.7,281.4 L705.2,281.4 L704.7,281.4 L704.2,281.4 L703.7,281.5 L703.2,281.5 L702.7,281.5 L702.2,281.6 L701.7,281.6 L701.2,281.6 L700.7,281.6 L700.2,281.7 L699.7,281.7 L699.1,281.8 L698.6,281.8 L698.1,281.8 L697.6,281.9 L697.1,281.9 L696.6,281.9 L696.1,282.0 L695.6,282.0 L695.1,282.1 L694.6,282.1 L694.1,282.2 L693.6,282.2 L693.1,282.3 L692.6,282.3 L692.1,282.4 L691.6,282.4 L691.1,282.5 L690.6,282.5 L690.1,282.6 L689.6,282.6 L689.1,282.7 L688.6,282.8 L688.1,282.8 L687.6,282.9 L687.1,282.9 L686.6,283.0 L686.1,283.0 L685.6,283.1 L685.1,283.1 L684.6,283.2 L684.1,283.3 L683.6,283.3 L683.1,283.4 L682.6,283.4 L682.1,283.5 L681.6,283.6 L681.1,283.6 L680.6,283.7 L680.1,283.7 L679.6,283.8 L679.1,283.9 L678.6,283.9 L678.1,284.0 L677.6,284.1 L677.1,284.1 L676.6,284.2 L676.1,284.2 L675.6,284.3 L675.1,284.4 L674.6,284.5 L674.1,284.5 L673.6,284.6 L673.1,284.7 L672.6,284.7 L672.1,284.8 L671.6,284.9 L671.1,285.0 L670.6,285.0 L670.1,285.1 L669.6,285.2 L669.1,285.3 L668.6,285.4 L668.1,285.4 L667.6,285.5 L667.1,285.6 L666.6,285.7 L666.1,285.8 L665.6,285.9 L665.1,286.0 L664.6,286.1 L664.1,286.2 L663.6,286.3 L663.1,286.4 L662.5,286.5 L662.0,286.6 L661.5,286.7 L661.0,286.8 L660.5,286.9 L660.0,287.1 L659.5,287.2 L659.0,287.3 L658.5,287.4 L658.0,287.6 L657.5,287.7 L657.0,287.9 L656.5,288.0 L656.0,288.1 L655.5,288.3 L655.0,288.5 L654.5,288.6 L654.0,288.8 L653.5,288.9 L653.0,289.1 L652.5,289.3 L652.0,289.4 L651.6,289.6 L651.1,289.8 L650.6,290.0 L650.1,290.1 L649.6,290.3 L649.1,290.5 L648.6,290.7 L648.2,290.9 L647.7,291.1 L647.2,291.3 L646.7,291.5 L646.3,291.7 L645.8,291.9 L645.3,292.1 L644.9,292.3 L644.4,292.5 L643.9,292.7 L643.5,292.9 L643.0,293.1 L642.5,293.3 L642.1,293.5 L641.6,293.7 L641.2,293.9 L640.7,294.1 L640.3,294.3 L639.8,294.5 L639.4,294.7 L638.9,294.9 L638.4,295.2 L638.0,295.4 L637.5,295.6 L637.0,295.8 L636.6,296.0 L636.1,296.2 L635.7,296.4 L635.2,296.6 L634.7,296.9 L634.3,297.1 L633.8,297.3 L633.4,297.5 L632.9,297.7 L632.4,298.0 L632.0,298.2 L631.5,298.4 L631.1,298.6 L630.6,298.9 L630.2,299.1 L629.7,299.3 L629.3,299.6 L628.8,299.8 L628.4,300.0 L627.9,300.3 L627.5,300.5 L627.0,300.7 L626.6,301.0 L626.1,301.2 L625.7,301.4 L625.2,301.7 L624.8,301.9 L624.3,302.2 L623.9,302.4 L623.4,302.6 L623.0,302.9 L622.6,303.1 L622.1,303.4 L621.7,303.6 L621.2,303.9 L620.8,304.1 L620.3,304.4 L619.9,304.6 L619.5,304.8 L619.0,305.1 L618.6,305.4 L618.1,305.6 L617.7,305.9 L617.2,306.1 L616.8,306.4 L616.4,306.6 L615.9,306.9 L615.5,307.2 L615.0,307.4 L614.6,307.7 L614.2,308.0 L613.7,308.3 L613.3,308.5 L612.9,308.8 L612.5,309.1 L612.0,309.4 L611.6,309.6 L611.2,309.9 L610.7,310.2 L610.3,310.5 L609.9,310.7 L609.5,311.0 L609.1,311.3 L608.6,311.6 L608.2,311.8 L607.8,312.1 L607.4,312.4 L607.0,312.7 L606.5,313.0 L606.1,313.2 L605.7,313.5 L605.3,313.8 L604.9,314.1 L604.5,314.4 L604.1,314.6 L603.6,314.9 L603.2,315.2 L602.8,315.5 L602.4,315.7 L602.0,316.0Z" fill="#fff" stroke="none"/>
<path d="M606.0,322.0 L606.8,321.4 L607.7,320.8 L608.5,320.3 L609.3,319.7 L610.1,319.1 L611.0,318.6 L611.8,318.0 L612.6,317.4 L613.4,316.9 L614.2,316.3 L615.0,315.8 L615.9,315.2 L616.7,314.7 L617.5,314.1 L618.3,313.6 L619.1,313.1 L620.0,312.6 L620.8,312.0 L621.6,311.5 L622.5,311.0 L623.3,310.5 L624.2,310.0 L625.0,309.5 L625.9,309.0 L626.7,308.6 L627.6,308.1 L628.5,307.6 L629.3,307.1 L630.2,306.6 L631.0,306.2 L631.9,305.7 L632.8,305.2 L633.7,304.8 L634.5,304.3 L635.4,303.9 L636.3,303.4 L637.2,303.0 L638.0,302.5 L638.9,302.1 L639.8,301.7 L640.7,301.3 L641.6,300.8 L642.5,300.4 L643.4,300.0 L644.3,299.6 L645.2,299.1 L646.1,298.7 L647.0,298.3 L647.9,297.9 L648.8,297.5 L649.7,297.1 L650.6,296.7 L651.5,296.3 L652.4,296.0 L653.3,295.6 L654.1,295.3 L655.1,295.0 L656.0,294.7 L656.9,294.4 L657.8,294.1 L658.7,293.8 L659.6,293.6 L660.6,293.3 L661.5,293.1 L662.4,292.9 L663.4,292.6 L664.3,292.4 L665.3,292.3 L666.2,292.1 L667.2,291.9 L668.1,291.7 L669.1,291.6 L670.1,291.4 L671.1,291.2 L672.0,291.1 L673.0,290.9 L674.0,290.8 L675.0,290.7 L675.9,290.5 L676.9,290.4 L677.9,290.3 L678.9,290.1 L679.9,290.0 L680.9,289.9 L681.8,289.8 L682.8,289.7 L683.8,289.5 L684.8,289.4 L685.8,289.3 L686.8,289.2 L687.8,289.1 L688.8,289.0 L689.8,288.9 L690.7,288.8 L691.7,288.6 L692.7,288.5 L693.7,288.4 L694.7,288.3 L695.7,288.3 L696.6,288.2 L697.6,288.1 L698.6,288.0 L699.6,287.9 L700.6,287.9 L701.6,287.8 L702.6,287.7 L703.5,287.7 L704.5,287.6 L705.5,287.6 L706.5,287.5 L707.5,287.5 L708.5,287.4 L709.5,287.4 L710.5,287.3 L711.5,287.3 L712.5,287.3 L713.5,287.2 L714.5,287.2 L715.5,287.1 L716.5,287.1 L717.5,287.0 L718.5,287.0 L719.5,286.9 L720.5,286.9 L721.5,286.9 L722.4,286.8 L723.4,286.8 L724.4,286.8 L725.4,286.8 L726.4,286.7 L727.4,286.7 L728.4,286.7 L729.4,286.7 L730.4,286.6 L731.4,286.6" fill="none" stroke="#000" stroke-width="1.60" stroke-linejoin="round"/>
<path d="M602.0,316.0 L602.8,315.5 L603.6,314.9 L604.5,314.4 L605.3,313.8 L606.1,313.2 L607.0,312.7 L607.8,312.1 L608.6,311.6 L609.5,311.0 L610.3,310.5 L611.2,309.9 L612.0,309.4 L612.9,308.8 L613.7,308.3 L614.6,307.7 L615.5,307.2 L616.4,306.6 L617.2,306.1 L618.1,305.6 L619.0,305.1 L619.9,304.6 L620.8,304.1 L621.7,303.6 L622.6,303.1 L623.4,302.6 L624.3,302.2 L625.2,301.7 L626.1,301.2 L627.0,300.7 L627.9,300.3 L628.8,299.8 L629.7,299.3 L630.6,298.9 L631.5,298.4 L632.4,298.0 L633.4,297.5 L634.3,297.1 L635.2,296.6 L636.1,296.2 L637.0,295.8 L638.0,295.4 L638.9,294.9 L639.8,294.5 L640.7,294.1 L641.6,293.7 L642.5,293.3 L643.5,292.9 L644.4,292.5 L645.3,292.1 L646.3,291.7 L647.2,291.3 L648.2,290.9 L649.1,290.5 L650.1,290.1 L651.1,289.8 L652.0,289.4 L653.0,289.1 L654.0,288.8 L655.0,288.5 L656.0,288.1 L657.0,287.9 L658.0,287.6 L659.0,287.3 L660.0,287.1 L661.0,286.8 L662.0,286.6 L663.1,286.4 L664.1,286.2 L665.1,286.0 L666.1,285.8 L667.1,285.6 L668.1,285.4 L669.1,285.3 L670.1,285.1 L671.1,285.0 L672.1,284.8 L673.1,284.7 L674.1,284.5 L675.1,284.4 L676.1,284.2 L677.1,284.1 L678.1,284.0 L679.1,283.9 L680.1,283.7 L681.1,283.6 L682.1,283.5 L683.1,283.4 L684.1,283.3 L685.1,283.1 L686.1,283.0 L687.1,282.9 L688.1,282.8 L689.1,282.7 L690.1,282.6 L691.1,282.5 L692.1,282.4 L693.1,282.3 L694.1,282.2 L695.1,282.1 L696.1,282.0 L697.1,281.9 L698.1,281.8 L699.1,281.8 L700.2,281.7 L701.2,281.6 L702.2,281.6 L703.2,281.5 L704.2,281.4 L705.2,281.4 L706.2,281.3 L707.2,281.3 L708.2,281.2 L709.2,281.2 L710.2,281.2 L711.2,281.1 L712.2,281.1 L713.2,281.0 L714.2,281.0 L715.2,280.9 L716.2,280.9 L717.2,280.8 L718.2,280.8 L719.2,280.8 L720.2,280.7 L721.2,280.7 L722.2,280.6 L723.3,280.6 L724.3,280.6 L725.3,280.6 L726.3,280.5 L727.3,280.5 L728.3,280.5 L729.3,280.5 L730.3,280.4 L731.3,280.4" fill="none" stroke="#000" stroke-width="1.60" stroke-linejoin="round"/>
<path d="M609.3,319.7 L608.6,311.6 M616.7,314.7 L616.4,306.6 M624.2,310.0 L624.3,302.2 M631.9,305.7 L632.4,298.0 M639.8,301.7 L640.7,294.1 M647.9,297.9 L649.1,290.5 M656.0,294.7 L658.0,287.6 M664.3,292.4 L667.1,285.6 M673.0,290.9 L676.1,284.2 M681.8,289.8 L685.1,283.1 M690.7,288.8 L694.1,282.2 M699.6,287.9 L703.2,281.5 M708.5,287.4 L712.2,281.1 M717.5,287.0 L721.2,280.7 M726.4,286.7 L730.3,280.4 " fill="none" stroke="#000" stroke-width="1.36"/>
<path d="M731.0,285.0 L731.2,284.7 L731.5,284.4 L731.8,283.9 L732.1,283.5 L732.5,283.0 L732.9,282.4 L733.3,281.9 L733.6,281.3 L734.0,280.7 L734.2,280.1 L734.4,279.6 L734.5,279.0 L734.5,278.4 L734.5,277.9 L734.4,277.3 L734.2,276.7 L734.1,276.1 L733.8,275.5 L733.6,274.9 L733.3,274.3 L733.0,273.7 L732.7,273.1 L732.3,272.6 L732.0,272.0 L731.6,271.5 L731.2,270.9 L730.7,270.4 L730.2,269.9 L729.7,269.4 L729.2,268.9 L728.6,268.4 L728.1,267.9 L727.5,267.4 L727.0,266.9 L726.5,266.5 L726.0,266.0 L725.5,265.5 L725.1,265.1 L724.6,264.7 L724.2,264.3 L723.7,263.8 L723.3,263.4 L722.9,263.0 L722.5,262.6 L722.1,262.2 L721.7,261.8 L721.3,261.4 L721.0,261.0 L720.7,260.6 L720.3,260.1 L720.0,259.6 L719.7,259.1 L719.5,258.7 L719.2,258.2 L718.9,257.7 L718.7,257.3 L718.5,256.9 L718.3,256.5 L718.1,256.2 L718.0,256.0" fill="none" stroke="#000" stroke-width="5.00" stroke-linecap="round" stroke-linejoin="round"/>
<path d="M695.0,315.2 L702.5,315.2 L704.8,328.0 L706.2,340.0 L702.5,349.0 L696.5,353.5 L689.0,360.2 L685.2,356.5 L694.2,349.8 L694.2,340.0 L692.0,328.0Z" fill="#fff" stroke="#000" stroke-width="1.90" stroke-linejoin="round"/>
<path d="M697.2,342.2 L702.5,342.2 L702.5,346.8 L697.2,346.8Z" fill="#fff" stroke="#000" stroke-width="1.20" stroke-linejoin="round"/>
<path d="M696.5,319.0 L696.6,319.4 L696.6,320.0 L696.7,320.7 L696.8,321.5 L696.9,322.3 L697.1,323.2 L697.2,324.1 L697.3,325.0 L697.5,325.9 L697.6,326.7 L697.8,327.4 L698.0,328.0 L698.2,328.5 L698.4,329.1 L698.7,329.5 L699.0,330.0 L699.3,330.4 L699.6,330.8 L699.9,331.2 L700.2,331.5 L700.4,331.8 L700.7,332.1 L700.9,332.3 L701.0,332.5" fill="none" stroke="#000" stroke-width="1.20" stroke-linecap="round" stroke-linejoin="round"/>
<path d="M658.1,355.0 L658.6,354.7 L659.1,354.3 L659.7,353.8 L660.4,353.2 L661.2,352.6 L662.0,352.0 L662.9,351.3 L663.8,350.7 L664.7,350.0 L665.6,349.4 L666.6,348.7 L667.5,348.1 L668.4,347.5 L669.5,347.0 L670.5,346.4 L671.6,345.8 L672.7,345.2 L673.9,344.6 L675.0,344.0 L676.1,343.4 L677.1,342.9 L678.2,342.3 L679.1,341.8 L680.0,341.2 L680.8,340.7 L681.6,340.3 L682.4,339.8 L683.1,339.4 L683.8,338.9 L684.5,338.5 L685.2,338.1 L685.8,337.6 L686.3,337.2 L686.8,336.7 L687.3,336.2 L687.8,335.6 L688.1,335.0 L688.5,334.4 L688.7,333.7 L688.9,333.0 L689.1,332.3 L689.3,331.6 L689.4,330.9 L689.5,330.2 L689.6,329.5 L689.7,328.8 L689.9,328.1 L690.0,327.5 L690.1,326.9 L690.2,326.3 L690.3,325.8 L690.4,325.2 L690.5,324.7 L690.5,324.2 L690.6,323.7 L690.7,323.2 L690.8,322.7 L690.9,322.2 L691.1,321.7 L691.2,321.2 L691.5,320.8 L691.8,320.3 L692.1,319.8 L692.5,319.3 L692.8,318.8 L693.2,318.4 L693.6,317.9 L693.9,317.5 L694.3,317.1 L694.6,316.8 L694.8,316.5 L695.0,316.2" fill="none" stroke="#000" stroke-width="2.60" stroke-linecap="round" stroke-linejoin="round"/>
<path d="M686.8,376.8 L686.9,376.3 L687.1,375.8 L687.4,375.2 L687.6,374.6 L687.9,373.9 L688.2,373.1 L688.6,372.3 L688.9,371.5 L689.3,370.7 L689.7,369.9 L690.1,369.2 L690.5,368.5 L690.9,367.8 L691.3,367.2 L691.7,366.5 L692.2,365.8 L692.6,365.2 L693.1,364.5 L693.6,363.9 L694.1,363.2 L694.6,362.6 L695.2,362.1 L695.8,361.5 L696.5,361.0 L697.2,360.5 L698.0,360.0 L698.8,359.6 L699.7,359.1 L700.6,358.7 L701.6,358.3 L702.5,357.9 L703.4,357.6 L704.4,357.3 L705.3,357.1 L706.2,356.9 L707.0,356.8 L707.8,356.7 L708.6,356.7 L709.4,356.8 L710.2,356.8 L711.0,357.0 L711.7,357.1 L712.5,357.3 L713.2,357.6 L713.9,357.8 L714.6,358.1 L715.3,358.4 L716.0,358.8 L716.7,359.1 L717.3,359.6 L718.0,360.1 L718.7,360.7 L719.3,361.3 L719.9,361.9 L720.5,362.5 L721.1,363.0 L721.6,363.6 L722.0,364.1 L722.4,364.4 L722.8,364.8" fill="none" stroke="#000" stroke-width="2.60" stroke-linecap="round" stroke-linejoin="round"/>
<path d="M722.8,364.8 L727.2,364.0 L731.0,367.8 L730.2,372.2 L725.8,373.8 L722.8,370.0Z" fill="#000" stroke="#000" stroke-width="1.00" stroke-linejoin="round"/>
<path d="M725.0,367.8 L725.2,367.7 L725.5,367.6 L725.7,367.6 L725.9,367.5 L726.1,367.4 L726.4,367.4 L726.6,367.3 L726.8,367.2 L727.0,367.2 L727.2,367.1 L727.5,367.1 L727.7,367.0" fill="none" stroke="#fff" stroke-width="1.00" stroke-linecap="round" stroke-linejoin="round"/>
<path d="M688.2,377.5 L688.7,377.3 L689.2,377.1 L689.8,376.9 L690.4,376.6 L691.1,376.3 L691.9,376.0 L692.7,375.7 L693.5,375.4 L694.3,375.2 L695.1,374.9 L695.8,374.7 L696.5,374.5 L697.1,374.4 L697.8,374.2 L698.4,374.1 L699.0,374.0 L699.6,373.9 L700.2,373.8 L700.8,373.8 L701.4,373.8 L702.0,373.7 L702.7,373.7 L703.3,373.7 L704.0,373.8 L704.7,373.8 L705.4,373.9 L706.2,373.9 L706.9,374.0 L707.7,374.1 L708.5,374.3 L709.3,374.4 L710.1,374.6 L710.8,374.7 L711.6,374.9 L712.3,375.1 L713.0,375.2 L713.7,375.5 L714.4,375.7 L715.2,376.0 L715.9,376.2 L716.6,376.5 L717.3,376.8 L718.0,377.1 L718.6,377.4 L719.2,377.7 L719.7,377.9 L720.1,378.1 L720.5,378.2" fill="none" stroke="#000" stroke-width="2.60" stroke-linecap="round" stroke-linejoin="round"/>
<path d="M720.5,378.2 L721.1,378.7 L721.8,379.3 L722.6,379.9 L723.5,380.7 L724.5,381.5 L725.6,382.4 L726.7,383.3 L727.8,384.2 L729.0,385.2 L730.2,386.1 L731.4,387.1 L732.5,388.0 L733.7,388.9 L734.9,389.9 L736.1,390.9 L737.4,392.0 L738.8,393.0 L740.1,394.1 L741.4,395.2 L742.7,396.2 L744.0,397.2 L745.2,398.2 L746.4,399.1 L747.5,400.0 L748.6,400.8 L749.6,401.7 L750.7,402.5 L751.7,403.3 L752.7,404.1 L753.7,404.9 L754.6,405.6 L755.4,406.2 L756.2,406.9 L756.9,407.4 L757.5,407.9 L758.0,408.2" fill="none" stroke="#000" stroke-width="3.60" stroke-linecap="round" stroke-linejoin="round"/>
<path d="M721.2,379.0 L721.8,379.4 L722.4,379.9 L723.2,380.5 L724.0,381.2 L725.0,382.0 L725.9,382.8 L727.0,383.6 L728.1,384.4 L729.2,385.3 L730.3,386.2 L731.4,387.1 L732.5,388.0 L733.6,388.9 L734.8,389.9 L736.1,390.9 L737.4,391.9 L738.8,393.0 L740.1,394.1 L741.4,395.2 L742.8,396.2 L744.0,397.2 L745.3,398.2 L746.4,399.1 L747.5,400.0 L748.5,400.8 L749.5,401.6 L750.5,402.4 L751.5,403.1 L752.4,403.8 L753.3,404.5 L754.1,405.1 L754.9,405.7 L755.6,406.3 L756.2,406.7 L756.8,407.2 L757.2,407.5" fill="none" stroke="#fff" stroke-width="1.00" stroke-linecap="round" stroke-linejoin="round"/>
<path d="M721.2,379.0 L721.8,379.4 L722.4,379.9 L723.2,380.5 L724.0,381.2 L725.0,382.0 L725.9,382.8 L727.0,383.6 L728.1,384.4 L729.2,385.3 L730.3,386.2 L731.4,387.1 L732.5,388.0 L733.6,388.9 L734.8,389.9 L736.1,390.9 L737.4,391.9 L738.8,393.0 L740.1,394.1 L741.4,395.2 L742.8,396.2 L744.0,397.2 L745.3,398.2 L746.4,399.1 L747.5,400.0 L748.5,400.8 L749.5,401.6 L750.5,402.4 L751.5,403.1 L752.4,403.8 L753.3,404.5 L754.1,405.1 L754.9,405.7 L755.6,406.3 L756.2,406.7 L756.8,407.2 L757.2,407.5" fill="none" stroke="#000" stroke-width="1" stroke-dasharray="1 2.2"/>
<path d="M758.0,408.2 L758.3,408.4 L758.6,408.7 L759.0,409.0 L759.5,409.3 L760.0,409.7 L760.5,410.1 L761.1,410.4 L761.7,410.8 L762.3,411.2 L762.8,411.5 L763.4,411.8 L764.0,412.0 L764.6,412.2 L765.2,412.4 L765.8,412.5 L766.4,412.6 L767.0,412.7 L767.6,412.8 L768.2,412.9 L768.9,413.0 L769.5,413.0 L770.2,413.1 L770.8,413.2 L771.5,413.2 L772.2,413.3 L772.9,413.3 L773.6,413.4 L774.4,413.4 L775.1,413.5 L775.9,413.5 L776.6,413.6 L777.3,413.6 L778.0,413.5 L778.6,413.5 L779.2,413.4 L779.8,413.2 L780.2,413.0 L780.7,412.8 L781.1,412.5 L781.5,412.2 L781.8,411.8 L782.2,411.4 L782.4,411.0 L782.7,410.6 L782.9,410.2 L783.0,409.8 L783.1,409.4 L783.2,409.0 L783.2,408.6 L783.1,408.2 L783.0,407.7 L782.9,407.3 L782.7,406.8 L782.4,406.4 L782.2,405.9 L781.9,405.5 L781.6,405.0 L781.2,404.6 L780.9,404.2 L780.5,403.8 L780.1,403.3 L779.7,402.9 L779.2,402.5 L778.7,402.1 L778.2,401.7 L777.6,401.3 L777.1,400.9 L776.5,400.6 L776.0,400.2 L775.5,399.9 L775.0,399.6 L774.5,399.2 L774.1,399.0 L773.6,398.7 L773.2,398.4 L772.7,398.2 L772.3,397.9 L771.9,397.7 L771.5,397.5 L771.1,397.3 L770.8,397.1 L770.5,397.0 L770.2,396.8 L770.0,396.7" fill="none" stroke="#000" stroke-width="2.20" stroke-linecap="round" stroke-linejoin="round"/>
<path d="M762.8,396.2 L766.2,392.8 L770.8,394.0 L772.7,398.5 L770.0,402.2 L765.5,401.8 L763.2,400.0Z" fill="#fff" stroke="#000" stroke-width="1.60" stroke-linejoin="round"/>
<path d="M766.2,398.5 L766.6,398.6 L766.9,398.8 L767.2,398.9 L767.5,399.0 L767.8,399.1 L768.1,399.2 L768.4,399.4 L768.8,399.5 L769.1,399.6 L769.4,399.8 L769.7,399.9 L770.0,400.0" fill="none" stroke="#000" stroke-width="1.20" stroke-linecap="round" stroke-linejoin="round"/>
<path d="M709.2,410.2 L717.5,407.5 L726.5,410.2 L729.5,417.2 L727.2,424.0 L720.5,428.2 L712.2,424.8 L707.8,417.2Z" fill="#fff" stroke="#000" stroke-width="1.80" stroke-linejoin="round"/>
<path d="M710.0,413.5 L715.2,412.0 L719.3,419.5 L718.2,426.2 L712.2,424.0 L708.8,418.0Z" fill="#000" stroke="#000" stroke-width="1.00" stroke-linejoin="round"/>
<path d="M712.2,418.0 L712.6,418.3 L712.9,418.6 L713.2,418.9 L713.5,419.2 L713.8,419.6 L714.1,419.9 L714.4,420.2 L714.8,420.5 L715.1,420.8 L715.4,421.1 L715.7,421.4 L716.0,421.8" fill="none" stroke="#fff" stroke-width="1.20" stroke-linecap="round" stroke-linejoin="round"/>
<path d="M719.3,415.0 L719.6,414.9 L720.0,414.8 L720.4,414.6 L720.9,414.3 L721.4,414.1 L722.0,413.9 L722.5,413.7 L723.1,413.5 L723.7,413.4 L724.2,413.3 L724.6,413.4 L725.0,413.5 L725.3,413.8 L725.7,414.1 L725.9,414.6 L726.2,415.2 L726.5,415.8 L726.7,416.4 L726.9,417.0 L727.1,417.7 L727.3,418.2 L727.4,418.8 L727.6,419.2 L727.7,419.5" fill="none" stroke="#000" stroke-width="1.20" stroke-linecap="round" stroke-linejoin="round"/>
<g transform="translate(746.4,381.6) rotate(33)"><rect x="-11.5" y="-2.3" width="23" height="4.6" rx="1.2" fill="#fff" stroke="#000" stroke-width="1.2"/><path d="M-7.5,-2.3 v4.6 M7.5,-2.3 v4.6 M-5,0 h9" stroke="#000" stroke-width="1" fill="none"/></g>
<path d="M749.8,362.5 L764.8,354.2 L789.5,370.0 L788.8,373.8 L770.0,380.2 L749.8,367.8Z" fill="#fff" stroke="#000" stroke-width="1.60" stroke-linejoin="round"/>
<path d="M753.5,363.2 L764.8,356.8 L785.0,370.0 L773.0,376.0Z" fill="#000" stroke="#000" stroke-width="1.00" stroke-linejoin="round"/>
<path d="M758.0,362.8 L776.0,374.2" fill="none" stroke="#fff" stroke-width="1.20" stroke-linecap="round" stroke-linejoin="round"/>
<path d="M762.2,360.7 L780.2,372.1" fill="none" stroke="#fff" stroke-width="1.20" stroke-linecap="round" stroke-linejoin="round"/>
<path d="M766.2,358.8 L783.5,370.3" fill="none" stroke="#fff" stroke-width="1.20" stroke-linecap="round" stroke-linejoin="round"/>
<path d="M749.8,367.8 L770.0,376.0 L770.0,380.2" fill="none" stroke="#000" stroke-width="1.20" stroke-linecap="round" stroke-linejoin="round"/>
<path d="M770.0,376.0 L788.8,370.0" fill="none" stroke="#000" stroke-width="1.20" stroke-linecap="round" stroke-linejoin="round"/>
<path d="M755.0,366.2 L755.0,370.0 L761.0,369.2 L761.0,373.0 L766.2,373.0 L766.2,376.8" fill="none" stroke="#000" stroke-width="1.50" stroke-linecap="round" stroke-linejoin="round"/>
<path d="M776.0,374.5 L776.0,378.2 L780.5,373.0 L780.5,376.8" fill="none" stroke="#000" stroke-width="1.50" stroke-linecap="round" stroke-linejoin="round"/>
<path d="M576.2,406.2 L585.0,403.8 L595.0,402.5 L605.5,412.0 L605.0,420.0 L592.5,423.0 L582.5,420.0 L575.5,418.0Z" fill="#fff" stroke="#000" stroke-width="1.70" stroke-linejoin="round"/>
<path d="M576.2,406.2 L583.8,405.0 L585.0,418.8 L575.5,418.0Z" fill="#000" stroke="#000" stroke-width="1.00" stroke-linejoin="round"/>
<path d="M583.8,405.0 L595.0,403.0 L598.8,407.5 L587.0,410.5Z" fill="#000" stroke="#000" stroke-width="1.00" stroke-linejoin="round"/>
<path d="M587.0,410.5 L605.0,412.5" fill="none" stroke="#000" stroke-width="1.20" stroke-linecap="round" stroke-linejoin="round"/>
<path d="M587.0,410.5 L587.0,420.0" fill="none" stroke="#000" stroke-width="1.20" stroke-linecap="round" stroke-linejoin="round"/>
<path d="M592.5,415.0 L601.2,414.5 L601.2,418.8 L592.5,419.5Z" fill="#fff" stroke="#000" stroke-width="1.10" stroke-linejoin="round"/>
<path d="M596.8,414.8 L596.8,419.0" fill="none" stroke="#000" stroke-width="1.00" stroke-linecap="round" stroke-linejoin="round"/>
<path d="M294.4,339.6 L294.7,340.1 L295.0,340.7 L295.4,341.4 L295.8,342.2 L296.2,343.1 L296.7,344.1 L297.2,345.0 L297.7,346.0 L298.2,347.0 L298.7,347.9 L299.1,348.9 L299.5,349.8 L299.9,350.6 L300.2,351.4 L300.6,352.2 L300.9,353.0 L301.3,353.9 L301.6,354.7 L301.9,355.5 L302.3,356.3 L302.6,357.2 L302.9,358.1 L303.2,359.0 L303.4,359.9 L303.7,360.8 L304.0,361.8 L304.2,362.8 L304.5,363.8 L304.7,364.8 L304.9,365.9 L305.1,366.9 L305.3,368.0 L305.5,369.0 L305.7,370.1 L305.9,371.2 L306.0,372.2 L306.2,373.3 L306.3,374.4 L306.4,375.6 L306.4,376.7 L306.5,377.9 L306.6,379.0 L306.6,380.1 L306.6,381.3 L306.7,382.4 L306.7,383.6 L306.8,384.7 L306.8,385.8 L306.9,386.9 L306.9,388.0 L306.9,389.2 L307.0,390.4 L307.0,391.6 L307.0,392.8 L307.1,393.9 L307.1,395.0 L307.1,395.9 L307.1,396.8 L307.1,397.5 L307.1,398.1" fill="none" stroke="#000" stroke-width="2.80" stroke-linecap="round" stroke-linejoin="round"/>
<path d="M295.6,343.0 L295.8,343.4 L296.1,343.9 L296.4,344.5 L296.8,345.1 L297.2,345.9 L297.6,346.6 L298.0,347.4 L298.5,348.2 L298.9,349.1 L299.3,349.9 L299.7,350.7 L300.1,351.4 L300.4,352.2 L300.8,353.1 L301.1,354.0 L301.5,354.9 L301.9,355.8 L302.2,356.7 L302.5,357.6 L302.8,358.5 L303.1,359.3 L303.4,359.9 L303.6,360.5 L303.8,361.0" fill="none" stroke="#fff" stroke-width="0.80" stroke-linecap="round" stroke-linejoin="round"/>
<path d="M291.4,332.6 L296.7,332.2 L297.8,337.4 L296.4,341.9 L292.8,341.3 L291.2,337.4Z" fill="#000" stroke="#000" stroke-width="1.00" stroke-linejoin="round"/>
<path d="M293.1,334.6 L295.6,334.6 L295.9,336.8 L293.3,337.1Z" fill="#fff" stroke="#000" stroke-width="0.50" stroke-linejoin="round"/>
<path d="M275.9,381.8 L276.4,382.0 L277.1,382.3 L277.9,382.6 L278.8,382.9 L279.8,383.3 L280.9,383.7 L281.9,384.1 L283.0,384.5 L284.1,385.0 L285.2,385.4 L286.2,385.9 L287.1,386.3 L288.0,386.8 L288.9,387.3 L289.8,387.8 L290.7,388.3 L291.5,388.8 L292.4,389.3 L293.2,389.9 L294.1,390.4 L294.9,391.0 L295.7,391.5 L296.5,392.0 L297.2,392.5 L298.0,393.0 L298.8,393.5 L299.6,394.1 L300.3,394.6 L301.1,395.2 L301.8,395.7 L302.5,396.2 L303.2,396.7 L303.8,397.1 L304.3,397.5 L304.8,397.9 L305.1,398.1" fill="none" stroke="#000" stroke-width="2.40" stroke-linecap="round" stroke-linejoin="round"/>
<path d="M282.6,391.1 L283.1,391.3 L283.7,391.4 L284.4,391.5 L285.2,391.7 L286.1,391.9 L287.0,392.1 L287.9,392.3 L288.9,392.5 L289.9,392.8 L290.9,393.0 L291.8,393.3 L292.8,393.6 L293.7,394.0 L294.7,394.4 L295.7,394.8 L296.8,395.3 L297.9,395.8 L299.0,396.3 L300.1,396.8 L301.0,397.3 L302.0,397.7 L302.8,398.1 L303.5,398.4 L304.0,398.7" fill="none" stroke="#000" stroke-width="2.40" stroke-linecap="round" stroke-linejoin="round"/>
<g transform="translate(266.5,378.5) rotate(20)"><rect x="-11.5" y="-2.6" width="23" height="5.2" rx="2.2" fill="#fff" stroke="#000" stroke-width="1.5"/><path d="M6,-2.6 v5.2" stroke="#000" stroke-width="1.2"/></g>
<g transform="translate(271.5,389.6) rotate(8)"><rect x="-12" y="-2.6" width="24" height="5.2" rx="2.2" fill="#fff" stroke="#000" stroke-width="1.5"/><path d="M7,-2.6 v5.2" stroke="#000" stroke-width="1.2"/></g>
<path d="M310.1,402.9 L310.5,402.7 L311.0,402.6 L311.5,402.4 L311.9,402.2 L312.4,402.1 L312.9,401.9 L313.4,401.7 L313.8,401.5 L314.3,401.4 L314.8,401.2 L315.3,401.0 L315.8,400.8 L316.2,400.6 L316.7,400.4 L317.2,400.2 L317.7,400.0 L318.2,399.8 L318.7,399.6 L319.2,399.4 L319.7,399.1 L320.2,398.9 L320.7,398.6 L321.1,398.4 L321.6,398.1 L322.1,397.8 L322.5,397.6 L323.0,397.3 L323.4,397.0 L323.8,396.8 L324.2,396.5 L324.7,396.3 L325.1,396.0 L325.5,395.8 L325.9,395.5 L326.3,395.3 L326.7,395.1 L327.1,394.8 L327.5,394.6 L327.9,394.4 L328.3,394.2 L328.7,394.1 L329.1,393.9 L329.5,393.7 L329.9,393.6 L330.4,393.4 L330.8,393.3 L331.2,393.1 L331.7,393.0 L332.1,392.9 L332.5,392.7 L333.0,392.6 L333.4,392.5 L333.9,392.4 L334.3,392.3 L334.8,392.2 L335.2,392.1 L335.7,392.0 L336.2,391.9 L336.6,391.9 L337.1,391.8 L337.6,391.7 L338.0,391.6 L338.5,391.6 L338.9,391.5 L339.4,391.5 L339.9,391.4 L340.3,391.4 L340.8,391.3 L341.3,391.3 L341.7,391.3 L342.2,391.3 L342.7,391.2 L343.2,391.2 L343.7,391.2 L344.1,391.2 L344.6,391.2 L345.1,391.2 L345.6,391.2 L346.1,391.2 L346.6,391.1 L347.1,391.1 L347.6,391.1 L348.1,391.1 L348.6,391.1 L348.5,384.9 L348.0,384.9 L347.5,384.9 L347.0,384.9 L346.5,384.9 L346.0,385.0 L345.5,385.0 L345.0,385.0 L344.5,385.0 L344.0,385.0 L343.5,385.0 L343.0,385.0 L342.4,385.0 L341.9,385.1 L341.4,385.1 L340.9,385.1 L340.4,385.2 L339.8,385.2 L339.3,385.2 L338.8,385.3 L338.2,385.3 L337.7,385.4 L337.1,385.5 L336.6,385.6 L336.1,385.7 L335.6,385.7 L335.1,385.8 L334.5,385.9 L334.0,386.0 L333.5,386.1 L333.0,386.2 L332.5,386.4 L331.9,386.5 L331.4,386.6 L330.9,386.8 L330.4,386.9 L329.8,387.1 L329.3,387.2 L328.8,387.4 L328.3,387.6 L327.8,387.8 L327.3,388.0 L326.7,388.2 L326.2,388.4 L325.7,388.6 L325.2,388.9 L324.7,389.1 L324.2,389.4 L323.7,389.6 L323.3,389.9 L322.8,390.2 L322.4,390.4 L321.9,390.7 L321.5,391.0 L321.0,391.2 L320.6,391.5 L320.2,391.7 L319.8,392.0 L319.4,392.2 L318.9,392.5 L318.5,392.7 L318.1,392.9 L317.7,393.2 L317.3,393.4 L316.9,393.6 L316.5,393.8 L316.1,394.0 L315.7,394.1 L315.3,394.3 L314.8,394.5 L314.4,394.7 L314.0,394.9 L313.5,395.0 L313.1,395.2 L312.6,395.4 L312.1,395.6 L311.7,395.7 L311.2,395.9 L310.8,396.1 L310.3,396.2 L309.8,396.4 L309.4,396.6 L308.9,396.7 L308.4,396.9 L307.9,397.1Z" fill="#fff" stroke="none"/>
<path d="M310.1,402.9 L311.0,402.6 L311.9,402.2 L312.9,401.9 L313.8,401.5 L314.8,401.2 L315.8,400.8 L316.7,400.4 L317.7,400.0 L318.7,399.6 L319.7,399.1 L320.7,398.6 L321.6,398.1 L322.5,397.6 L323.4,397.0 L324.2,396.5 L325.1,396.0 L325.9,395.5 L326.7,395.1 L327.5,394.6 L328.3,394.2 L329.1,393.9 L329.9,393.6 L330.8,393.3 L331.7,393.0 L332.5,392.7 L333.4,392.5 L334.3,392.3 L335.2,392.1 L336.2,391.9 L337.1,391.8 L338.0,391.6 L338.9,391.5 L339.9,391.4 L340.8,391.3 L341.7,391.3 L342.7,391.2 L343.7,391.2 L344.6,391.2 L345.6,391.2 L346.6,391.1 L347.6,391.1 L348.6,391.1" fill="none" stroke="#000" stroke-width="1.60" stroke-linejoin="round"/>
<path d="M307.9,397.1 L308.9,396.7 L309.8,396.4 L310.8,396.1 L311.7,395.7 L312.6,395.4 L313.5,395.0 L314.4,394.7 L315.3,394.3 L316.1,394.0 L316.9,393.6 L317.7,393.2 L318.5,392.7 L319.4,392.2 L320.2,391.7 L321.0,391.2 L321.9,390.7 L322.8,390.2 L323.7,389.6 L324.7,389.1 L325.7,388.6 L326.7,388.2 L327.8,387.8 L328.8,387.4 L329.8,387.1 L330.9,386.8 L331.9,386.5 L333.0,386.2 L334.0,386.0 L335.1,385.8 L336.1,385.7 L337.1,385.5 L338.2,385.3 L339.3,385.2 L340.4,385.2 L341.4,385.1 L342.4,385.0 L343.5,385.0 L344.5,385.0 L345.5,385.0 L346.5,384.9 L347.5,384.9 L348.5,384.9" fill="none" stroke="#000" stroke-width="1.60" stroke-linejoin="round"/>
<path d="M310.1,402.9 L311.7,395.7 M317.7,400.0 L318.5,392.7 M325.1,396.0 L325.7,388.6 M331.7,393.0 L334.0,386.0 M338.9,391.5 L342.4,385.0 M346.6,391.1 L348.5,384.9 " fill="none" stroke="#000" stroke-width="1.36"/>
<path d="M353.2,386.5 L353.1,386.0 L353.0,385.5 L352.9,385.0 L352.8,384.5 L352.7,384.0 L352.6,383.5 L352.5,383.0 L352.4,382.6 L352.3,382.1 L352.2,381.6 L352.1,381.1 L352.0,380.7 L352.0,380.2 L351.9,379.7 L351.8,379.3 L351.8,378.8 L351.7,378.4 L351.7,378.0 L351.7,377.5 L351.7,377.1 L351.7,376.7 L351.7,376.3 L351.7,376.0 L351.8,375.6 L351.9,375.2 L351.9,374.8 L352.0,374.4 L352.2,374.0 L352.3,373.6 L352.4,373.2 L352.6,372.8 L352.8,372.4 L352.9,372.0 L353.1,371.6 L353.3,371.1 L353.5,370.7 L353.7,370.3 L354.0,369.9 L354.2,369.5 L354.4,369.1 L354.7,368.7 L354.9,368.3 L355.1,367.9 L355.3,367.5 L355.6,367.2 L355.9,366.8 L356.1,366.5 L356.4,366.1 L356.7,365.7 L357.0,365.4 L357.3,365.0 L357.6,364.6 L357.9,364.3 L358.2,363.9 L358.6,363.5 L358.9,363.2 L359.2,362.8 L359.6,362.4 L359.9,362.0 L360.2,361.7 L356.2,358.1 L355.8,358.5 L355.5,358.8 L355.2,359.2 L354.8,359.6 L354.5,360.0 L354.2,360.4 L353.8,360.7 L353.5,361.1 L353.2,361.5 L352.8,361.9 L352.5,362.3 L352.2,362.8 L351.8,363.2 L351.5,363.6 L351.2,364.1 L350.9,364.5 L350.6,365.0 L350.3,365.5 L350.0,366.0 L349.7,366.4 L349.5,366.9 L349.2,367.3 L349.0,367.8 L348.7,368.3 L348.5,368.8 L348.2,369.3 L348.0,369.8 L347.8,370.3 L347.6,370.8 L347.4,371.3 L347.2,371.9 L347.0,372.4 L346.8,373.0 L346.7,373.5 L346.6,374.1 L346.5,374.7 L346.4,375.3 L346.3,375.9 L346.3,376.5 L346.3,377.1 L346.3,377.7 L346.3,378.3 L346.4,378.9 L346.4,379.4 L346.5,380.0 L346.5,380.5 L346.6,381.0 L346.7,381.5 L346.8,382.1 L346.9,382.6 L347.0,383.1 L347.1,383.6 L347.2,384.1 L347.3,384.6 L347.4,385.1 L347.5,385.6 L347.6,386.1 L347.7,386.5 L347.8,387.0 L347.8,387.5Z" fill="#fff" stroke="none"/>
<path d="M353.2,386.5 L353.0,385.5 L352.8,384.5 L352.6,383.5 L352.4,382.6 L352.2,381.6 L352.0,380.7 L351.9,379.7 L351.8,378.8 L351.7,378.0 L351.7,377.1 L351.7,376.3 L351.8,375.6 L351.9,374.8 L352.2,374.0 L352.4,373.2 L352.8,372.4 L353.1,371.6 L353.5,370.7 L354.0,369.9 L354.4,369.1 L354.9,368.3 L355.3,367.5 L355.9,366.8 L356.4,366.1 L357.0,365.4 L357.6,364.6 L358.2,363.9 L358.9,363.2 L359.6,362.4 L360.2,361.7" fill="none" stroke="#000" stroke-width="1.60" stroke-linejoin="round"/>
<path d="M347.8,387.5 L347.7,386.5 L347.5,385.6 L347.3,384.6 L347.1,383.6 L346.9,382.6 L346.7,381.5 L346.5,380.5 L346.4,379.4 L346.3,378.3 L346.3,377.1 L346.3,375.9 L346.5,374.7 L346.7,373.5 L347.0,372.4 L347.4,371.3 L347.8,370.3 L348.2,369.3 L348.7,368.3 L349.2,367.3 L349.7,366.4 L350.3,365.5 L350.9,364.5 L351.5,363.6 L352.2,362.8 L352.8,361.9 L353.5,361.1 L354.2,360.4 L354.8,359.6 L355.5,358.8 L356.2,358.1" fill="none" stroke="#000" stroke-width="1.60" stroke-linejoin="round"/>
<path d="M353.2,386.5 L347.2,384.1 M351.8,378.8 L346.4,375.3 M352.8,372.4 L349.5,366.9 M356.4,366.1 L354.5,360.0 " fill="none" stroke="#000" stroke-width="1.36"/>
<path d="M354.5,392.1 L355.0,392.0 L355.5,392.0 L356.0,391.9 L356.5,391.8 L357.0,391.7 L357.5,391.6 L358.0,391.5 L358.5,391.4 L358.9,391.3 L359.4,391.2 L359.9,391.1 L360.4,391.0 L360.9,390.9 L361.4,390.8 L361.9,390.7 L362.4,390.6 L362.9,390.5 L363.4,390.4 L363.8,390.3 L364.3,390.2 L364.8,390.1 L365.3,390.0 L365.8,389.9 L366.3,389.8 L366.8,389.7 L367.3,389.6 L367.8,389.5 L368.3,389.4 L368.8,389.3 L369.3,389.2 L369.7,389.1 L370.2,389.0 L370.7,388.9 L371.2,388.8 L371.7,388.7 L372.1,388.6 L372.6,388.5 L373.1,388.4 L373.6,388.3 L374.0,388.2 L374.5,388.2 L375.0,388.1 L375.5,388.0 L375.9,388.0 L376.4,387.9 L376.9,387.8 L377.4,387.8 L377.9,387.7 L378.4,387.7 L378.8,387.6 L379.3,387.6 L379.8,387.5 L380.3,387.5 L380.8,387.4 L381.3,387.4 L381.8,387.3 L382.3,387.3 L382.8,387.2 L382.3,381.9 L381.8,381.9 L381.3,382.0 L380.8,382.0 L380.3,382.0 L379.8,382.1 L379.3,382.1 L378.8,382.2 L378.3,382.2 L377.8,382.3 L377.3,382.4 L376.8,382.4 L376.3,382.5 L375.7,382.5 L375.2,382.6 L374.7,382.7 L374.2,382.7 L373.7,382.8 L373.2,382.9 L372.7,383.0 L372.1,383.1 L371.6,383.2 L371.1,383.3 L370.6,383.4 L370.1,383.5 L369.6,383.6 L369.1,383.7 L368.6,383.8 L368.1,383.9 L367.7,384.0 L367.2,384.1 L366.7,384.2 L366.2,384.3 L365.7,384.4 L365.2,384.5 L364.7,384.6 L364.2,384.7 L363.8,384.8 L363.3,384.9 L362.8,385.0 L362.3,385.1 L361.8,385.2 L361.3,385.3 L360.8,385.4 L360.3,385.5 L359.8,385.6 L359.4,385.7 L358.9,385.8 L358.4,385.9 L357.9,386.0 L357.4,386.1 L356.9,386.2 L356.4,386.3 L355.9,386.4 L355.4,386.5 L354.9,386.6 L354.5,386.7 L354.0,386.8 L353.5,386.9Z" fill="#fff" stroke="none"/>
<path d="M354.5,392.1 L355.5,392.0 L356.5,391.8 L357.5,391.6 L358.5,391.4 L359.4,391.2 L360.4,391.0 L361.4,390.8 L362.4,390.6 L363.4,390.4 L364.3,390.2 L365.3,390.0 L366.3,389.8 L367.3,389.6 L368.3,389.4 L369.3,389.2 L370.2,389.0 L371.2,388.8 L372.1,388.6 L373.1,388.4 L374.0,388.2 L375.0,388.1 L375.9,388.0 L376.9,387.8 L377.9,387.7 L378.8,387.6 L379.8,387.5 L380.8,387.4 L381.8,387.3 L382.8,387.2" fill="none" stroke="#000" stroke-width="1.60" stroke-linejoin="round"/>
<path d="M353.5,386.9 L354.5,386.7 L355.4,386.5 L356.4,386.3 L357.4,386.1 L358.4,385.9 L359.4,385.7 L360.3,385.5 L361.3,385.3 L362.3,385.1 L363.3,384.9 L364.2,384.7 L365.2,384.5 L366.2,384.3 L367.2,384.1 L368.1,383.9 L369.1,383.7 L370.1,383.5 L371.1,383.3 L372.1,383.1 L373.2,382.9 L374.2,382.7 L375.2,382.6 L376.3,382.5 L377.3,382.4 L378.3,382.2 L379.3,382.1 L380.3,382.0 L381.3,382.0 L382.3,381.9" fill="none" stroke="#000" stroke-width="1.60" stroke-linejoin="round"/>
<path d="M354.5,392.1 L356.9,386.2 M362.4,390.6 L364.7,384.6 M370.2,389.0 L372.7,383.0 M377.9,387.7 L380.8,382.0 " fill="none" stroke="#000" stroke-width="1.36"/>
<path d="M356.5,352.5 L363.0,348.5 L367.5,344.2 L377.0,348.5 L377.8,354.0 L370.0,362.5 L363.0,360.0 L356.5,357.5Z" fill="#fff" stroke="#000" stroke-width="1.60" stroke-linejoin="round"/>
<path d="M356.5,352.5 L363.0,348.5 L370.0,352.5 L370.0,362.5 L363.0,360.0 L356.5,357.5Z" fill="#000" stroke="#000" stroke-width="1.00" stroke-linejoin="round"/>
<path d="M363.0,355.0 L368.5,358.0" fill="none" stroke="#fff" stroke-width="1.50" stroke-linecap="round" stroke-linejoin="round"/>
<path d="M367.5,344.2 L370.0,352.5 L377.0,348.5" fill="none" stroke="#000" stroke-width="1.20" stroke-linecap="round" stroke-linejoin="round"/>
<path d="M382.0,382.0 L384.5,377.0 L389.0,372.5 L395.0,375.0 L399.5,378.0 L399.0,384.0 L395.0,389.0 L386.0,390.5 L382.5,388.0Z" fill="#000" stroke="#000" stroke-width="1.00" stroke-linejoin="round"/>
<path d="M393.0,377.0 L397.5,379.0 L397.0,384.5 L393.0,386.0Z" fill="#fff" stroke="#000" stroke-width="0.60" stroke-linejoin="round"/>
<path d="M386.5,378.0 L386.5,388.0" fill="none" stroke="#fff" stroke-width="1.20" stroke-linecap="round" stroke-linejoin="round"/>
<path d="M386.5,378.0 L386.5,388.0" fill="none" stroke="#000" stroke-width="1.2" stroke-dasharray="1.2 1.2"/>
<path d="M389.0,377.0 L390.0,386.0" fill="none" stroke="#fff" stroke-width="1.10" stroke-linecap="round" stroke-linejoin="round"/>
<path d="M292.8,396.8 L310.8,397.4 L311.3,404.1 L292.8,403.0Z" fill="#000" stroke="#000" stroke-width="1.00" stroke-linejoin="round"/>
<path d="M294.4,403.0 L294.1,418.8" fill="none" stroke="#000" stroke-width="2.20" stroke-linecap="round" stroke-linejoin="round"/>
<path d="M299.5,403.0 L300.1,418.8" fill="none" stroke="#000" stroke-width="1.80" stroke-linecap="round" stroke-linejoin="round"/>
<path d="M305.1,403.0 L304.0,418.8" fill="none" stroke="#000" stroke-width="2.40" stroke-linecap="round" stroke-linejoin="round"/>
<path d="M310.2,403.6 L308.5,418.8" fill="none" stroke="#000" stroke-width="2.80" stroke-linecap="round" stroke-linejoin="round"/>
<path d="M293.9,410.9 L309.6,410.3" fill="none" stroke="#000" stroke-width="1.60" stroke-linecap="round" stroke-linejoin="round"/>
<path d="M295.0,416.5 L302.9,417.6" fill="none" stroke="#000" stroke-width="2.60" stroke-linecap="round" stroke-linejoin="round"/>
<path d="M264.1,404.7 L278.1,399.6 L288.8,401.9 L290.5,410.3 L286.2,415.6 L273.1,419.3 L266.9,414.5Z" fill="#fff" stroke="#000" stroke-width="1.70" stroke-linejoin="round"/>
<path d="M264.1,404.7 L278.1,399.6 L287.1,401.9 L273.6,407.5Z" fill="#000" stroke="#000" stroke-width="1.00" stroke-linejoin="round"/>
<path d="M269.1,404.4 L278.1,401.3" fill="none" stroke="#fff" stroke-width="1.20" stroke-linecap="round" stroke-linejoin="round"/>
<path d="M273.6,407.5 L286.2,405.2 L286.2,415.6" fill="none" stroke="#000" stroke-width="1.40" stroke-linecap="round" stroke-linejoin="round"/>
<path d="M273.6,407.5 L273.1,419.3" fill="none" stroke="#000" stroke-width="1.40" stroke-linecap="round" stroke-linejoin="round"/>
<path d="M266.9,407.5 L268.6,414.5" fill="none" stroke="#000" stroke-width="2.20" stroke-linecap="round" stroke-linejoin="round"/>
<path d="M287.1,423.8 L288.8,421.6 L302.9,418.8 L316.9,424.9 L318.4,434.5 L314.7,436.2 L310.8,434.5 L300.6,439.6 L287.1,430.6Z" fill="#fff" stroke="#000" stroke-width="1.70" stroke-linejoin="round"/>
<path d="M287.1,424.4 L300.6,430.9 L310.8,426.6" fill="none" stroke="#000" stroke-width="1.40" stroke-linecap="round" stroke-linejoin="round"/>
<path d="M300.6,430.9 L300.6,439.6" fill="none" stroke="#000" stroke-width="1.40" stroke-linecap="round" stroke-linejoin="round"/>
<path d="M310.8,426.6 L316.9,424.9 L318.4,434.5 L314.7,436.2 L311.3,430.0Z" fill="#000" stroke="#000" stroke-width="1.00" stroke-linejoin="round"/>
<path d="M313.0,428.9 L315.2,433.4" fill="none" stroke="#fff" stroke-width="1.10" stroke-linecap="round" stroke-linejoin="round"/>
<path d="M289.4,427.2 L292.2,428.9 L291.6,431.1 L294.4,432.2 L293.9,430.0 L296.7,431.1 L296.4,434.5 L298.9,435.6" fill="none" stroke="#000" stroke-width="1.30" stroke-linecap="round" stroke-linejoin="round"/>
<path d="M296.1,419.9 L302.9,418.8 L304.0,424.4 L298.4,425.5Z" fill="#000" stroke="#000" stroke-width="1.00" stroke-linejoin="round"/>
<path d="M347.6,488.8 L347.2,488.8 L346.6,488.9 L345.9,488.9 L345.2,488.9 L344.4,489.0 L343.6,489.0 L342.7,489.1 L341.8,489.1 L340.9,489.2 L340.0,489.2 L339.2,489.3 L338.4,489.4 L337.6,489.4 L337.0,489.5 L336.3,489.6 L335.6,489.7 L335.0,489.7 L334.4,489.8 L333.7,489.9 L333.0,490.0 L332.2,490.1 L331.3,490.3 L330.4,490.5 L329.4,490.7 L328.2,491.0 L326.9,491.3 L325.6,491.6 L324.1,492.0 L322.6,492.3 L321.0,492.7 L319.5,493.1 L318.0,493.5 L316.5,494.0 L315.0,494.4 L313.7,494.8 L312.5,495.2 L311.4,495.6 L310.3,496.1 L309.2,496.5 L308.2,496.9 L307.2,497.3 L306.3,497.7 L305.4,498.2 L304.6,498.7 L303.8,499.1 L303.1,499.6 L302.4,500.1 L301.8,500.6 L301.3,501.2 L300.8,501.7 L300.3,502.3 L299.9,502.9 L299.6,503.5 L299.3,504.1 L299.1,504.8 L298.9,505.4 L298.8,506.0 L298.7,506.7 L298.7,507.3 L298.8,507.9 L298.9,508.6 L299.2,509.3 L299.5,510.0 L299.9,510.7 L300.4,511.4 L300.9,512.1 L301.5,512.8 L302.0,513.4 L302.6,514.1 L303.1,514.7 L303.6,515.3 L304.1,515.8 L304.5,516.3 L305.0,516.8 L305.5,517.2 L306.0,517.6 L306.4,518.0 L306.9,518.4 L307.4,518.7 L307.8,519.0 L308.2,519.3 L308.6,519.6 L308.9,519.8 L309.1,520.0" fill="none" stroke="#000" stroke-width="3.20" stroke-linecap="round" stroke-linejoin="round"/>
<path d="M300.1,504.0 L300.1,504.2 L300.0,504.4 L299.8,504.7 L299.7,505.0 L299.6,505.4 L299.4,505.7 L299.3,506.1 L299.2,506.5 L299.1,506.9 L299.0,507.2 L299.0,507.6 L299.0,507.9 L299.1,508.3 L299.2,508.6 L299.4,509.0 L299.6,509.4 L299.8,509.8 L300.1,510.2 L300.3,510.5 L300.5,510.9 L300.8,511.2 L301.0,511.4 L301.1,511.7 L301.2,511.9" fill="none" stroke="#fff" stroke-width="0.90" stroke-linecap="round" stroke-linejoin="round"/>
<path d="M302.9,520.3 L306.9,517.5 L312.5,520.3 L313.6,528.8 L310.2,533.8 L303.5,529.9Z" fill="#000" stroke="#000" stroke-width="1.00" stroke-linejoin="round"/>
<path d="M304.6,524.2 L307.4,522.0 L311.4,527.6 L310.0,531.6 L305.2,528.8Z" fill="#fff" stroke="#000" stroke-width="0.60" stroke-linejoin="round"/>
<path d="M348.5,480.4 L348.5,488.8 L345.1,487.7 L337.2,481.5 L332.8,475.9 L339.5,471.9Z" fill="#000" stroke="#000" stroke-width="1.00" stroke-linejoin="round"/>
<path d="M319.5,469.7 L323.8,465.2 L328.8,463.3 L338.4,466.9 L340.1,472.5 L333.3,479.2 L331.1,482.1 L319.5,479.5Z" fill="#fff" stroke="#000" stroke-width="1.70" stroke-linejoin="round"/>
<path d="M323.8,465.2 L328.8,463.3 L338.4,466.9 L339.5,472.5 L333.3,475.9 L327.1,474.8 L323.8,470.2Z" fill="#000" stroke="#000" stroke-width="1.00" stroke-linejoin="round"/>
<path d="M319.5,479.5 L322.6,474.2 L331.1,477.6 L331.1,482.1" fill="none" stroke="#000" stroke-width="1.30" stroke-linecap="round" stroke-linejoin="round"/>
<path d="M324.9,469.7 L327.1,471.9" fill="none" stroke="#fff" stroke-width="1.20" stroke-linecap="round" stroke-linejoin="round"/>
<path d="M335.6,469.1 L337.2,471.4" fill="none" stroke="#fff" stroke-width="1.20" stroke-linecap="round" stroke-linejoin="round"/>
<path d="M394.2,592.4 L403.8,591.3 L409.9,598.6 L409.4,603.1 L402.6,610.4 L398.1,609.3 L392.5,602.0Z" fill="#000" stroke="#000" stroke-width="1.00" stroke-linejoin="round"/>
<path d="M398.1,597.5 L404.9,602.0 L400.9,607.6 L395.3,603.1Z" fill="#fff" stroke="#000" stroke-width="0.60" stroke-linejoin="round"/>
<path d="M399.5,602.0 L402.6,598.1" fill="none" stroke="#000" stroke-width="1.00" stroke-linecap="round" stroke-linejoin="round"/>
<path d="M401.5,603.7 L403.8,600.3" fill="none" stroke="#000" stroke-width="1.00" stroke-linecap="round" stroke-linejoin="round"/>
<path d="M396.4,594.7 L400.9,595.2" fill="none" stroke="#fff" stroke-width="1.30" stroke-linecap="round" stroke-linejoin="round"/>
<path d="M460.4,243.1 L460.1,243.5 L459.8,243.9 L459.5,244.4 L459.1,245.0 L458.7,245.6 L458.3,246.3 L457.8,247.0 L457.3,247.7 L456.9,248.4 L456.4,249.2 L455.9,249.9 L455.5,250.6 L455.1,251.3 L454.6,252.1 L454.2,252.8 L453.8,253.6 L453.3,254.4 L452.9,255.2 L452.5,256.0 L452.0,256.8 L451.6,257.6 L451.1,258.4 L450.7,259.2 L450.2,260.0 L449.8,260.8 L449.4,261.5 L448.9,262.3 L448.5,263.1 L448.0,263.8 L447.6,264.6 L447.1,265.3 L446.7,266.1 L446.3,266.8 L445.8,267.5 L445.4,268.3 L445.0,269.0 L444.6,269.7 L444.2,270.5 L443.7,271.3 L443.3,272.1 L442.8,272.9 L442.4,273.7 L442.0,274.4 L441.6,275.1 L441.3,275.8 L441.0,276.4 L440.7,276.9 L440.5,277.2" fill="none" stroke="#000" stroke-width="7.60" stroke-linecap="butt" stroke-linejoin="round"/>
<path d="M460.0,242.9 L459.8,243.3 L459.5,243.7 L459.2,244.2 L458.8,244.8 L458.4,245.4 L457.9,246.1 L457.5,246.8 L457.0,247.5 L456.5,248.2 L456.0,249.0 L455.6,249.7 L455.1,250.4 L454.7,251.1 L454.3,251.9 L453.9,252.6 L453.4,253.4 L453.0,254.2 L452.5,255.0 L452.1,255.8 L451.7,256.6 L451.2,257.4 L450.8,258.2 L450.3,259.0 L449.9,259.8 L449.5,260.6 L449.0,261.3 L448.6,262.1 L448.1,262.9 L447.7,263.6 L447.2,264.4 L446.8,265.1 L446.3,265.9 L445.9,266.6 L445.5,267.3 L445.1,268.1 L444.6,268.8 L444.2,269.5 L443.8,270.3 L443.4,271.1 L442.9,271.9 L442.5,272.7 L442.1,273.5 L441.7,274.2 L441.3,274.9 L440.9,275.6 L440.6,276.2 L440.4,276.7 L440.1,277.1" fill="none" stroke="#fff" stroke-width="3.60" stroke-linecap="butt" stroke-linejoin="round"/>
<path d="M436.4,276.9 L439.0,275.0 L444.6,278.0 L442.0,281.8 L439.0,281.0Z" fill="#000" stroke="#000" stroke-width="1.00" stroke-linejoin="round"/>
<path d="M456.2,254.8 L456.1,255.0 L455.9,255.3 L455.6,255.7 L455.3,256.1 L455.0,256.5 L454.7,257.0 L454.3,257.5 L453.9,258.0 L453.6,258.5 L453.2,259.0 L452.9,259.5 L452.5,260.0 L452.1,260.5 L451.7,261.0 L451.3,261.6 L450.9,262.2 L450.5,262.8 L450.0,263.3 L449.6,263.9 L449.2,264.4 L448.8,264.9 L448.5,265.3 L448.2,265.7 L448.0,266.0" fill="none" stroke="#000" stroke-width="0.9" stroke-dasharray="1 3.5"/>
<path d="M460.4,243.1 L460.6,242.9 L460.9,242.6 L461.2,242.3 L461.6,241.9 L462.0,241.5 L462.4,241.0 L462.8,240.6 L463.3,240.1 L463.8,239.6 L464.3,239.1 L464.8,238.7 L465.2,238.2 L465.7,237.8 L466.3,237.4 L466.8,236.9 L467.4,236.5 L468.0,236.1 L468.6,235.6 L469.1,235.2 L469.7,234.7 L470.3,234.3 L470.9,233.8 L471.5,233.4 L472.0,233.0 L472.5,232.6 L473.0,232.2 L473.6,231.8 L474.1,231.5 L474.6,231.1 L475.0,230.8 L475.5,230.4 L476.0,230.0 L476.5,229.7 L477.0,229.3 L477.5,228.9 L478.0,228.5 L478.5,228.1 L479.0,227.7 L479.6,227.2 L480.1,226.8 L480.7,226.3 L481.2,225.8 L481.7,225.4 L482.2,224.9 L482.7,224.5 L483.2,224.0 L483.6,223.6 L484.0,223.2 L484.4,222.9 L484.7,222.5 L485.0,222.1 L485.3,221.8 L485.6,221.4 L485.9,221.0 L486.1,220.7 L486.3,220.4 L486.5,220.1 L486.7,219.9 L486.9,219.7 L487.0,219.5" fill="none" stroke="#000" stroke-width="9.00" stroke-linecap="butt" stroke-linejoin="round"/>
<path d="M460.4,243.1 L460.6,242.9 L460.9,242.6 L461.2,242.3 L461.6,241.9 L462.0,241.5 L462.4,241.0 L462.8,240.6 L463.3,240.1 L463.8,239.6 L464.3,239.1 L464.8,238.7 L465.2,238.2 L465.7,237.8 L466.3,237.4 L466.8,236.9 L467.4,236.5 L468.0,236.1 L468.6,235.6 L469.1,235.2 L469.7,234.7 L470.3,234.3 L470.9,233.8 L471.5,233.4 L472.0,233.0 L472.5,232.6 L473.0,232.2 L473.6,231.8 L474.1,231.5 L474.6,231.1 L475.0,230.8 L475.5,230.4 L476.0,230.0 L476.5,229.7 L477.0,229.3 L477.5,228.9 L478.0,228.5 L478.5,228.1 L479.0,227.7 L479.6,227.2 L480.1,226.8 L480.7,226.3 L481.2,225.8 L481.7,225.4 L482.2,224.9 L482.7,224.5 L483.2,224.0 L483.6,223.6 L484.0,223.2 L484.4,222.9 L484.7,222.5 L485.0,222.1 L485.3,221.8 L485.6,221.4 L485.9,221.0 L486.1,220.7 L486.3,220.4 L486.5,220.1 L486.7,219.9 L486.9,219.7 L487.0,219.5" fill="none" stroke="#fff" stroke-width="5.20" stroke-linecap="butt" stroke-linejoin="round"/>
<path d="M458.1,240.5 L464.1,246.1" fill="none" stroke="#000" stroke-width="2.60" stroke-linecap="round" stroke-linejoin="round"/>
<path d="M505.0,186.9 L511.9,189.4 L517.5,190.6 L522.8,192.5 L523.5,197.5 L520.6,200.0 L523.5,205.6 L517.5,210.0 L511.2,217.5 L508.8,223.8 L506.5,230.0 L501.9,232.5 L497.5,230.0 L496.2,223.8 L490.0,221.2 L487.2,215.0 L487.8,206.9 L491.2,200.0Z" fill="#fff" stroke="#000" stroke-width="2.00" stroke-linejoin="round"/>
<path d="M517.5,190.2 L521.2,189.8 L523.5,193.1 L523.1,196.9 L520.0,197.5 L517.5,194.8Z" fill="#000" stroke="#000" stroke-width="1.00" stroke-linejoin="round"/>
<path d="M507.5,188.1 L510.0,190.0 L511.9,188.5 L514.4,191.0 L516.2,189.8" fill="none" stroke="#000" stroke-width="1.50" stroke-linecap="round" stroke-linejoin="round"/>
<path d="M491.2,200.6 C500.0,201.2 510.0,210.0 508.8,221.2" fill="none" stroke="#000" stroke-width="1.60" stroke-linejoin="round" stroke-linecap="round" />
<ellipse cx="496.9" cy="212.8" rx="5.6" ry="3.6" transform="rotate(40 496.9 212.8)" fill="#fff" stroke="#000" stroke-width="1.7"/>
<ellipse cx="497.5" cy="212.2" rx="3.0" ry="1.8" transform="rotate(40 497.5 212.2)" fill="#000" stroke="#000" stroke-width="1"/>
<path d="M485.6,214.4 L490.0,211.2 L495.0,217.5 L490.0,222.5 L486.9,221.2Z" fill="#fff" stroke="#000" stroke-width="1.70" stroke-linejoin="round"/>
<path d="M490.0,211.2 L492.5,218.8" fill="none" stroke="#000" stroke-width="1.40" stroke-linecap="round" stroke-linejoin="round"/>
<circle cx="503.1" cy="223.1" r="1.5" fill="#fff" stroke="#000" stroke-width="1.1"/>
<circle cx="501.0" cy="228.1" r="1.5" fill="#fff" stroke="#000" stroke-width="1.1"/>
<path d="M517.5,210.0 L517.4,209.8 L517.3,209.4 L517.2,209.1 L517.0,208.7 L516.8,208.2 L516.6,207.8 L516.5,207.3 L516.3,206.8 L516.2,206.3 L516.2,205.9 L516.2,205.4 L516.2,205.0 L516.4,204.6 L516.6,204.2 L516.9,203.8 L517.3,203.3 L517.6,202.9 L518.0,202.5 L518.5,202.1 L518.8,201.7 L519.2,201.4 L519.5,201.1 L519.8,200.8 L520.0,200.6" fill="none" stroke="#000" stroke-width="1.30" stroke-linecap="round" stroke-linejoin="round"/>
<path d="M430.0,285.0 L433.1,282.5 L436.9,284.4 L436.5,290.0 L431.2,296.2 L427.8,303.1 L431.2,310.0 L436.5,316.2 L436.5,321.2 L430.6,326.0 L425.0,324.0 L418.8,313.8 L415.0,311.5 L413.5,306.5 L415.0,301.2 L422.5,291.2 L426.9,286.9Z" fill="#fff" stroke="#000" stroke-width="2.10" stroke-linejoin="round"/>
<path d="M426.9,286.9 L427.1,287.0 L427.3,287.2 L427.5,287.4 L427.8,287.6 L428.1,287.8 L428.4,288.1 L428.7,288.3 L429.1,288.6 L429.5,288.8 L429.8,289.0 L430.2,289.2 L430.6,289.4 L431.0,289.5 L431.5,289.6 L432.0,289.7 L432.6,289.7 L433.1,289.8 L433.7,289.8 L434.2,289.9 L434.7,289.9 L435.2,289.9 L435.6,290.0 L436.0,290.0 L436.2,290.0" fill="none" stroke="#000" stroke-width="1.40" stroke-linecap="round" stroke-linejoin="round"/>
<path d="M430.0,285.0 L432.8,287.8" fill="none" stroke="#000" stroke-width="1.20" stroke-linecap="round" stroke-linejoin="round"/>
<path d="M415.0,309.4 L422.5,308.8 L426.9,303.1" fill="none" stroke="#000" stroke-width="1.40" stroke-linecap="round" stroke-linejoin="round"/>
<path d="M418.8,313.8 L424.4,310.6 L425.0,306.2" fill="none" stroke="#000" stroke-width="2.00" stroke-linecap="round" stroke-linejoin="round"/>
<path d="M425.0,323.8 L425.3,323.6 L425.7,323.4 L426.1,323.2 L426.7,323.0 L427.2,322.7 L427.8,322.4 L428.4,322.2 L429.0,321.9 L429.6,321.5 L430.2,321.2 L430.7,320.9 L431.2,320.6 L431.7,320.3 L432.2,319.9 L432.8,319.6 L433.3,319.2 L433.8,318.8 L434.3,318.4 L434.7,318.0 L435.2,317.6 L435.6,317.3 L435.9,317.0 L436.2,316.7 L436.5,316.5" fill="none" stroke="#000" stroke-width="1.30" stroke-linecap="round" stroke-linejoin="round"/>
<path d="M416.2,303.8 L420.6,305.6" fill="none" stroke="#000" stroke-width="1.20" stroke-linecap="round" stroke-linejoin="round"/>
<path d="M455.0,331.1 L455.8,330.9 L456.6,330.7 L457.4,330.6 L458.1,330.6 L458.9,330.7 L459.6,330.8 L460.3,330.9 L461.0,331.1 L461.7,331.4 L462.4,331.7 L463.1,332.1 L463.8,332.5 L464.5,332.9 L465.1,333.4 L465.7,334.0 L466.2,334.5 L466.7,335.1 L467.2,335.6 L467.6,336.3 L467.9,336.9 L468.2,337.6 L468.5,338.3 L468.7,339.0 L468.9,339.8 L469.0,340.5 L469.0,341.4 L469.0,342.2 L469.0,343.1 L468.9,344.0 L468.8,344.9 L468.6,345.7 L468.5,346.5 L468.4,347.3 L468.2,348.0 L468.1,348.7 L467.9,349.4 L467.7,350.1 L467.4,350.8 L467.0,351.5 L466.6,352.1 L466.1,352.8 L465.5,353.4 L464.8,354.1 L464.1,354.7 L463.3,355.3 L462.5,355.9 L461.7,356.5 L461.0,357.0 L460.3,357.5 L459.6,358.1 L458.8,358.6 L458.1,359.1 L457.4,359.5 L456.6,360.0 L455.8,360.3 L455.0,360.6 L454.1,360.8 L453.2,361.0 L452.2,361.1 L451.2,361.2 L450.2,361.2 L449.2,361.1 L448.3,361.1 L447.5,360.9 L446.8,360.7 L446.1,360.4 L445.6,360.1 L445.0,359.7 L444.5,359.3 L444.0,358.8 L443.5,358.3 L443.0,357.8 L442.5,357.1 L441.9,356.4 L441.3,355.7 L440.8,354.9 L440.3,354.1 L439.8,353.3 L439.4,352.5 L439.1,351.8 L438.9,351.1 L438.7,350.4 L438.5,349.7 L438.4,349.0 L438.4,348.4 L438.4,347.7 L438.4,347.1 L438.5,346.5 L438.6,345.9 L438.7,345.4 L438.8,345.0 L439.0,344.5 L439.2,344.0 L439.5,343.5 L439.9,343.0 L440.4,342.4 L441.0,341.7 L441.8,340.9 L442.6,340.1 L443.6,339.2 L444.6,338.4 L445.6,337.5 L446.6,336.7 L447.5,336.0 L448.4,335.3 L449.4,334.6 L450.4,333.8 L451.3,333.2 L452.3,332.5 L453.2,332.0 L454.1,331.5Z" fill="#fff" stroke="#000" stroke-width="2.00" stroke-linejoin="round"/>
<path d="M464.0,333.8 L464.1,334.0 L464.3,334.4 L464.5,334.8 L464.8,335.3 L465.1,335.8 L465.3,336.3 L465.6,336.9 L465.9,337.5 L466.1,338.1 L466.3,338.6 L466.5,339.2 L466.6,339.8 L466.7,340.3 L466.8,340.8 L466.9,341.4 L466.9,341.9 L466.9,342.5 L466.9,343.0 L466.9,343.6 L466.8,344.2 L466.8,344.7 L466.6,345.3 L466.5,345.9 L466.2,346.5 L466.0,347.1 L465.7,347.7 L465.3,348.4 L464.9,349.1 L464.4,349.7 L464.0,350.4 L463.5,351.1 L463.0,351.7 L462.5,352.3 L462.0,352.9 L461.5,353.5 L461.0,354.0 L460.5,354.5 L460.0,354.9 L459.4,355.4 L458.8,355.8 L458.2,356.2 L457.7,356.5 L457.1,356.9 L456.6,357.2 L456.1,357.5 L455.7,357.7 L455.3,357.9 L455.0,358.1" fill="none" stroke="#000" stroke-width="1.40" stroke-linecap="round" stroke-linejoin="round"/>
<path d="M447.5,360.9 L447.9,360.9 L448.3,360.9 L448.9,360.9 L449.5,360.9 L450.2,361.0 L450.9,361.0 L451.6,361.0 L452.3,361.0 L453.1,360.9 L453.8,360.8 L454.4,360.7 L455.0,360.6 L455.6,360.4 L456.2,360.1 L456.7,359.8 L457.3,359.5 L457.9,359.2 L458.5,358.8 L459.0,358.4 L459.5,358.1 L460.0,357.7 L460.4,357.4 L460.7,357.2 L461.0,357.0" fill="none" stroke="#000" stroke-width="3.00" stroke-linecap="round" stroke-linejoin="round"/>
<path d="M451.2,331.1 L451.8,331.0 L452.2,331.0 L452.7,331.0 L453.2,331.1 L453.7,331.2 L454.1,331.4 L454.6,331.6 L455.0,331.9 L455.5,332.2 L455.9,332.5 L456.4,332.9 L456.8,333.3 L457.2,333.8 L457.6,334.2 L458.0,334.7 L458.4,335.2 L458.7,335.8 L459.0,336.4 L459.3,337.0 L459.6,337.6 L459.8,338.2 L460.0,338.9 L460.2,339.5 L460.2,340.1 L460.3,340.7 L460.3,341.4 L460.3,342.0 L460.2,342.6 L460.1,343.3 L459.9,343.9 L459.7,344.4 L459.5,345.0 L459.2,345.5 L459.0,346.0 L458.6,346.5 L458.3,347.0 L457.9,347.4 L457.5,347.9 L457.0,348.3 L456.5,348.8 L455.9,349.2 L455.3,349.6 L454.7,350.1 L454.0,350.5 L453.3,350.9 L452.6,351.2 L451.9,351.5 L451.2,351.8 L450.6,351.9 L450.0,352.0 L449.4,352.1 L448.8,352.2 L448.3,352.2 L447.7,352.1 L447.2,351.9 L446.8,351.8 L446.4,351.5 L446.0,351.1 L445.7,350.6 L445.5,350.1 L445.2,349.6 L445.0,349.0 L444.7,348.5 L444.4,348.0 L443.9,347.5 L443.5,347.1 L442.9,346.7 L442.4,346.3 L441.9,345.8 L441.5,345.4 L441.1,344.9 L440.9,344.4 L440.8,343.9 L440.7,343.3 L440.8,342.8 L440.9,342.2 L441.0,341.6 L441.3,341.0 L441.5,340.4 L441.9,339.8 L442.3,339.1 L442.8,338.4 L443.4,337.7 L444.1,337.0 L444.8,336.4 L445.5,335.7 L446.1,335.1 L446.8,334.5 L447.3,334.0 L447.9,333.4 L448.5,332.9 L449.1,332.4 L449.6,332.0 L450.2,331.6 L450.7,331.3Z" fill="#fff" stroke="#000" stroke-width="1.80" stroke-linejoin="round"/>
<path d="M441.1,344.6 L441.3,344.8 L441.5,345.0 L441.7,345.2 L441.9,345.5 L442.2,345.8 L442.5,346.1 L442.7,346.4 L443.0,346.7 L443.3,347.1 L443.6,347.4 L443.9,347.7 L444.1,348.0 L444.4,348.3 L444.6,348.6 L444.9,349.0 L445.1,349.3 L445.4,349.7 L445.6,350.0 L445.9,350.3 L446.1,350.7 L446.3,350.9 L446.5,351.2 L446.6,351.4 L446.8,351.6" fill="none" stroke="#000" stroke-width="2.60" stroke-linecap="round" stroke-linejoin="round"/>
<ellipse cx="441.9" cy="332.1" rx="9.4" ry="7.6" transform="rotate(-38 441.9 332.1)" fill="#fff" stroke="#000" stroke-width="2.2"/>
<ellipse cx="442.4" cy="333.0" rx="5.0" ry="3.6" transform="rotate(-40 442.4 333.0)" fill="#fff" stroke="#000" stroke-width="2.0"/>
<path d="M444.9,324.8 L445.1,324.9 L445.4,325.0 L445.8,325.2 L446.3,325.4 L446.7,325.6 L447.2,325.8 L447.7,326.1 L448.2,326.3 L448.7,326.6 L449.1,326.8 L449.4,327.1 L449.8,327.4 L450.0,327.6 L450.2,327.9 L450.4,328.2 L450.6,328.4 L450.8,328.7 L450.9,329.0 L451.0,329.3 L451.1,329.6 L451.2,330.0 L451.2,330.3 L451.3,330.7 L451.2,331.1 L451.2,331.6 L451.1,332.1 L451.0,332.7 L450.8,333.3 L450.6,333.9 L450.4,334.5 L450.2,335.2 L450.0,335.8 L449.8,336.3 L449.6,336.8 L449.5,337.2 L449.4,337.5" fill="none" stroke="#000" stroke-width="1.60" stroke-linecap="round" stroke-linejoin="round"/>
<path d="M439.2,336.8 L443.8,331.1" fill="none" stroke="#000" stroke-width="1.80" stroke-linecap="round" stroke-linejoin="round"/>
<path d="M154.2,242.8 L159.7,242.8 L165.5,239.2 L170.0,234.6 L175.2,234.4 L180.5,240.0 L182.4,247.5 L180.5,252.8 L177.5,254.6 L169.2,255.2 L165.3,258.1 L165.1,264.0 L158.8,267.4 L154.2,264.8 L147.9,256.5 L147.1,247.5 L148.2,243.8Z" fill="#fff" stroke="none" stroke-width="0.00" stroke-linejoin="round"/>
<path d="M147.5,246.8 L147.5,246.6 L147.5,246.5 L147.5,246.3 L147.5,246.1 L147.6,245.9 L147.6,245.7 L147.6,245.5 L147.6,245.3 L147.7,245.1 L147.7,244.8 L147.8,244.7 L147.9,244.5 L148.0,244.4 L148.1,244.2 L148.3,244.1 L148.5,243.9 L148.6,243.8 L148.8,243.7 L149.0,243.6 L149.2,243.5 L149.4,243.4 L149.5,243.3 L149.7,243.2 L149.8,243.2" fill="none" stroke="#000" stroke-width="1.20" stroke-linecap="round" stroke-linejoin="round"/>
<path d="M152.0,242.6 L155.0,242.8" fill="none" stroke="#000" stroke-width="1.30" stroke-linecap="round" stroke-linejoin="round"/>
<path d="M141.1,249.0 L146.8,258.0" fill="none" stroke="#000" stroke-width="1.00" stroke-linecap="round" stroke-linejoin="round"/>
<path d="M147.5,255.0 L147.6,255.2 L147.7,255.5 L147.9,255.8 L148.0,256.1 L148.2,256.5 L148.3,256.9 L148.5,257.3 L148.8,257.8 L149.0,258.2 L149.2,258.7 L149.5,259.1 L149.8,259.5 L150.0,259.9 L150.4,260.4 L150.7,260.8 L151.1,261.3 L151.5,261.8 L151.9,262.2 L152.3,262.7 L152.7,263.2 L153.1,263.6 L153.5,264.0 L153.9,264.4 L154.2,264.8 L154.6,265.1 L155.0,265.4 L155.4,265.7 L155.8,266.0 L156.2,266.2 L156.5,266.5 L156.9,266.7 L157.3,266.9 L157.7,267.1 L158.0,267.2 L158.4,267.3 L158.8,267.4 L159.1,267.4 L159.4,267.4 L159.8,267.3 L160.1,267.2 L160.4,267.1 L160.8,266.9 L161.1,266.7 L161.4,266.6 L161.7,266.4 L162.0,266.2 L162.2,266.0 L162.5,265.9 L162.8,265.7 L163.0,265.6 L163.3,265.4 L163.5,265.2 L163.7,265.0 L163.9,264.8 L164.1,264.7 L164.3,264.5 L164.5,264.3 L164.7,264.2 L164.8,264.1 L164.9,264.0" fill="none" stroke="#000" stroke-width="2.20" stroke-linecap="round" stroke-linejoin="round"/>
<path d="M154.2,243.0 L154.5,243.3 L154.8,243.8 L155.2,244.3 L155.6,244.8 L156.1,245.4 L156.5,246.1 L157.0,246.8 L157.6,247.4 L158.1,248.1 L158.6,248.7 L159.0,249.2 L159.5,249.8 L160.0,250.2 L160.4,250.6 L160.9,250.9 L161.4,251.2 L161.9,251.5 L162.4,251.8 L162.9,252.1 L163.4,252.4 L163.8,252.8 L164.2,253.2 L164.5,253.7 L164.8,254.2 L165.0,254.9 L165.1,255.7 L165.2,256.5 L165.2,257.5 L165.3,258.4 L165.3,259.4 L165.2,260.4 L165.2,261.3 L165.2,262.1 L165.1,262.9 L165.1,263.5 L165.1,264.0" fill="none" stroke="#000" stroke-width="1.50" stroke-linecap="round" stroke-linejoin="round"/>
<path d="M155.0,253.5 L155.2,253.8 L155.4,254.2 L155.6,254.6 L155.9,255.2 L156.2,255.7 L156.5,256.3 L156.9,256.9 L157.2,257.5 L157.6,258.1 L158.0,258.6 L158.4,259.1 L158.8,259.5 L159.2,259.9 L159.6,260.2 L160.1,260.5 L160.6,260.8 L161.1,261.1 L161.6,261.4 L162.1,261.6 L162.6,261.8 L163.0,262.0 L163.4,262.2 L163.7,262.4 L164.0,262.5" fill="none" stroke="#000" stroke-width="1.20" stroke-linecap="round" stroke-linejoin="round"/>
<path d="M158.0,243.8 L164.0,251.2" fill="none" stroke="#000" stroke-width="1.60" stroke-linecap="round" stroke-linejoin="round"/>
<path d="M159.7,242.8 L165.5,239.2 L170.0,234.6" fill="none" stroke="#000" stroke-width="1.80" stroke-linecap="round" stroke-linejoin="round"/>
<path d="M165.3,258.1 L169.2,255.2 L177.5,254.6" fill="none" stroke="#000" stroke-width="1.80" stroke-linecap="round" stroke-linejoin="round"/>
<path d="M170.0,234.6 L170.3,234.6 L170.6,234.5 L171.0,234.5 L171.4,234.4 L171.9,234.3 L172.4,234.3 L172.9,234.2 L173.4,234.2 L173.9,234.2 L174.4,234.2 L174.8,234.3 L175.2,234.4 L175.6,234.5 L176.0,234.7 L176.3,234.9 L176.7,235.1 L177.0,235.4 L177.3,235.7 L177.6,236.0 L177.9,236.3 L178.2,236.6 L178.5,237.0 L178.7,237.4 L179.0,237.8 L179.3,238.2 L179.5,238.6 L179.8,239.1 L180.0,239.6 L180.3,240.2 L180.5,240.7 L180.7,241.3 L180.9,241.8 L181.1,242.3 L181.3,242.8 L181.5,243.3 L181.6,243.8 L181.8,244.1 L181.9,244.5 L182.0,244.8 L182.1,245.1 L182.2,245.4 L182.3,245.7 L182.3,245.9 L182.4,246.2 L182.4,246.5 L182.4,246.8 L182.4,247.1 L182.4,247.5 L182.3,247.9 L182.2,248.3 L182.1,248.8 L182.0,249.3 L181.8,249.8 L181.7,250.2 L181.5,250.7 L181.3,251.2 L181.1,251.6 L180.9,252.1 L180.7,252.4 L180.5,252.8 L180.3,253.0 L180.0,253.3 L179.8,253.5 L179.5,253.7 L179.2,253.9 L178.9,254.0 L178.6,254.1 L178.3,254.3 L178.1,254.4 L177.8,254.5 L177.6,254.5 L177.5,254.6" fill="none" stroke="#000" stroke-width="1.80" stroke-linecap="round" stroke-linejoin="round"/>
<path d="M170.0,237.4 L170.2,237.6 L170.4,237.9 L170.7,238.2 L171.1,238.6 L171.4,239.0 L171.8,239.5 L172.2,239.9 L172.6,240.4 L172.9,240.9 L173.2,241.4 L173.5,241.8 L173.8,242.2 L173.9,242.7 L174.1,243.1 L174.2,243.5 L174.4,243.9 L174.5,244.3 L174.5,244.8 L174.6,245.2 L174.7,245.6 L174.7,246.1 L174.8,246.5 L174.8,247.0 L174.9,247.5 L174.9,248.0 L174.9,248.6 L175.0,249.2 L175.0,249.9 L175.0,250.5 L174.9,251.2 L174.9,251.8 L174.9,252.4 L174.9,253.0 L174.9,253.5 L174.9,253.9 L174.9,254.2" fill="none" stroke="#000" stroke-width="1.20" stroke-linecap="round" stroke-linejoin="round"/>
<path d="M172.2,236.2 L172.5,236.5 L172.9,236.9 L173.3,237.3 L173.7,237.8 L174.2,238.2 L174.7,238.8 L175.3,239.3 L175.8,239.9 L176.3,240.5 L176.7,241.1 L177.2,241.7 L177.5,242.2 L177.8,242.8 L178.1,243.5 L178.3,244.2 L178.6,244.9 L178.8,245.6 L179.0,246.4 L179.1,247.1 L179.3,247.8 L179.4,248.4 L179.5,248.9 L179.7,249.4 L179.8,249.8" fill="none" stroke="#000" stroke-width="1.20" stroke-linecap="round" stroke-linejoin="round"/>
<path d="M180.5,247.5 L180.1,252.8" fill="none" stroke="#000" stroke-width="2.60" stroke-linecap="round" stroke-linejoin="round"/>
<path d="M191.4,221.2 L196.2,219.4 L203.8,222.8 L209.0,220.5 L215.0,221.2 L218.0,228.0 L220.2,232.5 L218.0,232.5 L209.0,237.0 L205.2,238.5 L203.8,243.0 L197.8,243.0 L192.1,237.0 L190.2,224.2Z" fill="#fff" stroke="none" stroke-width="0.00" stroke-linejoin="round"/>
<path d="M199.2,205.5 L205.2,204.4 L210.9,206.2 L209.8,209.2 L203.0,210.9 L199.6,207.9Z" fill="#000" stroke="#000" stroke-width="1.00" stroke-linejoin="round"/>
<path d="M203.8,206.2 L207.1,206.0 L207.5,207.8 L204.3,208.2Z" fill="#fff" stroke="#000" stroke-width="0.50" stroke-linejoin="round"/>
<path d="M206.8,211.1 L206.8,211.4 L206.8,211.7 L206.9,212.0 L207.0,212.4 L207.0,212.8 L207.1,213.3 L207.2,213.7 L207.3,214.2 L207.3,214.7 L207.4,215.2 L207.5,215.6 L207.5,216.0 L207.5,216.4 L207.5,216.8 L207.6,217.3 L207.6,217.7 L207.6,218.1 L207.5,218.6 L207.5,219.0 L207.5,219.3 L207.5,219.7 L207.5,220.0 L207.5,220.3 L207.5,220.5" fill="none" stroke="#000" stroke-width="1.50" stroke-linecap="round" stroke-linejoin="round"/>
<path d="M210.9,206.2 L211.1,206.5 L211.3,206.9 L211.6,207.3 L211.9,207.8 L212.2,208.3 L212.6,208.9 L213.0,209.4 L213.4,210.0 L213.8,210.6 L214.2,211.2 L214.6,211.7 L215.0,212.2 L215.4,212.8 L215.8,213.3 L216.2,213.8 L216.7,214.3 L217.1,214.8 L217.6,215.3 L218.0,215.8 L218.5,216.3 L218.9,216.8 L219.4,217.3 L219.8,217.8 L220.2,218.2 L220.7,218.7 L221.2,219.2 L221.7,219.7 L222.2,220.1 L222.7,220.6 L223.2,221.1 L223.7,221.5 L224.1,221.9 L224.6,222.4 L224.9,222.8 L225.2,223.1 L225.5,223.5 L225.7,223.8 L225.8,224.2 L225.9,224.5 L225.9,224.8 L225.9,225.1 L225.8,225.3 L225.8,225.6 L225.7,225.8 L225.6,226.0 L225.6,226.2 L225.5,226.4 L225.5,226.5" fill="none" stroke="#000" stroke-width="1.60" stroke-linecap="round" stroke-linejoin="round"/>
<path d="M210.9,210.0 L211.0,210.4 L211.2,210.9 L211.5,211.4 L211.7,212.1 L212.0,212.7 L212.3,213.5 L212.6,214.2 L212.9,214.9 L213.2,215.7 L213.6,216.3 L213.9,217.0 L214.2,217.5 L214.6,218.0 L215.0,218.4 L215.3,218.8 L215.7,219.2 L216.1,219.6 L216.5,219.9 L216.9,220.3 L217.3,220.6 L217.7,220.9 L218.1,221.3 L218.4,221.6 L218.8,222.0 L219.1,222.4 L219.4,222.7 L219.7,223.1 L220.0,223.4 L220.3,223.8 L220.5,224.2 L220.8,224.5 L221.0,224.9 L221.2,225.3 L221.4,225.7 L221.6,226.1 L221.8,226.5 L221.9,227.0 L221.9,227.5 L222.0,228.0 L222.0,228.6 L222.0,229.2 L221.9,229.8 L221.9,230.3 L221.9,230.9 L221.8,231.4 L221.8,231.8 L221.8,232.2 L221.8,232.5" fill="none" stroke="#000" stroke-width="1.60" stroke-linecap="round" stroke-linejoin="round"/>
<path d="M220.2,217.5 L224.0,217.5 L225.9,223.5" fill="none" stroke="#000" stroke-width="1.60" stroke-linecap="round" stroke-linejoin="round"/>
<path d="M215.0,218.2 L215.2,218.6 L215.4,219.0 L215.8,219.5 L216.1,220.0 L216.5,220.6 L216.9,221.2 L217.2,221.9 L217.6,222.6 L218.0,223.2 L218.3,223.8 L218.5,224.4 L218.8,225.0 L218.9,225.5 L219.0,226.1 L219.1,226.7 L219.1,227.3 L219.2,227.9 L219.2,228.4 L219.2,229.0 L219.2,229.5 L219.1,229.9 L219.1,230.4 L219.1,230.7 L219.1,231.0" fill="none" stroke="#000" stroke-width="1.40" stroke-linecap="round" stroke-linejoin="round"/>
<path d="M191.4,221.2 L196.2,219.4 L203.8,222.8 L209.0,220.5 L215.0,221.2" fill="none" stroke="#000" stroke-width="1.60" stroke-linecap="round" stroke-linejoin="round"/>
<path d="M203.4,222.9 L207.5,222.8 L208.2,225.8 L204.5,226.1Z" fill="#fff" stroke="#000" stroke-width="1.40" stroke-linejoin="round"/>
<path d="M208.2,237.0 L218.0,232.5 L224.8,232.1" fill="none" stroke="#000" stroke-width="1.80" stroke-linecap="round" stroke-linejoin="round"/>
<path d="M190.2,223.9 L190.6,230.2" fill="none" stroke="#000" stroke-width="1.40" stroke-linecap="round" stroke-linejoin="round"/>
<path d="M192.1,235.5 L192.4,235.9 L192.7,236.4 L193.1,237.0 L193.6,237.7 L194.1,238.5 L194.6,239.2 L195.1,240.0 L195.6,240.8 L196.2,241.5 L196.7,242.1 L197.3,242.6 L197.8,243.0 L198.3,243.3 L198.8,243.5 L199.3,243.6 L199.9,243.7 L200.5,243.7 L201.0,243.7 L201.6,243.7 L202.1,243.6 L202.6,243.5 L203.0,243.3 L203.4,243.2 L203.8,243.0 L204.0,242.8 L204.2,242.5 L204.4,242.2 L204.5,241.8 L204.6,241.4 L204.7,240.9 L204.7,240.5 L204.8,240.1 L204.8,239.7 L204.8,239.4 L204.8,239.1 L204.9,238.9" fill="none" stroke="#000" stroke-width="1.60" stroke-linecap="round" stroke-linejoin="round"/>
<path d="M196.2,222.0 L196.4,222.1 L196.5,222.3 L196.6,222.5 L196.8,222.7 L197.0,222.9 L197.1,223.2 L197.3,223.4 L197.6,223.7 L197.8,224.0 L198.0,224.3 L198.3,224.7 L198.5,225.0 L198.8,225.4 L199.1,225.7 L199.4,226.1 L199.7,226.5 L200.1,227.0 L200.4,227.4 L200.8,227.8 L201.1,228.3 L201.4,228.8 L201.7,229.3 L202.0,229.8 L202.2,230.2 L202.5,230.8 L202.6,231.4 L202.8,232.0 L203.0,232.6 L203.1,233.3 L203.2,234.0 L203.3,234.6 L203.4,235.2 L203.5,235.8 L203.6,236.2 L203.7,236.7 L203.8,237.0" fill="none" stroke="#000" stroke-width="1.20" stroke-linecap="round" stroke-linejoin="round"/>
<path d="M206.8,228.0 L207.5,232.5" fill="none" stroke="#000" stroke-width="1.30" stroke-linecap="round" stroke-linejoin="round"/>
<path d="M192.1,230.2 L195.5,228.4 L197.8,232.5 L197.0,239.2 L194.0,237.0Z" fill="#000" stroke="#000" stroke-width="1.00" stroke-linejoin="round"/>
<path d="M198.1,231.0 L198.2,231.3 L198.4,231.7 L198.6,232.1 L198.8,232.7 L199.1,233.2 L199.3,233.8 L199.6,234.4 L199.8,235.0 L200.0,235.6 L200.2,236.1 L200.3,236.6 L200.4,237.0 L200.4,237.4 L200.4,237.7 L200.3,238.0 L200.2,238.3 L200.1,238.6 L200.0,238.9 L199.8,239.1 L199.7,239.3 L199.5,239.5 L199.4,239.7 L199.3,239.9 L199.2,240.0" fill="none" stroke="#000" stroke-width="1.20" stroke-linecap="round" stroke-linejoin="round"/>
<path d="M206.8,241.5 L207.5,242.6" fill="none" stroke="#000" stroke-width="1.50" stroke-linecap="round" stroke-linejoin="round"/>
<path d="M241.4,197.4 L244.8,193.2 L253.0,189.1 L259.8,187.2 L263.5,189.1 L280.0,200.8 L287.5,202.2 L289.8,209.8 L288.2,217.2 L283.8,221.8 L277.0,222.5 L271.8,219.5 L270.2,212.8 L260.5,204.5 L253.0,205.2 L244.8,204.9 L241.4,203.8Z" fill="#fff" stroke="none" stroke-width="0.00" stroke-linejoin="round"/>
<path d="M244.8,204.9 L241.4,203.8 L241.4,197.4 L244.8,193.2 L253.0,189.1 L259.8,187.2 L263.5,189.1" fill="none" stroke="#000" stroke-width="1.3" stroke-dasharray="5 1"/>
<path d="M244.4,201.1 L244.4,201.0 L244.5,200.8 L244.5,200.6 L244.6,200.4 L244.7,200.2 L244.8,200.0 L244.8,199.7 L244.9,199.5 L245.1,199.2 L245.2,199.0 L245.3,198.7 L245.5,198.5 L245.7,198.3 L245.8,198.1 L246.0,197.9 L246.1,197.7 L246.3,197.5 L246.5,197.3 L246.7,197.1 L247.0,196.9 L247.3,196.7 L247.6,196.5 L248.0,196.3 L248.5,196.1 L249.1,195.9 L249.8,195.6 L250.5,195.3 L251.4,195.0 L252.3,194.7 L253.2,194.4 L254.1,194.2 L254.9,193.9 L255.7,193.7 L256.5,193.4 L257.0,193.2 L257.5,193.1" fill="none" stroke="#000" stroke-width="1.2" stroke-dasharray="3 1.5"/>
<path d="M246.2,206.4 L253.0,205.2" fill="none" stroke="#000" stroke-width="1.2" stroke-dasharray="3 1.5"/>
<path d="M253.0,204.7 L259.8,203.0 L261.2,198.5" fill="none" stroke="#000" stroke-width="1.30" stroke-linecap="round" stroke-linejoin="round"/>
<path d="M257.5,197.8 L257.9,203.8" fill="none" stroke="#000" stroke-width="1.30" stroke-linecap="round" stroke-linejoin="round"/>
<path d="M259.8,192.1 L259.9,192.1 L260.2,192.0 L260.4,191.9 L260.7,191.8 L261.0,191.7 L261.4,191.6 L261.7,191.5 L262.1,191.5 L262.5,191.4 L262.8,191.4 L263.2,191.3 L263.5,191.4 L263.8,191.4 L264.2,191.6 L264.5,191.7 L264.9,191.9 L265.3,192.1 L265.6,192.3 L266.0,192.5 L266.3,192.7 L266.6,192.9 L266.8,193.0 L267.1,193.2 L267.2,193.2" fill="none" stroke="#000" stroke-width="2.20" stroke-linecap="round" stroke-linejoin="round"/>
<path d="M263.5,189.1 L280.0,200.8" fill="none" stroke="#000" stroke-width="1.40" stroke-linecap="round" stroke-linejoin="round"/>
<path d="M260.5,204.5 L270.2,212.8" fill="none" stroke="#000" stroke-width="1.40" stroke-linecap="round" stroke-linejoin="round"/>
<path d="M280.0,200.8 L279.7,201.0 L279.3,201.4 L278.9,201.8 L278.3,202.3 L277.8,202.8 L277.2,203.3 L276.6,203.9 L276.0,204.5 L275.4,205.1 L274.9,205.6 L274.4,206.2 L274.0,206.8 L273.6,207.3 L273.3,207.8 L273.0,208.4 L272.6,209.0 L272.3,209.6 L272.1,210.2 L271.8,210.8 L271.6,211.3 L271.4,211.9 L271.2,212.5 L271.1,213.0 L271.0,213.5 L270.9,214.0 L270.9,214.5 L270.9,215.0 L270.9,215.4 L270.9,215.9 L271.0,216.3 L271.0,216.8 L271.1,217.2 L271.3,217.6 L271.4,218.0 L271.6,218.4 L271.8,218.8 L272.0,219.1 L272.2,219.5 L272.6,219.8 L272.9,220.1 L273.3,220.5 L273.7,220.8 L274.1,221.1 L274.4,221.3 L274.8,221.6 L275.1,221.8 L275.3,222.0 L275.5,222.1" fill="none" stroke="#000" stroke-width="1.50" stroke-linecap="round" stroke-linejoin="round"/>
<path d="M271.0,215.0 L272.5,219.9" fill="none" stroke="#000" stroke-width="3.00" stroke-linecap="round" stroke-linejoin="round"/>
<path d="M283.0,201.9 L286.8,203.8" fill="none" stroke="#000" stroke-width="2.40" stroke-linecap="round" stroke-linejoin="round"/>
<path d="M283.0,201.9 L282.7,202.1 L282.3,202.5 L281.8,202.8 L281.3,203.3 L280.8,203.7 L280.2,204.2 L279.6,204.7 L279.0,205.3 L278.4,205.8 L277.9,206.4 L277.4,206.9 L277.0,207.5 L276.6,208.1 L276.3,208.7 L276.0,209.3 L275.7,209.9 L275.5,210.6 L275.2,211.2 L275.0,211.9 L274.8,212.5 L274.7,213.2 L274.5,213.8 L274.4,214.4 L274.4,215.0 L274.4,215.6 L274.4,216.1 L274.4,216.7 L274.5,217.3 L274.7,217.8 L274.8,218.4 L275.0,218.9 L275.1,219.4 L275.3,219.9 L275.5,220.3 L275.7,220.7 L275.9,221.0 L276.1,221.3 L276.3,221.5 L276.5,221.7 L276.8,221.9 L277.0,222.0 L277.3,222.1 L277.5,222.2 L277.8,222.3 L278.0,222.3 L278.2,222.4 L278.4,222.4 L278.5,222.5" fill="none" stroke="#000" stroke-width="1.30" stroke-linecap="round" stroke-linejoin="round"/>
<ellipse cx="283.9" cy="214.2" rx="5.4" ry="7.6" transform="rotate(22 283.9 214.2)" fill="#fff" stroke="#000" stroke-width="1.5"/>
<ellipse cx="284.1" cy="214.2" rx="3.6" ry="5.4" transform="rotate(22 284.1 214.2)" fill="#fff" stroke="#000" stroke-width="1.2"/>
<path d="M283.0,210.5 L285.6,209.8 L285.2,212.8 L283.8,217.2 L282.2,216.5Z" fill="#000" stroke="#000" stroke-width="0.80" stroke-linejoin="round"/>
<path d="M280.0,200.8 L280.2,200.8 L280.4,200.8 L280.7,200.8 L281.0,200.8 L281.3,200.8 L281.6,200.8 L282.0,200.9 L282.4,200.9 L282.7,200.9 L283.1,201.0 L283.4,201.1 L283.8,201.1 L284.1,201.2 L284.4,201.3 L284.8,201.5 L285.1,201.6 L285.5,201.7 L285.9,201.9 L286.2,202.0 L286.5,202.2 L286.8,202.3 L287.1,202.4 L287.3,202.5 L287.5,202.6" fill="none" stroke="#000" stroke-width="1.40" stroke-linecap="round" stroke-linejoin="round"/>
<ellipse cx="279.8" cy="242.8" rx="5.4" ry="15.6" transform="rotate(-6 279.8 242.8)" fill="#6464a0" stroke="#55558a" stroke-width="1"/>
<path d="M262.5,238.8 L265.0,234.4 L270.0,233.1 L275.0,233.8 L275.6,237.5 L270.0,237.8 L268.1,240.0 L267.5,245.6 L262.8,245.2Z" fill="#6464a0" stroke="#55558a" stroke-width="1.00" stroke-linejoin="round"/>
<path d="M262.8,243.1 L267.5,243.1 L267.5,245.6 L262.8,245.2Z" fill="#3a3a5a" stroke="none" stroke-width="0.00" stroke-linejoin="round"/>
<path d="M270.6,238.8 L273.8,238.1 L275.0,250.0 L273.8,253.1 L271.2,247.5Z" fill="#2b2b38" stroke="none" stroke-width="0.00" stroke-linejoin="round"/>
<path d="M266.2,251.9 L273.8,251.9" fill="none" stroke="#2b2b38" stroke-width="1.40" stroke-linecap="round" stroke-linejoin="round"/>
<ellipse cx="281.5" cy="242.5" rx="2.1" ry="8.5" transform="rotate(-4 281.5 242.5)" fill="#2b2b38"/>
<path d="M278.5,230.0 L277.8,255.0" fill="none" stroke="#e8e8ff" stroke-width="1" stroke-dasharray="1.5 4"/>
<path d="M198.0,260.0 L214.0,252.0 L225.0,247.5 L242.0,262.0 L220.0,282.0 L207.0,290.0 L200.0,290.0 L195.0,280.0 L194.0,265.0Z" fill="#fff" stroke="none" stroke-width="0.00" stroke-linejoin="round"/>
<path d="M198.0,260.0 L214.0,252.0 L224.0,248.0" fill="none" stroke="#000" stroke-width="1.70" stroke-linecap="round" stroke-linejoin="round"/>
<path d="M214.0,252.0 L219.0,250.0" fill="none" stroke="#000" stroke-width="2.60" stroke-linecap="round" stroke-linejoin="round"/>
<path d="M203.0,258.0 L210.0,255.0" fill="none" stroke="#000" stroke-width="2.40" stroke-linecap="round" stroke-linejoin="round"/>
<path d="M198.0,260.0 C193.0,263.0 193.0,274.0 196.0,282.0 C198.0,288.0 203.0,292.0 207.0,290.0 C211.5,287.0 214.0,280.0 212.5,272.0 C211.5,265.0 206.0,260.0 198.0,260.0" fill="#fff" stroke="#000" stroke-width="1.70" stroke-linejoin="round" stroke-linecap="round" />
<path d="M196.0,283.0 L196.1,283.3 L196.3,283.7 L196.5,284.1 L196.7,284.6 L196.9,285.2 L197.1,285.8 L197.4,286.4 L197.7,287.0 L198.0,287.5 L198.3,288.1 L198.6,288.6 L199.0,289.0 L199.4,289.4 L199.8,289.8 L200.2,290.1 L200.6,290.5 L201.1,290.8 L201.6,291.2 L202.1,291.5 L202.6,291.7 L203.1,292.0 L203.7,292.2 L204.4,292.4 L205.0,292.5 L205.7,292.6 L206.5,292.7 L207.3,292.7 L208.2,292.8 L209.1,292.7 L210.1,292.7 L211.0,292.6 L211.9,292.6 L212.8,292.5 L213.6,292.3 L214.3,292.2 L215.0,292.0 L215.6,291.8 L216.2,291.5 L216.7,291.2 L217.2,290.8 L217.7,290.5 L218.1,290.1 L218.5,289.7 L218.9,289.3 L219.2,289.0 L219.5,288.7 L219.8,288.4 L220.0,288.2" fill="none" stroke="#000" stroke-width="3.20" stroke-linecap="round" stroke-linejoin="round"/>
<path d="M207.0,290.0 L207.6,289.6 L208.4,289.1 L209.4,288.6 L210.5,288.0 L211.6,287.3 L212.9,286.6 L214.1,285.8 L215.4,285.0 L216.7,284.3 L217.9,283.5 L219.0,282.7 L220.0,282.0 L220.9,281.3 L221.8,280.6 L222.7,279.9 L223.5,279.1 L224.3,278.4 L225.1,277.7 L225.8,276.9 L226.6,276.2 L227.4,275.4 L228.3,274.6 L229.1,273.8 L230.0,273.0 L231.0,272.1 L232.0,271.2 L233.1,270.1 L234.3,269.1 L235.5,268.0 L236.6,266.9 L237.7,265.9 L238.8,264.9 L239.8,264.0 L240.7,263.2 L241.4,262.5 L242.0,262.0" fill="none" stroke="#000" stroke-width="2.60" stroke-linecap="round" stroke-linejoin="round"/>
<path d="M214.0,259.0 C217.5,262.0 220.0,267.0 220.0,272.0" fill="none" stroke="#000" stroke-width="1.50" stroke-linejoin="round" stroke-linecap="round" />
<path d="M208.0,263.5 C211.5,267.0 213.0,272.0 212.2,278.0" fill="none" stroke="#000" stroke-width="1.20" stroke-linejoin="round" stroke-linecap="round" />
<path d="M224.5,247.5 L228.0,244.0 L233.0,243.5 L238.0,246.0 L242.0,244.0 L246.0,242.0 L250.0,243.0 L250.5,252.0 L246.0,257.0 L242.0,262.0 L237.0,267.0 L232.0,269.0 L228.0,266.0 L225.0,260.0 L223.0,254.0Z" fill="#000" stroke="#000" stroke-width="1.00" stroke-linejoin="round"/>
<path d="M228.5,249.5 L232.0,247.0 L235.5,252.0 L232.5,255.0Z" fill="#fff" stroke="none" stroke-width="0.00" stroke-linejoin="round"/>
<path d="M226.0,255.0 L229.2,253.5 L231.8,259.0 L228.8,261.2Z" fill="#fff" stroke="none" stroke-width="0.00" stroke-linejoin="round"/>
<path d="M234.0,256.5 L237.0,255.0 L239.0,260.0 L236.5,262.5Z" fill="#fff" stroke="none" stroke-width="0.00" stroke-linejoin="round"/>
<path d="M239.5,247.5 L242.5,245.8 L243.5,253.0 L240.5,255.0Z" fill="#fff" stroke="none" stroke-width="0.00" stroke-linejoin="round"/>
<path d="M244.8,245.2 L248.5,244.7 L249.0,251.2 L245.6,252.8Z" fill="#fff" stroke="none" stroke-width="0.00" stroke-linejoin="round"/>
<path d="M230.0,263.5 L233.8,262.5 L235.2,265.8 L232.2,267.2Z" fill="#fff" stroke="none" stroke-width="0.00" stroke-linejoin="round"/>
<path d="M240.5,257.5 L244.0,255.0 L244.8,258.5 L241.5,261.2Z" fill="#fff" stroke="none" stroke-width="0.00" stroke-linejoin="round"/>
<path d="M215.0,260.0 L223.0,256.0 L227.0,264.0" fill="none" stroke="#000" stroke-width="1.80" stroke-linecap="round" stroke-linejoin="round"/>
<path d="M219.0,265.0 L221.0,272.0 L228.0,268.0" fill="none" stroke="#000" stroke-width="2.00" stroke-linecap="round" stroke-linejoin="round"/>
<rect x="249.5" y="255.0" width="7.5" height="13.5" rx="2.5" transform="rotate(-8 253.2 261.5)" fill="#fff" stroke="#000" stroke-width="2"/>
<path d="M252.0,257.0 L251.8,266.0" fill="none" stroke="#000" stroke-width="1.40" stroke-linecap="round" stroke-linejoin="round"/>
<path d="M258.0,260.5 L263.0,261.5 L269.0,265.0 L268.0,267.5 L262.0,266.2 L258.0,264.5Z" fill="#000" stroke="#000" stroke-width="1.00" stroke-linejoin="round"/>
<path d="M260.0,263.0 L265.0,264.5" fill="none" stroke="#fff" stroke-width="1.10" stroke-linecap="round" stroke-linejoin="round"/>
<path d="M219.0,280.0 L230.0,273.5 L244.0,271.0 L249.5,275.0 L246.0,282.0 L244.5,289.0 L236.0,292.0 L228.0,292.5 L224.5,290.0 L220.0,287.0Z" fill="#000" stroke="#000" stroke-width="1.00" stroke-linejoin="round"/>
<path d="M226.0,285.0 L234.0,286.0 L235.0,291.0 L228.5,291.5 L226.2,289.5Z" fill="#fff" stroke="#000" stroke-width="0.60" stroke-linejoin="round"/>
<path d="M237.0,284.0 L244.5,281.5 L244.5,288.0 L237.5,290.5Z" fill="#fff" stroke="#000" stroke-width="0.60" stroke-linejoin="round"/>
<path d="M231.0,275.0 L237.0,273.0 L240.0,274.5 L234.0,277.2Z" fill="#fff" stroke="#000" stroke-width="0.60" stroke-linejoin="round"/>
<path d="M222.0,282.0 L224.0,284.0" fill="none" stroke="#fff" stroke-width="1.30" stroke-linecap="round" stroke-linejoin="round"/>
<path d="M232.0,280.0 L234.5,284.0" fill="none" stroke="#fff" stroke-width="1.40" stroke-linecap="round" stroke-linejoin="round"/>
<path d="M238.0,278.0 L246.0,276.0" fill="none" stroke="#fff" stroke-width="1.40" stroke-linecap="round" stroke-linejoin="round"/>
<path d="M242.0,272.0 L246.0,271.2 L249.5,275.0 L247.0,276.5Z" fill="#fff" stroke="#000" stroke-width="0.80" stroke-linejoin="round"/>
<path d="M208.0,291.5 L208.3,291.6 L208.8,291.8 L209.3,292.0 L209.9,292.2 L210.5,292.5 L211.1,292.7 L211.8,293.0 L212.5,293.2 L213.2,293.3 L213.8,293.5 L214.4,293.5 L215.0,293.5 L215.6,293.4 L216.1,293.2 L216.7,292.9 L217.3,292.6 L217.9,292.3 L218.4,291.9 L219.0,291.5 L219.5,291.1 L219.9,290.8 L220.4,290.4 L220.7,290.2 L221.0,290.0" fill="none" stroke="#000" stroke-width="2.60" stroke-linecap="round" stroke-linejoin="round"/>
<path d="M183.5,279.5 L194.5,274.5" fill="none" stroke="#000" stroke-width="1" stroke-dasharray="2.5 2"/>
<path d="M292.5,275.5 L301.0,282.5" fill="none" stroke="#000" stroke-width="4.40" stroke-linecap="round" stroke-linejoin="round"/>
<path d="M293.8,276.6 L297.6,279.7" stroke="#fff" stroke-width="1.4" stroke-dasharray="0.6 2.2" fill="none"/>
<ellipse cx="301.0" cy="282.5" rx="3.4" ry="2.7" transform="rotate(40 301.0 282.5)" fill="#000"/>
<ellipse cx="301.4" cy="283.0" rx="1.1" ry="0.8" transform="rotate(40 301.0 282.5)" fill="#fff"/>
<path d="M281.5,287.0 L289.5,294.0" fill="none" stroke="#000" stroke-width="4.40" stroke-linecap="round" stroke-linejoin="round"/>
<path d="M282.7,288.1 L286.3,291.2" stroke="#fff" stroke-width="1.4" stroke-dasharray="0.6 2.2" fill="none"/>
<ellipse cx="289.5" cy="294.0" rx="3.4" ry="2.7" transform="rotate(40 289.5 294.0)" fill="#000"/>
<ellipse cx="289.9" cy="294.5" rx="1.1" ry="0.8" transform="rotate(40 289.5 294.0)" fill="#fff"/>
<line x1="300.8" y1="285.0" x2="301.8" y2="292.0" stroke="#000" stroke-width="1.00"/>
<line x1="290.5" y1="295.2" x2="300.8" y2="295.8" stroke="#000" stroke-width="1.00"/>
<path d="M547.2,206.8 L549.5,202.2 L554.0,198.5 L560.0,197.8 L563.0,200.8 L562.2,205.2 L557.8,209.3 L551.0,209.8 L547.2,209.3Z" fill="#000" stroke="#000" stroke-width="1.00" stroke-linejoin="round"/>
<path d="M552.5,202.2 L552.7,202.2 L552.9,202.1 L553.2,201.9 L553.5,201.8 L553.8,201.6 L554.1,201.5 L554.5,201.3 L554.9,201.1 L555.2,201.0 L555.6,200.9 L555.9,200.8 L556.2,200.8 L556.6,200.7 L556.9,200.8 L557.3,200.8 L557.6,200.9 L558.0,200.9 L558.4,201.0 L558.7,201.1 L559.0,201.2 L559.3,201.3 L559.6,201.4 L559.8,201.5 L560.0,201.5" fill="none" stroke="#fff" stroke-width="1.10" stroke-linecap="round" stroke-linejoin="round"/>
<path d="M556.2,204.5 L557.8,206.8" fill="none" stroke="#fff" stroke-width="1.00" stroke-linecap="round" stroke-linejoin="round"/>
<path d="M548.8,207.5 L551.0,207.8" fill="none" stroke="#fff" stroke-width="1.00" stroke-linecap="round" stroke-linejoin="round"/>
<path d="M45.0,327.7 L45.3,328.1 L45.7,328.7 L46.1,329.3 L46.6,330.1 L47.1,330.9 L47.7,331.7 L48.2,332.6 L48.8,333.5 L49.4,334.4 L50.0,335.3 L50.5,336.2 L51.0,337.0 L51.5,337.8 L51.9,338.6 L52.4,339.5 L52.9,340.3 L53.3,341.1 L53.8,342.0 L54.2,342.9 L54.6,343.7 L55.1,344.6 L55.5,345.6 L55.9,346.5 L56.2,347.5 L56.6,348.5 L57.0,349.6 L57.3,350.6 L57.7,351.7 L58.0,352.8 L58.3,354.0 L58.6,355.1 L58.9,356.3 L59.2,357.4 L59.5,358.6 L59.7,359.8 L60.0,361.0 L60.2,362.2 L60.5,363.6 L60.7,365.0 L60.9,366.4 L61.2,367.9 L61.4,369.3 L61.5,370.7 L61.7,372.1 L61.9,373.3 L62.0,374.4 L62.1,375.3 L62.2,376.0" fill="none" stroke="#000" stroke-width="3.60" stroke-linecap="round" stroke-linejoin="round"/>
<path d="M45.0,327.7 L45.3,328.1 L45.7,328.7 L46.1,329.3 L46.6,330.1 L47.1,330.9 L47.7,331.7 L48.2,332.6 L48.8,333.5 L49.4,334.4 L50.0,335.3 L50.5,336.2 L51.0,337.0 L51.5,337.8 L51.9,338.6 L52.4,339.5 L52.9,340.3 L53.3,341.1 L53.8,342.0 L54.2,342.9 L54.6,343.7 L55.1,344.6 L55.5,345.6 L55.9,346.5 L56.2,347.5 L56.6,348.5 L57.0,349.6 L57.3,350.6 L57.7,351.7 L58.0,352.8 L58.3,354.0 L58.6,355.1 L58.9,356.3 L59.2,357.4 L59.5,358.6 L59.7,359.8 L60.0,361.0 L60.2,362.2 L60.5,363.6 L60.7,365.0 L60.9,366.4 L61.2,367.9 L61.4,369.3 L61.5,370.7 L61.7,372.1 L61.9,373.3 L62.0,374.4 L62.1,375.3 L62.2,376.0" fill="none" stroke="#fff" stroke-width="1.00" stroke-linecap="round" stroke-linejoin="round"/>
<path d="M45.0,327.7 L45.3,328.1 L45.7,328.7 L46.1,329.3 L46.6,330.1 L47.1,330.9 L47.7,331.7 L48.2,332.6 L48.8,333.5 L49.4,334.4 L50.0,335.3 L50.5,336.2 L51.0,337.0 L51.5,337.8 L51.9,338.6 L52.4,339.5 L52.9,340.3 L53.3,341.1 L53.8,342.0 L54.2,342.9 L54.6,343.7 L55.1,344.6 L55.5,345.6 L55.9,346.5 L56.2,347.5 L56.6,348.5 L57.0,349.6 L57.3,350.6 L57.7,351.7 L58.0,352.8 L58.3,354.0 L58.6,355.1 L58.9,356.3 L59.2,357.4 L59.5,358.6 L59.7,359.8 L60.0,361.0 L60.2,362.2 L60.5,363.6 L60.7,365.0 L60.9,366.4 L61.2,367.9 L61.4,369.3 L61.5,370.7 L61.7,372.1 L61.9,373.3 L62.0,374.4 L62.1,375.3 L62.2,376.0" fill="none" stroke="#000" stroke-width="1.2" stroke-dasharray="1.5 2.5"/>
<circle cx="45.0" cy="327.7" r="1.6" fill="#000"/>
<path d="M69.3,376.0 L70.5,373.0 L79.5,372.7 L81.0,376.0Z" fill="#fff" stroke="#000" stroke-width="1.60" stroke-linejoin="round"/>
<path d="M57.8,378.2 L64.5,376.0 L85.5,376.3 L90.0,382.0 L90.0,390.2 L87.8,392.5 L56.2,392.5 L55.8,388.0Z" fill="#fff" stroke="#000" stroke-width="1.80" stroke-linejoin="round"/>
<path d="M55.8,391.8 L89.2,392.2" fill="none" stroke="#000" stroke-width="2.80" stroke-linecap="round" stroke-linejoin="round"/>
<path d="M58.5,380.5 L64.5,378.2 L86.2,379.0" fill="none" stroke="#000" stroke-width="1.30" stroke-linecap="round" stroke-linejoin="round"/>
<path d="M60.8,383.5 L87.0,383.8" fill="none" stroke="#000" stroke-width="1.80" stroke-linecap="round" stroke-linejoin="round"/>
<path d="M87.8,382.0 L87.8,391.0" fill="none" stroke="#000" stroke-width="1.50" stroke-linecap="round" stroke-linejoin="round"/>
<path d="M60.0,376.0 L64.5,376.0 L63.8,379.8 L60.0,380.2Z" fill="#000" stroke="#000" stroke-width="0.80" stroke-linejoin="round"/>
<path d="M85.0,514.4 L85.7,514.4 L86.6,514.5 L87.6,514.5 L88.7,514.6 L89.9,514.6 L91.2,514.7 L92.6,514.8 L94.1,514.8 L95.5,514.8 L97.0,514.8 L98.5,514.8 L100.0,514.8 L101.5,514.7 L103.0,514.7 L104.6,514.6 L106.1,514.5 L107.8,514.4 L109.4,514.2 L111.1,514.1 L112.9,513.9 L114.6,513.8 L116.4,513.6 L118.2,513.4 L120.0,513.2 L121.9,513.0 L124.0,512.7 L126.3,512.4 L128.6,512.1 L130.9,511.8 L133.2,511.5 L135.5,511.2 L137.6,510.9 L139.6,510.6 L141.3,510.4 L142.8,510.2 L144.0,510.0" fill="none" stroke="#5a5a96" stroke-width="3.40" stroke-linecap="round" stroke-linejoin="round"/>
<path d="M85.0,513.6 L85.7,513.6 L86.6,513.7 L87.6,513.7 L88.7,513.8 L89.9,513.8 L91.2,513.9 L92.6,514.0 L94.1,514.0 L95.5,514.0 L97.0,514.0 L98.5,514.0 L100.0,514.0 L101.5,513.9 L103.1,513.9 L104.7,513.8 L106.4,513.6 L108.1,513.5 L109.8,513.4 L111.6,513.2 L113.3,513.0 L115.0,512.9 L116.7,512.7 L118.4,512.6 L120.0,512.4 L121.6,512.2 L123.3,512.1 L125.1,511.9 L126.8,511.7 L128.6,511.5 L130.2,511.3 L131.9,511.1 L133.4,510.9 L134.8,510.8 L136.1,510.6 L137.1,510.5 L138.0,510.4" fill="none" stroke="#38383c" stroke-width="1.60" stroke-linecap="round" stroke-linejoin="round"/>
<path d="M169.6,511.6 L169.9,511.9 L170.3,512.3 L170.8,512.7 L171.3,513.2 L171.9,513.7 L172.6,514.3 L173.2,514.9 L173.8,515.5 L174.3,516.1 L174.8,516.8 L175.3,517.4 L175.6,518.0 L175.9,518.6 L176.1,519.3 L176.3,519.9 L176.5,520.6 L176.6,521.3 L176.7,522.0 L176.8,522.7 L176.8,523.3 L176.8,524.0 L176.7,524.7 L176.6,525.4 L176.4,526.0 L176.1,526.6 L175.8,527.3 L175.4,528.0 L174.9,528.7 L174.3,529.3 L173.8,530.0 L173.2,530.6 L172.6,531.2 L172.1,531.8 L171.7,532.2 L171.3,532.7 L171.0,533.0" fill="none" stroke="#3c3c50" stroke-width="4.00" stroke-linecap="round" stroke-linejoin="round"/>
<path d="M120.0,479.6 L120.5,478.1 L121.4,476.8 L122.6,475.5 L124.1,474.3 L125.6,473.2 L127.2,472.2 L128.7,471.1 L130.0,470.0 L131.1,468.9 L132.0,467.7 L133.0,466.6 L133.9,465.5 L134.8,464.5 L135.8,463.5 L136.8,462.7 L138.0,462.0 L139.3,461.4 L140.7,461.0 L142.2,460.7 L143.8,460.4 L145.3,460.3 L146.9,460.1 L148.5,460.1 L150.0,460.0 L151.5,459.9 L153.2,459.9 L154.8,459.9 L156.4,460.0 L158.0,460.1 L159.5,460.3 L160.8,460.6 L162.0,461.0 L163.0,461.5 L163.8,462.1 L164.5,462.8 L165.1,463.5 L165.7,464.3 L166.1,465.2 L166.6,466.1 L167.0,467.0 L167.4,468.0 L167.7,469.0 L167.9,470.1 L168.1,471.2 L168.2,472.4 L168.4,473.6 L168.7,474.8 L169.0,476.0 L169.4,477.2 L169.9,478.4 L170.4,479.7 L170.9,480.9 L171.5,482.2 L172.0,483.5 L172.5,484.7 L173.0,486.0 L173.5,487.3 L174.0,488.5 L174.5,489.8 L175.0,491.1 L175.5,492.4 L175.9,493.6 L176.2,494.8 L176.4,496.0 L176.5,497.1 L176.5,498.2 L176.4,499.2 L176.3,500.2 L176.1,501.2 L175.8,502.1 L175.4,503.1 L175.0,504.0 L174.5,504.9 L173.9,505.9 L173.2,506.8 L172.4,507.7 L171.6,508.6 L170.7,509.5 L169.9,510.3 L169.0,511.0 L168.1,511.7 L167.1,512.4 L166.1,513.0 L165.1,513.6 L164.1,514.2 L163.0,514.6 L162.0,515.0 L161.0,515.2 L160.0,515.3 L159.0,515.3 L158.0,515.2 L157.1,515.0 L156.1,514.7 L155.1,514.4 L154.0,514.0 L153.0,513.6 L151.9,513.1 L150.8,512.5 L149.7,511.9 L148.5,511.2 L147.3,510.5 L146.2,509.7 L145.1,508.8 L144.0,508.0 L143.0,507.1 L142.0,506.1 L141.0,505.0 L140.0,504.0 L139.0,502.9 L138.0,501.8 L137.0,500.9 L136.0,500.0 L134.9,499.3 L133.8,498.8 L132.6,498.4 L131.4,498.0 L130.3,497.5 L129.1,496.9 L128.0,496.1 L127.0,495.0 L125.9,493.5 L124.7,491.7 L123.5,489.7 L122.3,487.6 L121.3,485.4 L120.5,483.3 L120.0,481.3Z" fill="#6060a0" stroke="#5a5a90" stroke-width="1.00" stroke-linejoin="round"/>
<path d="M129.6,478.4 L130.4,478.4 L131.4,478.9 L132.7,479.7 L134.2,480.6 L135.8,481.7 L137.3,482.6 L138.7,483.3 L140.0,483.6 L141.1,483.5 L142.2,483.3 L143.3,482.8 L144.3,482.3 L145.3,481.6 L146.2,480.9 L147.1,480.2 L148.0,479.6 L148.9,479.0 L149.7,478.4 L150.4,477.7 L151.2,477.1 L151.9,476.4 L152.6,475.7 L153.3,475.1 L154.0,474.4 L154.7,473.7 L155.3,472.9 L155.9,472.1 L156.5,471.3 L157.1,470.5 L157.7,469.9 L158.4,469.4 L159.0,469.0 L159.7,468.8 L160.4,468.8 L161.1,468.8 L161.8,468.9 L162.5,469.2 L163.2,469.5 L163.8,469.9 L164.4,470.4 L164.9,471.0 L165.3,471.6 L165.7,472.3 L166.1,473.2 L166.5,474.0 L166.8,475.0 L167.2,476.0 L167.6,477.0 L168.0,478.1 L168.5,479.2 L169.0,480.4 L169.5,481.7 L169.9,483.0 L170.4,484.3 L170.9,485.7 L171.4,487.0 L171.9,488.4 L172.5,489.9 L173.1,491.4 L173.6,492.9 L174.2,494.5 L174.6,495.9 L175.0,497.2 L175.2,498.4 L175.3,499.4 L175.3,500.3 L175.2,501.0 L175.0,501.7 L174.7,502.4 L174.4,503.0 L174.0,503.7 L173.6,504.4 L173.1,505.2 L172.6,506.0 L172.0,506.9 L171.4,507.7 L170.7,508.5 L170.0,509.3 L169.2,510.1 L168.4,510.8 L167.5,511.5 L166.6,512.2 L165.6,512.9 L164.6,513.5 L163.5,514.1 L162.5,514.6 L161.4,515.0 L160.4,515.2 L159.4,515.3 L158.4,515.2 L157.4,515.0 L156.4,514.7 L155.4,514.3 L154.4,513.8 L153.4,513.3 L152.4,512.8 L151.4,512.2 L150.5,511.6 L149.6,510.8 L148.6,510.0 L147.7,509.2 L146.7,508.3 L145.8,507.4 L144.8,506.4 L143.8,505.4 L142.7,504.3 L141.6,503.1 L140.5,501.9 L139.4,500.6 L138.3,499.4 L137.3,498.2 L136.4,497.0 L135.6,495.9 L134.7,494.7 L134.0,493.6 L133.3,492.5 L132.6,491.4 L132.0,490.3 L131.5,489.2 L131.0,488.0 L130.6,486.7 L130.1,485.3 L129.7,483.8 L129.3,482.3 L129.1,480.9 L129.0,479.8 L129.2,478.9Z" fill="#38383c" stroke="#38383c" stroke-width="1.00" stroke-linejoin="round"/>
<path d="M144.0,490.0 L154.0,502.0" fill="none" stroke="#5c5c98" stroke-width="2.20" stroke-linecap="round" stroke-linejoin="round"/>
<path d="M141.0,467.0 L150.0,466.4" fill="none" stroke="#55558a" stroke-width="0.80" stroke-linecap="round" stroke-linejoin="round"/>
<path d="M139.0,472.4 L150.0,471.6" fill="none" stroke="#55558a" stroke-width="0.80" stroke-linecap="round" stroke-linejoin="round"/>
<path d="M63.6,510.4 L84.0,509.4 L85.0,521.0 L80.0,523.0 L64.4,520.0Z" fill="#38383c" stroke="#38383c" stroke-width="1.00" stroke-linejoin="round"/>
<path d="M164.0,534.0 L171.0,531.0 L178.0,537.0 L171.0,551.0 L159.0,545.0Z" fill="#38383c" stroke="#38383c" stroke-width="1.00" stroke-linejoin="round"/>
<path d="M669.0,491.0 C670.0,498.0 684.0,498.0 684.0,488.0" fill="#fff" stroke="#000" stroke-width="1.60" stroke-linejoin="round" stroke-linecap="round" />
<path d="M653.0,475.0 L679.0,465.6 L689.0,475.0 L686.0,487.0 L660.0,495.0 L650.0,487.0Z" fill="#fff" stroke="#000" stroke-width="1.70" stroke-linejoin="round"/>
<path d="M653.0,475.0 L662.0,484.0 L689.0,475.0" fill="none" stroke="#000" stroke-width="1.50" stroke-linecap="round" stroke-linejoin="round"/>
<path d="M662.0,484.0 L660.0,495.0" fill="none" stroke="#000" stroke-width="1.50" stroke-linecap="round" stroke-linejoin="round"/>
<path d="M626.0,553.0 L626.0,558.0 L630.4,560.0 L635.0,558.0 L635.0,552.4Z" fill="#fff" stroke="#000" stroke-width="1.50" stroke-linejoin="round"/>
<path d="M620.0,525.0 L630.0,518.4 L640.0,523.0 L640.0,552.0 L630.0,554.4 L620.0,549.0Z" fill="#fff" stroke="#000" stroke-width="1.70" stroke-linejoin="round"/>
<path d="M620.0,525.0 L630.0,529.0 L640.0,523.0" fill="none" stroke="#000" stroke-width="1.50" stroke-linecap="round" stroke-linejoin="round"/>
<path d="M630.0,529.0 L630.0,554.4" fill="none" stroke="#000" stroke-width="1.50" stroke-linecap="round" stroke-linejoin="round"/>
<g style="filter:grayscale(1)">
<text x="340.0" y="217.0" font-size="19.0" text-anchor="middle">9</text>
<text x="386.0" y="269.0" font-size="19.0" text-anchor="middle">2</text>
<line x1="392.0" y1="264.5" x2="421.7" y2="264.5" stroke="#000" stroke-width="1.00"/>
<text x="596.5" y="206.8" font-size="19.0" text-anchor="middle">13</text>
<line x1="563.0" y1="201.5" x2="587.0" y2="201.5" stroke="#000" stroke-width="1.00"/>
<text x="463.0" y="314.0" font-size="19.0" text-anchor="middle">3</text>
<line x1="430.0" y1="310.5" x2="456.0" y2="310.5" stroke="#000" stroke-width="1.00"/>
<line x1="461.5" y1="315.0" x2="461.5" y2="331.0" stroke="#000" stroke-width="1.00"/>
<text x="177.0" y="292.0" font-size="19.0" text-anchor="middle">7</text>
<text x="308.0" y="308.5" font-size="18.0" text-anchor="middle">14</text>
<text x="74.0" y="420.0" font-size="18.0" text-anchor="middle">8</text>
<line x1="74.5" y1="393.0" x2="74.5" y2="404.0" stroke="#000" stroke-width="1.00"/>
<text x="154.5" y="438.5" font-size="14.0" text-anchor="middle" font-weight="bold">11</text>
<line x1="154.5" y1="439.5" x2="154.5" y2="467.0" stroke="#000" stroke-width="1.00"/>
<text x="742.5" y="337.5" font-size="18.0" text-anchor="middle">18</text>
<line x1="743.5" y1="339.0" x2="743.5" y2="376.0" stroke="#000" stroke-width="1.00"/>
<text x="768.0" y="330.5" font-size="18.0" text-anchor="middle">6</text>
<line x1="771.5" y1="331.5" x2="771.5" y2="357.0" stroke="#000" stroke-width="1.00"/>
<text x="518.5" y="530.5" font-size="19.0" text-anchor="middle">5</text>
<line x1="476.0" y1="523.5" x2="513.0" y2="523.5" stroke="#000" stroke-width="1.00"/>
<text x="725.6" y="486.0" font-size="17.0" text-anchor="middle">1</text>
<line x1="691.0" y1="480.5" x2="719.6" y2="480.5" stroke="#000" stroke-width="1.00"/>
<text x="672.5" y="541.0" font-size="14.0" text-anchor="middle" font-weight="bold">10</text>
<line x1="640.0" y1="537.5" x2="662.6" y2="537.5" stroke="#000" stroke-width="1.00"/>
</g>
</svg></body></html>
